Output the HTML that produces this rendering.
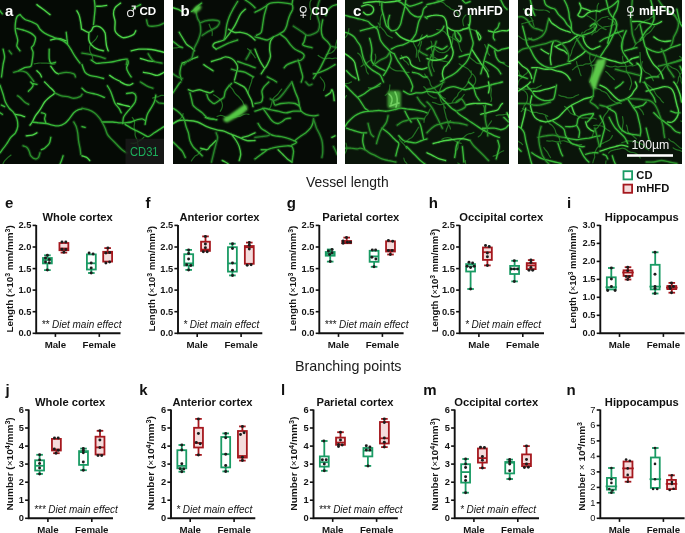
<!DOCTYPE html>
<html><head><meta charset="utf-8"><style>
html,body{margin:0;padding:0;background:#fff;width:685px;height:533px;overflow:hidden}
svg{display:block;will-change:transform}
text{font-family:"Liberation Sans",sans-serif}
</style></head><body>
<svg width="685" height="533" viewBox="0 0 685 533">
<defs><filter id="soft" x="-30%" y="-30%" width="160%" height="160%"><feGaussianBlur stdDeviation="0.8"/></filter></defs>
<rect width="685" height="533" fill="#fff"/>
<rect x="0" y="0" width="164" height="164" fill="#050a05"/>
<clipPath id="clipi0"><rect x="0" y="0" width="164" height="164"/></clipPath>
<g clip-path="url(#clipi0)" fill="none" stroke-linecap="round" stroke-linejoin="round">
<path d="M139.0,149.1 C138.9,148.6 138.6,147.2 138.3,146.2 C138.1,145.2 137.9,144.2 137.7,143.3 C137.5,142.3 137.6,141.2 137.3,140.3 C137.0,139.3 136.3,138.5 136.0,137.6 C135.6,136.7 135.2,135.7 135.1,134.7 C134.9,133.8 135.3,132.7 135.1,131.7 C135.0,130.8 134.5,129.8 134.3,128.8 C134.2,127.9 134.1,126.8 134.2,125.9 C134.2,124.9 134.6,123.9 134.6,122.9 C134.6,121.9 134.4,120.8 134.0,119.9 C133.6,119.0 132.6,117.9 132.3,117.5 M97.6,35.9 C97.4,36.4 96.8,37.7 96.2,38.6 C95.6,39.4 94.9,40.1 94.2,40.8 C93.5,41.5 92.7,42.1 92.0,42.9 C91.4,43.6 90.6,44.4 90.2,45.3 C89.8,46.2 89.6,47.2 89.6,48.2 C89.5,49.2 89.7,50.2 90.0,51.2 C90.3,52.1 90.8,53.0 91.2,53.9 C91.6,54.8 92.1,55.7 92.4,56.7 C92.6,57.6 92.8,59.1 92.9,59.6 M34.3,63.9 C34.8,63.8 36.2,63.5 37.2,63.3 C38.2,63.2 39.2,63.0 40.2,63.0 C41.2,63.0 42.2,63.1 43.2,63.1 C44.2,63.2 45.2,63.2 46.2,63.2 C47.2,63.2 48.2,63.2 49.2,63.4 C50.2,63.5 51.1,64.0 52.1,64.1 C53.1,64.2 54.6,64.0 55.1,63.9 M131.0,143.2 C131.5,143.2 133.0,143.5 134.0,143.4 C135.0,143.3 136.0,142.9 136.9,142.5 C137.7,142.1 138.5,141.3 139.3,140.7 C140.1,140.2 141.2,139.9 141.9,139.3 C142.7,138.7 143.6,137.5 144.0,137.1 M11.0,155.1 C10.6,155.4 9.3,156.3 8.5,156.9 C7.8,157.6 7.1,158.3 6.4,159.0 C5.7,159.7 4.9,160.4 4.4,161.2 C3.8,162.0 3.5,163.0 3.0,163.9 C2.5,164.7 1.9,165.5 1.4,166.4 C1.0,167.3 0.6,168.3 0.5,169.3 C0.3,170.3 0.4,171.3 0.5,172.3 C0.6,173.3 1.0,174.2 1.2,175.2 C1.5,176.1 2.1,177.5 2.2,178.0 M152.6,98.1 C153.0,97.9 154.4,97.3 155.4,97.1 C156.4,96.8 157.4,96.9 158.4,96.6 C159.3,96.3 160.2,95.6 161.1,95.4 C162.1,95.2 163.1,95.5 164.1,95.5 C165.1,95.4 166.1,95.4 167.1,95.2 C168.1,95.0 169.1,94.8 170.0,94.4 C170.9,94.0 172.2,93.2 172.6,93.0" stroke="#2b8f2b" stroke-width="1.2" opacity="0.75"/>
<path d="M36.9,4.6 C37.9,5.4 40.9,7.6 43.1,9.2 C45.3,10.9 48.8,13.7 50.0,14.6 M0.0,10.8 L2.3,13.8 M20.0,14.6 C19.5,15.0 17.7,15.5 16.9,16.9 C16.2,18.3 15.6,20.8 15.4,23.1 C15.1,25.4 15.0,27.9 15.4,30.8 C15.8,33.6 17.4,37.4 17.7,40.0 C17.9,42.6 16.5,44.4 16.9,46.2 C17.3,47.9 19.5,50.0 20.0,50.8 M20.0,14.6 C20.8,15.4 22.8,18.1 24.6,19.2 C26.4,20.4 28.7,20.6 30.8,21.5 C32.8,22.4 35.4,23.3 36.9,24.6 C38.5,25.9 38.7,27.8 40.0,29.2 C41.3,30.6 42.8,31.9 44.6,33.1 C46.4,34.2 48.7,35.3 50.8,36.2 C52.8,37.1 54.9,37.7 56.9,38.5 C59.0,39.2 61.3,39.7 63.1,40.8 C64.9,41.8 66.4,43.2 67.7,44.6 C69.0,46.0 69.5,47.2 70.8,49.2 C72.1,51.3 73.8,54.6 75.4,56.9 C76.9,59.2 79.2,62.1 80.0,63.1 M16.9,28.5 C17.9,28.7 20.8,29.2 23.1,30.0 C25.4,30.8 28.7,31.8 30.8,33.1 C32.8,34.4 34.9,35.8 35.4,37.7 C35.9,39.6 34.5,42.9 33.8,44.6 C33.2,46.3 31.7,46.4 31.5,47.7 C31.4,49.0 32.9,50.3 33.1,52.3 C33.2,54.4 32.7,57.7 32.3,60.0 C31.9,62.3 32.1,64.9 30.8,66.2 C29.5,67.4 26.7,66.9 24.6,67.7 C22.6,68.5 19.5,70.3 18.5,70.8 M3.1,49.2 C3.3,50.5 4.6,54.4 4.6,56.9 C4.6,59.5 3.6,61.3 3.1,64.6 C2.6,67.9 1.8,74.9 1.5,76.9 M9.2,50.8 L11.5,53.8 M49.2,49.2 C49.2,50.8 49.0,56.2 49.2,58.5 C49.5,60.8 49.7,62.4 50.8,63.1 C51.8,63.7 54.6,62.4 55.4,62.3 M50.8,40.0 C52.1,39.7 55.9,38.3 58.5,38.5 C61.0,38.6 64.9,40.4 66.2,40.8 M66.2,32.3 C66.3,33.3 66.7,36.4 66.9,38.5 C67.2,40.5 67.6,43.6 67.7,44.6 M76.9,10.8 C77.3,11.5 78.6,13.3 79.2,15.4 C79.9,17.4 80.4,20.8 80.8,23.1 C81.2,25.4 81.4,28.2 81.5,29.2 M13.8,72.3 C14.9,72.1 17.9,70.8 20.0,70.8 C22.1,70.8 24.6,71.5 26.2,72.3 C27.7,73.1 27.9,73.8 29.2,75.4 C30.5,76.9 33.1,80.5 33.8,81.5 M58.5,73.8 C59.7,73.6 63.6,72.3 66.2,72.3 C68.7,72.3 72.3,73.1 73.8,73.8 C75.4,74.6 75.1,76.4 75.4,76.9 M50.8,66.2 C51.5,67.2 54.1,71.0 55.4,72.3 C56.7,73.6 57.9,73.6 58.5,73.8 M36.9,70.8 C37.4,71.3 39.2,72.8 40.0,73.8 C40.8,74.9 41.3,76.4 41.5,76.9 M94.3,0.0 C94.4,1.3 95.1,4.9 95.1,7.7 C95.1,10.5 94.6,14.1 94.3,16.9 C94.1,19.7 93.7,23.3 93.5,24.6 M96.6,6.2 C97.5,6.2 100.3,6.3 102.0,6.2 C103.7,6.0 105.8,5.5 106.6,5.4 M120.5,3.1 C119.6,3.8 116.2,5.9 115.1,7.7 C113.9,9.5 113.5,11.5 113.5,13.8 C113.5,16.2 114.8,18.7 115.1,21.5 C115.3,24.4 114.4,28.5 115.1,30.8 C115.7,33.1 117.6,34.2 118.9,35.4 C120.2,36.5 121.2,37.4 122.8,37.7 C124.3,37.9 126.4,37.4 128.2,36.9 C129.9,36.4 132.3,35.6 133.5,34.6 C134.8,33.6 135.5,31.4 135.8,30.8 M82.0,29.2 C83.0,29.7 86.6,32.1 88.2,32.3 C89.7,32.6 90.3,31.7 91.2,30.8 C92.1,29.9 92.5,27.7 93.5,26.9 C94.6,26.2 96.0,25.9 97.4,26.2 C98.8,26.4 100.7,27.3 102.0,28.5 C103.3,29.6 104.4,31.2 105.1,33.1 C105.7,35.0 105.6,37.8 105.8,40.0 C106.1,42.2 106.2,44.4 106.6,46.2 C107.0,47.9 107.9,50.0 108.2,50.8 M88.9,33.1 C88.9,34.2 88.5,38.1 88.9,40.0 C89.3,41.9 89.8,43.1 91.2,44.6 C92.6,46.2 95.3,48.2 97.4,49.2 C99.4,50.3 102.5,50.5 103.5,50.8 M132.8,8.5 L140.5,4.6 M146.6,20.0 C146.9,20.9 147.1,24.4 148.2,25.4 C149.2,26.4 151.0,26.2 152.8,26.2 C154.6,26.2 157.1,25.9 158.9,25.4 C160.8,24.9 163.2,23.5 164.0,23.1 M131.2,50.8 C132.5,50.5 136.4,49.5 138.9,49.2 C141.5,49.0 144.1,49.1 146.6,49.2 C149.2,49.4 151.4,49.5 154.3,50.0 C157.2,50.5 162.4,51.9 164.0,52.3 M82.0,53.1 C83.5,53.3 88.2,54.0 91.2,54.6 C94.3,55.3 98.2,56.3 100.5,56.9 C102.8,57.6 104.3,58.2 105.1,58.5 M91.2,60.0 C92.0,60.5 94.3,62.6 95.8,63.1 C97.4,63.6 98.4,63.2 100.5,63.1 C102.5,62.9 105.8,62.6 108.2,62.3 C110.5,62.1 112.3,61.9 114.3,61.5 C116.4,61.2 118.4,60.4 120.5,60.0 C122.5,59.6 125.3,58.7 126.6,59.2 C127.9,59.7 128.2,61.7 128.2,63.1 C128.2,64.5 126.6,66.2 126.6,67.7 C126.6,69.2 127.4,70.8 128.2,72.3 C128.9,73.8 130.7,76.2 131.2,76.9 M127.4,59.2 L126.3,64.6 M148.2,53.8 C148.7,54.6 150.2,57.2 151.2,58.5 C152.3,59.7 152.5,60.8 154.3,61.5 C156.1,62.3 160.7,62.8 162.0,63.1 M140.5,58.5 C141.7,58.8 145.8,60.3 148.2,60.8 C150.5,61.3 153.3,61.4 154.3,61.5 M82.0,64.6 C82.5,65.9 83.8,70.5 85.1,72.3 C86.4,74.1 87.6,74.6 89.7,75.4 C91.7,76.2 95.1,76.4 97.4,76.9 C99.7,77.4 102.5,78.2 103.5,78.5 M109.7,75.4 C110.5,75.9 112.5,77.4 114.3,78.5 C116.1,79.5 119.4,81.0 120.5,81.5 M143.5,72.3 C144.8,72.6 148.9,73.3 151.2,73.8 C153.5,74.4 155.3,75.6 157.4,75.4 C159.5,75.1 162.9,72.8 164.0,72.3 M0.0,85.1 C0.5,86.6 2.2,91.5 3.1,94.3 C4.0,97.1 4.4,99.7 5.4,102.0 C6.4,104.3 7.8,106.4 9.2,108.2 C10.6,109.9 12.6,111.0 13.8,112.8 C15.1,114.6 16.3,116.6 16.9,118.9 C17.6,121.2 17.9,124.3 17.7,126.6 C17.4,128.9 16.5,131.0 15.4,132.8 C14.2,134.6 12.2,135.6 10.8,137.4 C9.4,139.2 8.3,141.5 6.9,143.5 C5.5,145.6 3.5,148.2 2.3,149.7 C1.2,151.2 0.4,152.3 0.0,152.8 M30.8,82.0 C31.2,82.5 32.9,84.1 33.1,85.1 C33.2,86.1 32.3,87.1 31.5,88.2 C30.8,89.2 29.0,90.7 28.5,91.2 M32.3,83.5 L36.9,84.3 M44.6,82.0 C45.4,82.8 47.6,84.8 49.2,86.6 C50.9,88.4 54.6,91.0 54.6,92.8 C54.6,94.6 50.9,95.8 49.2,97.4 C47.6,98.9 46.2,99.9 44.6,102.0 C43.1,104.1 41.5,107.4 40.0,109.7 C38.5,112.0 36.7,113.8 35.4,115.8 C34.1,117.9 33.2,120.5 32.3,122.0 C31.4,123.5 30.4,124.6 30.0,125.1 M54.6,92.8 C55.8,93.3 59.4,95.2 61.5,95.8 C63.7,96.5 65.6,96.2 67.7,96.6 C69.7,97.0 71.8,98.2 73.8,98.2 C75.9,98.2 78.6,97.3 80.0,96.6 C81.4,96.0 81.7,94.7 82.0,94.3 M17.7,95.8 C18.1,96.1 18.8,96.4 20.0,97.4 C21.2,98.4 23.2,100.8 24.6,102.0 C26.0,103.2 27.8,103.9 28.5,104.3 M15.4,114.3 C16.2,114.4 18.5,114.7 20.0,115.1 C21.5,115.5 23.8,116.4 24.6,116.6 M41.5,112.8 C42.2,113.0 44.9,113.3 45.4,114.3 C45.9,115.3 44.5,117.4 44.6,118.9 C44.7,120.5 45.9,122.8 46.2,123.5 M32.3,122.0 C33.3,122.1 36.2,122.5 38.5,122.8 C40.8,123.0 43.8,123.2 46.2,123.5 C48.5,123.9 50.3,124.7 52.3,125.1 C54.4,125.5 56.4,126.1 58.5,125.8 C60.5,125.6 62.8,124.7 64.6,123.5 C66.4,122.4 67.7,120.7 69.2,118.9 C70.8,117.1 72.3,114.3 73.8,112.8 C75.4,111.2 77.1,110.3 78.5,109.7 C79.8,109.1 81.4,109.1 82.0,108.9 M73.8,122.0 C74.2,122.8 75.5,124.8 76.2,126.6 C76.8,128.4 77.3,130.5 77.7,132.8 C78.1,135.1 78.1,137.9 78.5,140.5 C78.8,143.0 79.6,145.8 80.0,148.2 C80.4,150.5 80.6,153.3 80.8,154.3 M26.2,135.8 C27.2,135.7 30.5,135.6 32.3,135.1 C34.1,134.6 36.2,133.2 36.9,132.8 M50.8,137.4 C50.5,138.4 50.3,141.7 49.2,143.5 C48.2,145.3 45.9,147.1 44.6,148.2 C43.3,149.2 42.1,149.4 41.5,149.7 M23.1,145.8 C23.7,146.1 25.9,146.5 26.9,147.4 C27.9,148.3 28.6,149.8 29.2,151.2 C29.9,152.6 29.7,154.6 30.8,155.8 C31.8,157.1 34.1,158.7 35.4,158.9 C36.7,159.2 37.7,158.4 38.5,157.4 C39.2,156.4 39.7,153.5 40.0,152.8 M63.1,155.8 C62.8,156.6 62.1,159.1 61.5,160.5 C61.0,161.8 60.3,163.4 60.0,164.0 M0.0,112.8 L2.3,114.3 M1.5,105.1 L4.6,106.6 M82.0,88.2 C82.8,88.8 84.8,91.1 86.6,92.0 C88.4,92.9 90.7,93.0 92.8,93.5 C94.8,94.1 97.0,94.4 98.9,95.1 C100.8,95.7 103.4,97.0 104.3,97.4 M120.5,82.0 C121.2,82.4 123.5,83.8 125.1,84.3 C126.6,84.8 128.4,85.2 129.7,85.1 C131.0,84.9 132.3,83.8 132.8,83.5 M107.4,85.8 C107.9,86.7 109.6,89.3 110.5,91.2 C111.4,93.2 112.0,95.3 112.8,97.4 C113.5,99.4 114.1,101.7 115.1,103.5 C116.1,105.3 117.9,106.6 118.9,108.2 C119.9,109.7 120.8,112.0 121.2,112.8 M126.6,93.5 C127.6,93.4 131.2,92.4 132.8,92.8 C134.3,93.2 135.5,94.3 135.8,95.8 C136.2,97.4 135.8,100.1 135.1,102.0 C134.3,103.9 132.6,105.6 131.2,107.4 C129.8,109.2 127.9,111.1 126.6,112.8 C125.3,114.4 124.2,115.6 123.5,117.4 C122.9,119.2 122.9,122.5 122.8,123.5 M117.4,103.5 C118.4,103.8 121.5,104.6 123.5,105.1 C125.6,105.6 128.7,106.4 129.7,106.6 M82.0,108.2 C83.0,108.4 86.1,108.9 88.2,109.7 C90.2,110.5 92.5,111.5 94.3,112.8 C96.1,114.1 97.6,115.8 98.9,117.4 C100.2,118.9 101.0,120.2 102.0,122.0 C103.0,123.8 104.2,126.1 105.1,128.2 C106.0,130.2 106.4,132.5 107.4,134.3 C108.4,136.1 109.8,137.4 111.2,138.9 C112.6,140.5 114.1,141.7 115.8,143.5 C117.6,145.3 120.2,148.2 122.0,149.7 C123.8,151.2 125.8,152.3 126.6,152.8 M102.0,122.0 C102.8,122.0 104.8,122.0 106.6,122.0 C108.4,122.0 110.7,121.9 112.8,122.0 C114.8,122.1 116.9,122.6 118.9,122.8 C121.0,122.9 123.0,122.9 125.1,122.8 C127.1,122.6 129.2,122.5 131.2,122.0 C133.3,121.5 135.6,120.2 137.4,119.7 C139.2,119.2 140.7,118.8 142.0,118.9 C143.3,119.1 144.6,120.2 145.1,120.5 M125.1,124.3 C126.1,124.9 129.2,127.0 131.2,128.2 C133.3,129.3 135.3,130.2 137.4,131.2 C139.4,132.3 141.7,133.4 143.5,134.3 C145.3,135.2 146.4,136.9 148.2,136.6 C149.9,136.4 152.3,134.1 154.3,132.8 C156.4,131.5 158.8,129.9 160.5,128.9 C162.1,127.9 163.4,127.0 164.0,126.6 M155.8,95.1 C155.6,96.2 155.2,99.7 154.3,102.0 C153.4,104.3 151.6,106.9 150.5,108.9 C149.3,111.0 148.2,112.4 147.4,114.3 C146.6,116.2 146.2,118.8 145.8,120.5 C145.5,122.1 145.2,123.7 145.1,124.3 M155.8,100.5 C156.4,100.8 157.6,102.3 158.9,102.8 C160.3,103.3 163.2,103.4 164.0,103.5 M140.5,82.0 C141.5,82.6 144.6,84.8 146.6,85.8 C148.7,86.9 151.7,87.8 152.8,88.2 M82.0,126.6 L85.1,127.4 M82.0,155.8 C82.8,156.1 85.3,156.6 86.6,157.4 C87.9,158.2 89.2,159.9 89.7,160.5" stroke="#3cb83c" stroke-width="3.5" opacity="0.2"/>
<path d="M36.9,4.6 C37.9,5.4 40.9,7.6 43.1,9.2 C45.3,10.9 48.8,13.7 50.0,14.6 M50.8,40.0 C52.1,39.7 55.9,38.3 58.5,38.5 C61.0,38.6 64.9,40.4 66.2,40.8 M76.9,10.8 C77.3,11.5 78.6,13.3 79.2,15.4 C79.9,17.4 80.4,20.8 80.8,23.1 C81.2,25.4 81.4,28.2 81.5,29.2 M50.8,66.2 C51.5,67.2 54.1,71.0 55.4,72.3 C56.7,73.6 57.9,73.6 58.5,73.8 M36.9,70.8 C37.4,71.3 39.2,72.8 40.0,73.8 C40.8,74.9 41.3,76.4 41.5,76.9 M96.6,6.2 C97.5,6.2 100.3,6.3 102.0,6.2 C103.7,6.0 105.8,5.5 106.6,5.4 M120.5,3.1 C119.6,3.8 116.2,5.9 115.1,7.7 C113.9,9.5 113.5,11.5 113.5,13.8 C113.5,16.2 114.8,18.7 115.1,21.5 C115.3,24.4 114.4,28.5 115.1,30.8 C115.7,33.1 117.6,34.2 118.9,35.4 C120.2,36.5 121.2,37.4 122.8,37.7 C124.3,37.9 126.4,37.4 128.2,36.9 C129.9,36.4 132.3,35.6 133.5,34.6 C134.8,33.6 135.5,31.4 135.8,30.8 M82.0,29.2 C83.0,29.7 86.6,32.1 88.2,32.3 C89.7,32.6 90.3,31.7 91.2,30.8 C92.1,29.9 92.5,27.7 93.5,26.9 C94.6,26.2 96.0,25.9 97.4,26.2 C98.8,26.4 100.7,27.3 102.0,28.5 C103.3,29.6 104.4,31.2 105.1,33.1 C105.7,35.0 105.6,37.8 105.8,40.0 C106.1,42.2 106.2,44.4 106.6,46.2 C107.0,47.9 107.9,50.0 108.2,50.8 M88.9,33.1 C88.9,34.2 88.5,38.1 88.9,40.0 C89.3,41.9 89.8,43.1 91.2,44.6 C92.6,46.2 95.3,48.2 97.4,49.2 C99.4,50.3 102.5,50.5 103.5,50.8 M131.2,50.8 C132.5,50.5 136.4,49.5 138.9,49.2 C141.5,49.0 144.1,49.1 146.6,49.2 C149.2,49.4 151.4,49.5 154.3,50.0 C157.2,50.5 162.4,51.9 164.0,52.3 M140.5,58.5 C141.7,58.8 145.8,60.3 148.2,60.8 C150.5,61.3 153.3,61.4 154.3,61.5 M109.7,75.4 C110.5,75.9 112.5,77.4 114.3,78.5 C116.1,79.5 119.4,81.0 120.5,81.5 M143.5,72.3 C144.8,72.6 148.9,73.3 151.2,73.8 C153.5,74.4 155.3,75.6 157.4,75.4 C159.5,75.1 162.9,72.8 164.0,72.3 M44.6,82.0 C45.4,82.8 47.6,84.8 49.2,86.6 C50.9,88.4 54.6,91.0 54.6,92.8 C54.6,94.6 50.9,95.8 49.2,97.4 C47.6,98.9 46.2,99.9 44.6,102.0 C43.1,104.1 41.5,107.4 40.0,109.7 C38.5,112.0 36.7,113.8 35.4,115.8 C34.1,117.9 33.2,120.5 32.3,122.0 C31.4,123.5 30.4,124.6 30.0,125.1 M15.4,114.3 C16.2,114.4 18.5,114.7 20.0,115.1 C21.5,115.5 23.8,116.4 24.6,116.6 M26.2,135.8 C27.2,135.7 30.5,135.6 32.3,135.1 C34.1,134.6 36.2,133.2 36.9,132.8 M120.5,82.0 C121.2,82.4 123.5,83.8 125.1,84.3 C126.6,84.8 128.4,85.2 129.7,85.1 C131.0,84.9 132.3,83.8 132.8,83.5 M117.4,103.5 C118.4,103.8 121.5,104.6 123.5,105.1 C125.6,105.6 128.7,106.4 129.7,106.6 M82.0,155.8 C82.8,156.1 85.3,156.6 86.6,157.4 C87.9,158.2 89.2,159.9 89.7,160.5" stroke="#4cd447" stroke-width="1.35"/>
<path d="M0.0,10.8 L2.3,13.8 M20.0,14.6 C19.5,15.0 17.7,15.5 16.9,16.9 C16.2,18.3 15.6,20.8 15.4,23.1 C15.1,25.4 15.0,27.9 15.4,30.8 C15.8,33.6 17.4,37.4 17.7,40.0 C17.9,42.6 16.5,44.4 16.9,46.2 C17.3,47.9 19.5,50.0 20.0,50.8 M20.0,14.6 C20.8,15.4 22.8,18.1 24.6,19.2 C26.4,20.4 28.7,20.6 30.8,21.5 C32.8,22.4 35.4,23.3 36.9,24.6 C38.5,25.9 38.7,27.8 40.0,29.2 C41.3,30.6 42.8,31.9 44.6,33.1 C46.4,34.2 48.7,35.3 50.8,36.2 C52.8,37.1 54.9,37.7 56.9,38.5 C59.0,39.2 61.3,39.7 63.1,40.8 C64.9,41.8 66.4,43.2 67.7,44.6 C69.0,46.0 69.5,47.2 70.8,49.2 C72.1,51.3 73.8,54.6 75.4,56.9 C76.9,59.2 79.2,62.1 80.0,63.1 M16.9,28.5 C17.9,28.7 20.8,29.2 23.1,30.0 C25.4,30.8 28.7,31.8 30.8,33.1 C32.8,34.4 34.9,35.8 35.4,37.7 C35.9,39.6 34.5,42.9 33.8,44.6 C33.2,46.3 31.7,46.4 31.5,47.7 C31.4,49.0 32.9,50.3 33.1,52.3 C33.2,54.4 32.7,57.7 32.3,60.0 C31.9,62.3 32.1,64.9 30.8,66.2 C29.5,67.4 26.7,66.9 24.6,67.7 C22.6,68.5 19.5,70.3 18.5,70.8 M3.1,49.2 C3.3,50.5 4.6,54.4 4.6,56.9 C4.6,59.5 3.6,61.3 3.1,64.6 C2.6,67.9 1.8,74.9 1.5,76.9 M49.2,49.2 C49.2,50.8 49.0,56.2 49.2,58.5 C49.5,60.8 49.7,62.4 50.8,63.1 C51.8,63.7 54.6,62.4 55.4,62.3 M66.2,32.3 C66.3,33.3 66.7,36.4 66.9,38.5 C67.2,40.5 67.6,43.6 67.7,44.6 M94.3,0.0 C94.4,1.3 95.1,4.9 95.1,7.7 C95.1,10.5 94.6,14.1 94.3,16.9 C94.1,19.7 93.7,23.3 93.5,24.6 M132.8,8.5 L140.5,4.6 M91.2,60.0 C92.0,60.5 94.3,62.6 95.8,63.1 C97.4,63.6 98.4,63.2 100.5,63.1 C102.5,62.9 105.8,62.6 108.2,62.3 C110.5,62.1 112.3,61.9 114.3,61.5 C116.4,61.2 118.4,60.4 120.5,60.0 C122.5,59.6 125.3,58.7 126.6,59.2 C127.9,59.7 128.2,61.7 128.2,63.1 C128.2,64.5 126.6,66.2 126.6,67.7 C126.6,69.2 127.4,70.8 128.2,72.3 C128.9,73.8 130.7,76.2 131.2,76.9 M82.0,64.6 C82.5,65.9 83.8,70.5 85.1,72.3 C86.4,74.1 87.6,74.6 89.7,75.4 C91.7,76.2 95.1,76.4 97.4,76.9 C99.7,77.4 102.5,78.2 103.5,78.5 M0.0,85.1 C0.5,86.6 2.2,91.5 3.1,94.3 C4.0,97.1 4.4,99.7 5.4,102.0 C6.4,104.3 7.8,106.4 9.2,108.2 C10.6,109.9 12.6,111.0 13.8,112.8 C15.1,114.6 16.3,116.6 16.9,118.9 C17.6,121.2 17.9,124.3 17.7,126.6 C17.4,128.9 16.5,131.0 15.4,132.8 C14.2,134.6 12.2,135.6 10.8,137.4 C9.4,139.2 8.3,141.5 6.9,143.5 C5.5,145.6 3.5,148.2 2.3,149.7 C1.2,151.2 0.4,152.3 0.0,152.8 M30.8,82.0 C31.2,82.5 32.9,84.1 33.1,85.1 C33.2,86.1 32.3,87.1 31.5,88.2 C30.8,89.2 29.0,90.7 28.5,91.2 M32.3,83.5 L36.9,84.3 M41.5,112.8 C42.2,113.0 44.9,113.3 45.4,114.3 C45.9,115.3 44.5,117.4 44.6,118.9 C44.7,120.5 45.9,122.8 46.2,123.5 M32.3,122.0 C33.3,122.1 36.2,122.5 38.5,122.8 C40.8,123.0 43.8,123.2 46.2,123.5 C48.5,123.9 50.3,124.7 52.3,125.1 C54.4,125.5 56.4,126.1 58.5,125.8 C60.5,125.6 62.8,124.7 64.6,123.5 C66.4,122.4 67.7,120.7 69.2,118.9 C70.8,117.1 72.3,114.3 73.8,112.8 C75.4,111.2 77.1,110.3 78.5,109.7 C79.8,109.1 81.4,109.1 82.0,108.9 M50.8,137.4 C50.5,138.4 50.3,141.7 49.2,143.5 C48.2,145.3 45.9,147.1 44.6,148.2 C43.3,149.2 42.1,149.4 41.5,149.7 M63.1,155.8 C62.8,156.6 62.1,159.1 61.5,160.5 C61.0,161.8 60.3,163.4 60.0,164.0 M0.0,112.8 L2.3,114.3 M1.5,105.1 L4.6,106.6 M82.0,88.2 C82.8,88.8 84.8,91.1 86.6,92.0 C88.4,92.9 90.7,93.0 92.8,93.5 C94.8,94.1 97.0,94.4 98.9,95.1 C100.8,95.7 103.4,97.0 104.3,97.4 M107.4,85.8 C107.9,86.7 109.6,89.3 110.5,91.2 C111.4,93.2 112.0,95.3 112.8,97.4 C113.5,99.4 114.1,101.7 115.1,103.5 C116.1,105.3 117.9,106.6 118.9,108.2 C119.9,109.7 120.8,112.0 121.2,112.8 M126.6,93.5 C127.6,93.4 131.2,92.4 132.8,92.8 C134.3,93.2 135.5,94.3 135.8,95.8 C136.2,97.4 135.8,100.1 135.1,102.0 C134.3,103.9 132.6,105.6 131.2,107.4 C129.8,109.2 127.9,111.1 126.6,112.8 C125.3,114.4 124.2,115.6 123.5,117.4 C122.9,119.2 122.9,122.5 122.8,123.5 M102.0,122.0 C102.8,122.0 104.8,122.0 106.6,122.0 C108.4,122.0 110.7,121.9 112.8,122.0 C114.8,122.1 116.9,122.6 118.9,122.8 C121.0,122.9 123.0,122.9 125.1,122.8 C127.1,122.6 129.2,122.5 131.2,122.0 C133.3,121.5 135.6,120.2 137.4,119.7 C139.2,119.2 140.7,118.8 142.0,118.9 C143.3,119.1 144.6,120.2 145.1,120.5 M125.1,124.3 C126.1,124.9 129.2,127.0 131.2,128.2 C133.3,129.3 135.3,130.2 137.4,131.2 C139.4,132.3 141.7,133.4 143.5,134.3 C145.3,135.2 146.4,136.9 148.2,136.6 C149.9,136.4 152.3,134.1 154.3,132.8 C156.4,131.5 158.8,129.9 160.5,128.9 C162.1,127.9 163.4,127.0 164.0,126.6 M155.8,95.1 C155.6,96.2 155.2,99.7 154.3,102.0 C153.4,104.3 151.6,106.9 150.5,108.9 C149.3,111.0 148.2,112.4 147.4,114.3 C146.6,116.2 146.2,118.8 145.8,120.5 C145.5,122.1 145.2,123.7 145.1,124.3 M82.0,126.6 L85.1,127.4" stroke="#38b938" stroke-width="1.35"/>
<path d="M9.2,50.8 L11.5,53.8 M13.8,72.3 C14.9,72.1 17.9,70.8 20.0,70.8 C22.1,70.8 24.6,71.5 26.2,72.3 C27.7,73.1 27.9,73.8 29.2,75.4 C30.5,76.9 33.1,80.5 33.8,81.5 M58.5,73.8 C59.7,73.6 63.6,72.3 66.2,72.3 C68.7,72.3 72.3,73.1 73.8,73.8 C75.4,74.6 75.1,76.4 75.4,76.9 M146.6,20.0 C146.9,20.9 147.1,24.4 148.2,25.4 C149.2,26.4 151.0,26.2 152.8,26.2 C154.6,26.2 157.1,25.9 158.9,25.4 C160.8,24.9 163.2,23.5 164.0,23.1 M82.0,53.1 C83.5,53.3 88.2,54.0 91.2,54.6 C94.3,55.3 98.2,56.3 100.5,56.9 C102.8,57.6 104.3,58.2 105.1,58.5 M127.4,59.2 L126.3,64.6 M148.2,53.8 C148.7,54.6 150.2,57.2 151.2,58.5 C152.3,59.7 152.5,60.8 154.3,61.5 C156.1,62.3 160.7,62.8 162.0,63.1 M54.6,92.8 C55.8,93.3 59.4,95.2 61.5,95.8 C63.7,96.5 65.6,96.2 67.7,96.6 C69.7,97.0 71.8,98.2 73.8,98.2 C75.9,98.2 78.6,97.3 80.0,96.6 C81.4,96.0 81.7,94.7 82.0,94.3 M17.7,95.8 C18.1,96.1 18.8,96.4 20.0,97.4 C21.2,98.4 23.2,100.8 24.6,102.0 C26.0,103.2 27.8,103.9 28.5,104.3 M73.8,122.0 C74.2,122.8 75.5,124.8 76.2,126.6 C76.8,128.4 77.3,130.5 77.7,132.8 C78.1,135.1 78.1,137.9 78.5,140.5 C78.8,143.0 79.6,145.8 80.0,148.2 C80.4,150.5 80.6,153.3 80.8,154.3 M23.1,145.8 C23.7,146.1 25.9,146.5 26.9,147.4 C27.9,148.3 28.6,149.8 29.2,151.2 C29.9,152.6 29.7,154.6 30.8,155.8 C31.8,157.1 34.1,158.7 35.4,158.9 C36.7,159.2 37.7,158.4 38.5,157.4 C39.2,156.4 39.7,153.5 40.0,152.8 M82.0,108.2 C83.0,108.4 86.1,108.9 88.2,109.7 C90.2,110.5 92.5,111.5 94.3,112.8 C96.1,114.1 97.6,115.8 98.9,117.4 C100.2,118.9 101.0,120.2 102.0,122.0 C103.0,123.8 104.2,126.1 105.1,128.2 C106.0,130.2 106.4,132.5 107.4,134.3 C108.4,136.1 109.8,137.4 111.2,138.9 C112.6,140.5 114.1,141.7 115.8,143.5 C117.6,145.3 120.2,148.2 122.0,149.7 C123.8,151.2 125.8,152.3 126.6,152.8 M155.8,100.5 C156.4,100.8 157.6,102.3 158.9,102.8 C160.3,103.3 163.2,103.4 164.0,103.5 M140.5,82.0 C141.5,82.6 144.6,84.8 146.6,85.8 C148.7,86.9 151.7,87.8 152.8,88.2" stroke="#2a922a" stroke-width="1.35"/>
<rect x="125.5" y="138.7" width="39" height="26" fill="#1b1b1b" opacity="0.82"/>
</g>
<rect x="173" y="0" width="164" height="164" fill="#060b06"/>
<clipPath id="clipi1"><rect x="173" y="0" width="164" height="164"/></clipPath>
<g clip-path="url(#clipi1)" fill="none" stroke-linecap="round" stroke-linejoin="round">
<path d="M310.5,19.5 C310.5,19.0 310.4,17.5 310.5,16.5 C310.7,15.5 311.2,14.6 311.3,13.6 C311.4,12.6 311.3,11.6 311.1,10.6 C310.9,9.6 310.3,8.8 310.1,7.8 C309.9,6.8 309.8,5.8 309.8,4.8 C309.9,3.8 309.9,2.8 310.2,1.8 C310.5,0.9 311.2,0.1 311.6,-0.8 C312.1,-1.7 312.3,-2.8 312.9,-3.6 C313.4,-4.4 314.4,-4.9 315.0,-5.7 C315.6,-6.5 315.7,-7.6 316.3,-8.4 C316.9,-9.1 318.2,-10.0 318.6,-10.3 M318.1,55.4 C318.5,55.6 319.7,56.5 320.5,57.0 C321.4,57.5 322.3,58.1 323.2,58.4 C324.2,58.6 325.2,58.6 326.2,58.6 C327.2,58.5 328.2,58.1 329.2,58.1 C330.2,58.2 331.2,58.6 332.2,58.6 C333.1,58.6 334.1,58.0 335.1,58.0 C336.1,58.0 337.0,58.4 338.0,58.5 C339.0,58.6 340.1,58.5 341.0,58.4 C342.0,58.2 343.4,57.6 343.9,57.5 M191.4,160.9 C191.7,160.5 192.4,159.2 193.1,158.4 C193.7,157.6 194.3,156.8 195.0,156.1 C195.8,155.5 196.9,155.3 197.7,154.7 C198.4,154.1 198.8,153.1 199.5,152.3 C200.1,151.5 200.7,150.7 201.5,150.1 C202.3,149.5 203.7,148.9 204.1,148.7 M248.2,93.4 C248.3,92.9 248.4,91.4 248.7,90.4 C248.9,89.4 249.2,88.5 249.5,87.5 C249.8,86.6 250.1,85.6 250.5,84.7 C250.8,83.7 251.2,82.8 251.5,81.9 C251.8,80.9 251.8,79.8 252.1,78.9 C252.5,78.0 253.6,76.9 253.8,76.5 M220.3,111.3 C220.5,110.9 221.3,109.6 221.7,108.7 C222.1,107.8 222.4,106.8 222.5,105.8 C222.5,104.8 222.3,103.8 222.0,102.8 C221.8,101.9 221.3,100.9 220.7,100.1 C220.2,99.3 219.3,98.7 218.6,98.0 C217.8,97.4 217.0,96.8 216.2,96.3 C215.3,95.7 214.0,95.0 213.6,94.8 M246.4,109.1 C246.1,108.7 245.2,107.4 244.7,106.6 C244.2,105.7 243.9,104.8 243.5,103.9 C243.1,102.9 242.8,101.9 242.3,101.1 C241.8,100.2 241.0,99.6 240.3,98.8 C239.7,98.1 239.1,97.2 238.4,96.5 C237.7,95.8 236.9,95.2 236.2,94.5 C235.5,93.8 234.8,93.0 234.3,92.2 C233.7,91.4 233.4,90.4 232.9,89.6 C232.3,88.7 231.6,88.0 230.9,87.3 C230.2,86.5 229.2,85.5 228.8,85.1 M247.6,48.7 C248.0,49.0 249.2,49.9 249.9,50.6 C250.6,51.3 251.1,52.2 251.7,53.0 C252.4,53.8 253.1,54.5 253.7,55.3 C254.3,56.1 255.0,57.4 255.3,57.8 M217.1,116.5 C217.6,116.3 219.0,115.6 219.9,115.5 C220.9,115.4 222.0,115.5 222.9,115.8 C223.9,116.1 224.7,116.9 225.6,117.2 C226.5,117.4 227.6,117.4 228.6,117.4 C229.6,117.4 230.6,117.4 231.6,117.4 C232.6,117.4 233.6,117.4 234.6,117.2 C235.6,117.1 236.5,116.7 237.5,116.5 C238.5,116.3 239.5,116.4 240.5,116.1 C241.4,115.8 242.2,115.1 243.1,114.7 C244.1,114.4 245.1,114.1 246.1,114.0 C247.0,113.9 248.5,114.2 249.0,114.3 M183.1,113.5 C183.0,114.0 182.7,115.5 182.3,116.4 C181.8,117.3 181.1,118.0 180.4,118.7 C179.6,119.4 178.7,119.8 177.9,120.4 C177.1,121.0 176.5,121.8 175.7,122.4 C174.9,123.0 173.9,123.3 173.1,124.0 C172.3,124.6 171.9,125.5 171.1,126.2 C170.4,126.9 169.5,127.4 168.8,128.1 C168.0,128.7 167.2,129.4 166.6,130.1 C165.9,130.8 165.1,132.1 164.8,132.5 M212.1,35.6 C212.1,35.1 212.4,33.5 212.3,32.6 C212.2,31.6 212.0,30.5 211.6,29.6 C211.2,28.7 210.5,28.0 210.1,27.0 C209.7,26.1 209.3,24.7 209.1,24.2 M269.3,109.0 C269.6,108.6 270.5,107.4 270.8,106.4 C271.2,105.5 271.3,104.5 271.6,103.5 C271.8,102.6 272.0,101.6 272.4,100.6 C272.7,99.7 273.1,98.7 273.7,97.9 C274.3,97.2 275.2,96.6 275.9,95.9 C276.6,95.3 277.5,94.7 278.1,93.9 C278.8,93.2 279.2,92.3 279.8,91.4 C280.4,90.6 281.4,89.5 281.7,89.1 M326.3,54.6 C326.8,54.4 328.2,53.9 329.1,53.5 C330.0,53.2 331.0,52.9 331.9,52.4 C332.7,51.9 333.5,51.2 334.2,50.5 C334.8,49.7 335.3,48.8 335.6,47.8 C335.9,46.9 335.7,45.8 335.9,44.8 C336.0,43.9 336.2,42.9 336.5,41.9 C336.7,40.9 337.0,39.9 337.6,39.1 C338.1,38.3 339.0,37.7 339.8,37.1 C340.5,36.4 341.3,35.7 342.2,35.3 C343.1,34.9 344.1,34.9 345.1,34.7 C346.1,34.4 347.1,34.2 348.0,33.8 C348.9,33.4 350.0,32.3 350.4,32.0 M182.8,47.3 C182.3,47.3 180.8,47.1 179.8,47.2 C178.8,47.3 177.8,47.8 176.8,47.9 C175.9,48.0 174.8,47.9 173.9,48.0 C172.9,48.1 171.9,48.3 170.9,48.4 C169.9,48.5 168.8,48.4 167.9,48.6 C166.9,48.8 166.1,49.5 165.1,49.7 C164.1,50.0 163.1,50.1 162.1,49.9 C161.1,49.8 160.2,49.4 159.3,49.0 C158.3,48.6 157.4,48.2 156.7,47.5 C155.9,46.8 155.5,45.9 154.9,45.1 C154.2,44.3 153.6,43.5 152.7,43.0 C151.9,42.5 150.9,42.2 149.9,41.9 C149.0,41.7 147.5,41.5 147.0,41.4 M320.2,77.0 C320.5,77.4 321.4,78.6 322.0,79.4 C322.6,80.2 323.4,80.9 323.8,81.8 C324.3,82.7 324.6,83.7 324.7,84.7 C324.8,85.7 324.7,86.7 324.5,87.7 C324.3,88.6 323.8,90.1 323.6,90.5" stroke="#2b8f2b" stroke-width="1.2" opacity="0.75"/>
<path d="M201.5,3.1 C200.8,3.6 198.9,5.0 197.6,6.2 C196.3,7.3 194.8,9.1 193.8,10.0 C192.7,10.9 191.8,11.3 191.5,11.5 M173.0,7.7 C173.8,7.9 176.1,8.6 177.6,9.2 C179.2,9.9 181.5,11.2 182.2,11.5 M196.1,12.3 C196.3,13.3 197.0,16.7 197.6,18.5 C198.3,20.3 199.4,21.0 199.9,23.1 C200.4,25.1 200.7,28.7 200.7,30.8 C200.7,32.8 200.4,33.6 199.9,35.4 C199.4,37.2 198.5,39.5 197.6,41.5 C196.7,43.6 195.3,45.6 194.5,47.7 C193.8,49.7 193.5,52.1 193.0,53.8 C192.5,55.6 192.5,57.2 191.5,58.5 C190.4,59.7 188.1,60.5 186.8,61.5 C185.6,62.6 184.3,64.1 183.8,64.6 M199.9,23.1 C200.8,22.7 203.1,21.3 205.3,20.8 C207.5,20.3 210.7,19.9 213.0,20.0 C215.3,20.1 218.4,20.5 219.2,21.5 C219.9,22.6 218.6,24.9 217.6,26.2 C216.6,27.4 214.8,28.2 213.0,29.2 C211.2,30.3 208.6,31.3 206.8,32.3 C205.1,33.3 203.0,34.9 202.2,35.4 M237.6,1.5 C236.8,2.8 234.4,6.7 233.0,9.2 C231.6,11.8 230.2,14.4 229.2,16.9 C228.1,19.5 227.5,21.5 226.8,24.6 C226.2,27.7 225.8,32.8 225.3,35.4 C224.8,37.9 224.0,39.2 223.8,40.0 M245.3,0.0 C246.1,0.5 248.3,1.8 249.9,3.1 C251.5,4.4 254.2,6.9 255.0,7.7 M245.3,9.2 C244.5,10.0 242.0,12.1 240.7,13.8 C239.4,15.6 238.6,17.9 237.6,20.0 C236.6,22.1 235.6,24.4 234.5,26.2 C233.5,27.9 232.7,29.0 231.5,30.8 C230.2,32.6 228.1,35.4 226.8,36.9 C225.6,38.5 225.1,39.2 223.8,40.0 C222.5,40.8 220.7,41.0 219.2,41.5 C217.6,42.1 215.6,42.3 214.5,43.1 C213.5,43.8 212.7,45.1 213.0,46.2 C213.3,47.2 215.6,48.7 216.1,49.2 M228.4,29.2 C229.4,29.7 232.5,31.8 234.5,32.3 C236.6,32.8 238.6,32.1 240.7,32.3 C242.7,32.6 245.1,33.1 246.8,33.8 C248.6,34.6 250.1,35.9 251.5,36.9 C252.8,37.9 254.4,39.5 255.0,40.0 M216.1,49.2 C217.1,48.7 220.2,47.2 222.2,46.2 C224.3,45.1 225.8,44.1 228.4,43.1 C230.9,42.1 236.1,40.5 237.6,40.0 M173.0,41.5 C173.5,41.9 175.1,43.1 176.1,43.8 C177.1,44.6 178.1,45.5 179.2,46.2 C180.2,46.8 181.7,47.4 182.2,47.7 M179.2,32.3 C179.9,33.6 182.5,37.9 183.8,40.0 C185.1,42.1 185.6,43.3 186.8,44.6 C188.1,45.9 190.2,46.7 191.5,47.7 C192.7,48.7 194.0,50.3 194.5,50.8 M250.7,50.8 C250.3,51.5 249.2,54.0 248.4,55.4 C247.6,56.8 246.5,58.6 246.1,59.2 M182.2,63.1 C183.3,62.7 186.6,61.5 188.4,60.8 C190.2,60.0 191.5,59.1 193.0,58.5 C194.5,57.8 196.8,57.2 197.6,56.9 M211.5,61.5 C212.7,61.2 216.8,60.0 219.2,59.2 C221.5,58.5 223.3,57.1 225.3,56.9 C227.4,56.8 229.7,57.4 231.5,58.5 C233.3,59.5 235.1,61.5 236.1,63.1 C237.1,64.6 237.6,65.9 237.6,67.7 C237.6,69.5 236.6,71.8 236.1,73.8 C235.6,75.9 234.8,79.0 234.5,80.0 M203.8,64.6 C204.5,65.1 206.8,66.7 208.4,67.7 C209.9,68.7 212.2,70.3 213.0,70.8 M173.0,73.8 C173.8,74.4 176.1,76.2 177.6,76.9 C179.2,77.7 181.5,78.2 182.2,78.5 M182.2,63.1 C182.0,63.8 181.1,65.9 180.7,67.7 C180.3,69.5 179.8,71.8 179.9,73.8 C180.1,75.9 181.2,79.0 181.5,80.0 M231.5,69.2 C232.5,69.5 235.3,70.3 237.6,70.8 C239.9,71.3 242.7,71.3 245.3,72.3 C247.9,73.3 251.7,76.2 253.0,76.9 M237.6,61.5 C239.2,62.1 243.9,63.6 246.8,64.6 C249.7,65.6 253.6,67.2 255.0,67.7 M255.0,12.3 C256.0,11.8 259.4,10.3 261.2,9.2 C262.9,8.2 264.2,7.2 265.8,6.2 C267.3,5.1 268.3,3.7 270.4,3.1 C272.4,2.4 275.5,2.3 278.1,2.3 C280.6,2.3 283.5,2.7 285.8,3.1 C288.1,3.5 290.8,3.6 291.9,4.6 C293.1,5.6 292.9,7.7 292.7,9.2 C292.4,10.8 291.2,12.1 290.4,13.8 C289.6,15.6 288.7,17.9 288.1,20.0 C287.4,22.1 287.2,24.4 286.5,26.2 C285.9,27.9 285.4,29.5 284.2,30.8 C283.1,32.1 281.4,32.8 279.6,33.8 C277.8,34.9 275.5,35.9 273.5,36.9 C271.4,37.9 269.4,39.7 267.3,40.0 C265.3,40.3 263.2,39.0 261.2,38.5 C259.1,37.9 256.0,37.2 255.0,36.9 M267.3,4.6 C266.8,6.4 265.0,12.1 264.2,15.4 C263.5,18.7 263.2,21.8 262.7,24.6 C262.2,27.4 262.2,30.5 261.2,32.3 C260.1,34.1 257.3,34.9 256.5,35.4 M273.5,36.9 C272.9,37.7 271.0,39.5 270.4,41.5 C269.7,43.6 269.6,46.7 269.6,49.2 C269.6,51.8 270.8,54.4 270.4,56.9 C270.0,59.5 268.3,62.6 267.3,64.6 C266.3,66.7 265.3,67.7 264.2,69.2 C263.2,70.8 261.7,73.1 261.2,73.8 M279.6,33.8 C280.6,34.6 284.0,36.7 285.8,38.5 C287.6,40.3 288.8,42.8 290.4,44.6 C291.9,46.4 293.2,47.9 295.0,49.2 C296.8,50.5 299.6,51.3 301.2,52.3 C302.7,53.3 304.2,54.1 304.2,55.4 C304.2,56.7 302.7,59.0 301.2,60.0 C299.6,61.0 297.3,60.8 295.0,61.5 C292.7,62.3 289.1,63.6 287.3,64.6 C285.5,65.6 284.7,67.2 284.2,67.7 M291.9,4.6 L292.7,0.0 M255.0,49.2 C255.5,50.5 257.1,54.6 258.1,56.9 C259.1,59.2 260.1,61.3 261.2,63.1 C262.2,64.9 263.7,66.9 264.2,67.7 M293.5,26.2 C294.2,26.7 296.5,28.2 298.1,29.2 C299.6,30.3 301.2,31.3 302.7,32.3 C304.2,33.3 305.5,35.1 307.3,35.4 C309.1,35.6 311.7,34.6 313.5,33.8 C315.3,33.1 317.1,32.3 318.1,30.8 C319.1,29.2 319.6,26.7 319.6,24.6 C319.6,22.6 318.6,20.5 318.1,18.5 C317.6,16.4 316.5,14.6 316.5,12.3 C316.5,10.0 317.6,6.7 318.1,4.6 C318.6,2.6 319.4,0.8 319.6,0.0 M305.8,35.4 C305.5,36.4 304.7,40.0 304.2,41.5 C303.7,43.1 302.4,43.8 302.7,44.6 C302.9,45.4 304.2,45.6 305.8,46.2 C307.3,46.7 310.9,47.4 311.9,47.7 M322.7,20.0 C322.4,21.5 321.2,26.4 321.2,29.2 C321.2,32.1 321.7,34.9 322.7,36.9 C323.7,39.0 326.0,40.0 327.3,41.5 C328.6,43.1 330.1,44.6 330.4,46.2 C330.6,47.7 329.6,49.0 328.8,50.8 C328.1,52.6 326.8,54.9 325.8,56.9 C324.7,59.0 323.7,61.0 322.7,63.1 C321.7,65.1 320.6,67.4 319.6,69.2 C318.6,71.0 317.6,72.3 316.5,73.8 C315.5,75.4 314.0,77.7 313.5,78.5 M330.4,46.2 L337.0,47.7 M325.8,15.4 C326.0,14.6 326.3,12.3 327.3,10.8 C328.3,9.2 330.3,7.2 331.9,6.2 C333.5,5.1 336.2,4.9 337.0,4.6 M298.1,60.0 C298.3,60.8 299.1,62.8 299.6,64.6 C300.1,66.4 300.6,68.7 301.2,70.8 C301.7,72.8 302.7,75.1 302.7,76.9 C302.7,78.8 301.4,81.2 301.2,82.0 M313.5,73.8 C314.5,73.6 317.3,73.1 319.6,72.3 C321.9,71.5 324.7,70.5 327.3,69.2 C329.9,67.9 333.7,65.4 335.0,64.6 M267.3,76.9 C268.3,77.4 271.9,79.2 273.5,80.0 C275.0,80.8 276.0,81.7 276.5,82.0 M173.0,92.8 C173.5,92.0 175.1,89.7 176.1,88.2 C177.1,86.6 178.4,84.6 179.2,83.5 C179.9,82.5 180.4,82.3 180.7,82.0 M188.4,89.7 C189.2,89.9 191.2,91.2 193.0,91.2 C194.8,91.2 197.4,89.7 199.2,89.7 C200.9,89.7 202.0,90.7 203.8,91.2 C205.6,91.7 208.4,92.8 209.9,92.8 C211.5,92.8 212.5,91.5 213.0,91.2 M189.9,92.8 C190.2,93.8 190.9,96.9 191.5,98.9 C192.0,101.0 192.2,103.5 193.0,105.1 C193.8,106.6 194.5,106.9 196.1,108.2 C197.6,109.4 200.4,111.2 202.2,112.8 C204.0,114.3 205.1,116.4 206.8,117.4 C208.6,118.4 211.5,118.5 213.0,118.9 C214.5,119.3 215.6,119.6 216.1,119.7 M206.8,94.3 C207.1,95.1 207.6,97.6 208.4,98.9 C209.2,100.2 210.4,101.2 211.5,102.0 C212.5,102.8 213.3,103.8 214.5,103.5 C215.8,103.3 217.6,101.5 219.2,100.5 C220.7,99.4 222.7,98.9 223.8,97.4 C224.8,95.8 224.5,93.0 225.3,91.2 C226.1,89.4 227.4,87.9 228.4,86.6 C229.4,85.3 230.9,84.1 231.5,83.5 M173.0,108.2 C173.8,108.7 176.1,109.9 177.6,111.2 C179.2,112.5 181.1,114.3 182.2,115.8 C183.4,117.4 183.9,118.7 184.5,120.5 C185.2,122.3 185.4,124.6 186.1,126.6 C186.7,128.7 187.7,130.5 188.4,132.8 C189.0,135.1 189.2,138.2 189.9,140.5 C190.7,142.8 191.7,144.8 193.0,146.6 C194.3,148.4 196.1,149.7 197.6,151.2 C199.2,152.8 201.5,155.1 202.2,155.8 M173.0,123.5 C174.0,123.0 176.6,121.0 179.2,120.5 C181.7,119.9 185.3,120.2 188.4,120.5 C191.5,120.7 194.5,121.0 197.6,122.0 C200.7,123.0 203.8,125.3 206.8,126.6 C209.9,127.9 213.3,128.9 216.1,129.7 C218.9,130.5 221.2,130.5 223.8,131.2 C226.3,132.0 228.9,133.3 231.5,134.3 C234.0,135.3 236.6,136.4 239.2,137.4 C241.7,138.4 244.2,139.9 246.8,140.5 C249.5,141.0 253.6,140.5 255.0,140.5 M216.1,132.8 C216.3,133.5 217.6,135.6 217.6,137.4 C217.6,139.2 216.6,141.5 216.1,143.5 C215.6,145.6 215.1,147.6 214.5,149.7 C214.0,151.7 213.5,153.8 213.0,155.8 C212.5,157.9 211.7,161.0 211.5,162.0 M200.7,148.2 C201.7,148.4 205.3,149.9 206.8,149.7 C208.4,149.4 208.9,147.6 209.9,146.6 C210.9,145.6 212.0,144.6 213.0,143.5 C214.0,142.5 215.6,141.0 216.1,140.5 M173.0,142.0 C173.8,142.8 176.1,145.1 177.6,146.6 C179.2,148.2 180.9,149.4 182.2,151.2 C183.5,153.0 184.8,156.4 185.3,157.4 M231.5,134.3 C232.2,135.3 234.8,138.4 236.1,140.5 C237.4,142.5 238.4,144.3 239.2,146.6 C239.9,148.9 240.7,152.0 240.7,154.3 C240.7,156.6 239.4,159.4 239.2,160.5 M222.2,160.5 C222.7,160.7 224.3,161.4 225.3,162.0 C226.3,162.6 227.9,163.7 228.4,164.0 M234.5,82.0 C235.6,82.5 238.9,84.1 240.7,85.1 C242.5,86.1 244.0,86.6 245.3,88.2 C246.6,89.7 247.4,92.3 248.4,94.3 C249.4,96.4 250.7,98.4 251.5,100.5 C252.2,102.5 252.7,105.6 253.0,106.6 M242.2,137.4 C243.3,137.1 246.3,136.6 248.4,135.8 C250.5,135.1 253.9,133.3 255.0,132.8 M205.3,117.4 C206.1,117.6 208.0,118.5 209.9,118.9 C211.8,119.3 215.7,119.6 216.8,119.7 M268.8,82.0 C268.1,82.8 265.4,85.1 264.2,86.6 C263.1,88.2 262.2,89.4 261.9,91.2 C261.7,93.0 262.8,95.6 262.7,97.4 C262.6,99.2 262.4,101.0 261.2,102.0 C259.9,103.0 256.0,103.3 255.0,103.5 M291.9,82.0 C291.2,83.0 288.8,86.1 287.3,88.2 C285.8,90.2 284.2,92.5 282.7,94.3 C281.2,96.1 279.6,97.9 278.1,98.9 C276.5,99.9 274.7,100.5 273.5,100.5 C272.2,100.5 270.9,99.2 270.4,98.9 M273.5,100.5 C273.7,101.2 273.7,104.6 275.0,105.1 C276.3,105.6 278.8,103.9 281.2,103.5 C283.5,103.2 286.5,102.8 288.8,102.8 C291.2,102.8 293.2,102.9 295.0,103.5 C296.8,104.2 298.6,105.3 299.6,106.6 C300.6,107.9 300.1,109.9 301.2,111.2 C302.2,112.5 303.7,113.5 305.8,114.3 C307.8,115.1 311.4,115.7 313.5,115.8 C315.5,116.0 317.3,115.2 318.1,115.1 M255.0,111.2 C255.8,111.0 258.1,110.2 259.6,109.7 C261.2,109.2 262.4,108.2 264.2,108.2 C266.0,108.2 268.1,109.2 270.4,109.7 C272.7,110.2 275.5,110.7 278.1,111.2 C280.6,111.7 283.2,112.8 285.8,112.8 C288.3,112.8 290.9,111.5 293.5,111.2 C296.0,111.0 299.9,111.2 301.2,111.2 M262.7,108.2 C263.5,109.2 266.0,112.5 267.3,114.3 C268.6,116.1 269.4,117.6 270.4,118.9 C271.4,120.2 272.2,121.2 273.5,122.0 C274.7,122.8 276.5,123.7 278.1,123.5 C279.6,123.4 281.4,122.0 282.7,121.2 C284.0,120.5 284.5,119.4 285.8,118.9 C287.1,118.4 289.6,118.3 290.4,118.2 M258.1,123.5 C258.6,124.3 259.9,126.9 261.2,128.2 C262.4,129.4 264.2,130.2 265.8,131.2 C267.3,132.3 268.8,133.5 270.4,134.3 C271.9,135.1 273.2,135.5 275.0,135.8 C276.8,136.2 279.1,136.2 281.2,136.6 C283.2,137.0 285.3,137.5 287.3,138.2 C289.4,138.8 291.9,139.8 293.5,140.5 C295.0,141.1 296.3,141.5 296.5,142.0 C296.8,142.5 295.8,143.0 295.0,143.5 C294.2,144.1 292.4,144.8 291.9,145.1 M255.0,137.4 C256.0,137.3 259.1,136.9 261.2,136.6 C263.2,136.4 265.8,136.2 267.3,135.8 C268.8,135.5 269.9,134.6 270.4,134.3 M295.0,140.5 C296.0,139.7 299.4,137.1 301.2,135.8 C302.9,134.6 304.2,134.1 305.8,132.8 C307.3,131.5 309.2,129.7 310.4,128.2 C311.5,126.6 312.2,125.1 312.7,123.5 C313.2,122.0 313.3,119.7 313.5,118.9 M313.5,118.9 C313.7,119.7 314.5,122.0 315.0,123.5 C315.5,125.1 315.8,126.4 316.5,128.2 C317.3,129.9 318.7,132.3 319.6,134.3 C320.5,136.4 321.4,138.4 321.9,140.5 C322.4,142.5 322.6,144.6 322.7,146.6 C322.8,148.7 322.8,151.0 322.7,152.8 C322.6,154.6 322.1,156.6 321.9,157.4 M261.2,149.7 C262.2,149.7 265.5,149.9 267.3,149.7 C269.1,149.4 269.9,148.7 271.9,148.2 C274.0,147.6 277.1,147.0 279.6,146.6 C282.2,146.2 285.3,145.8 287.3,145.8 C289.4,145.8 290.9,145.7 291.9,146.6 C292.9,147.5 293.3,149.4 293.5,151.2 C293.6,153.0 292.9,155.6 292.7,157.4 C292.4,159.2 292.1,161.2 291.9,162.0 M255.0,158.9 C256.0,158.2 259.1,155.8 261.2,154.3 C263.2,152.8 266.3,150.5 267.3,149.7 M278.1,149.7 C278.8,150.5 281.2,152.8 282.7,154.3 C284.2,155.8 285.8,157.6 287.3,158.9 C288.8,160.2 291.2,161.5 291.9,162.0 M325.8,95.8 C326.5,95.3 329.4,93.8 330.4,92.8 C331.4,91.7 331.4,89.4 331.9,89.7 C332.4,89.9 333.1,92.5 333.5,94.3 C333.8,96.1 334.1,99.4 334.2,100.5 M331.9,137.4 L335.0,135.8 M291.9,82.0 C292.4,83.5 294.0,88.4 295.0,91.2 C296.0,94.1 297.3,96.4 298.1,98.9 C298.8,101.5 299.4,105.3 299.6,106.6 M305.8,82.0 C306.3,82.5 307.8,84.7 308.8,85.1 C309.9,85.5 311.4,84.4 311.9,84.3 M333.5,146.6 C333.8,147.4 335.2,149.9 335.8,151.2 C336.4,152.5 336.8,153.8 337.0,154.3" stroke="#3cb83c" stroke-width="3.5" opacity="0.22"/>
<path d="M173.0,7.7 C173.8,7.9 176.1,8.6 177.6,9.2 C179.2,9.9 181.5,11.2 182.2,11.5 M245.3,9.2 C244.5,10.0 242.0,12.1 240.7,13.8 C239.4,15.6 238.6,17.9 237.6,20.0 C236.6,22.1 235.6,24.4 234.5,26.2 C233.5,27.9 232.7,29.0 231.5,30.8 C230.2,32.6 228.1,35.4 226.8,36.9 C225.6,38.5 225.1,39.2 223.8,40.0 C222.5,40.8 220.7,41.0 219.2,41.5 C217.6,42.1 215.6,42.3 214.5,43.1 C213.5,43.8 212.7,45.1 213.0,46.2 C213.3,47.2 215.6,48.7 216.1,49.2 M228.4,29.2 C229.4,29.7 232.5,31.8 234.5,32.3 C236.6,32.8 238.6,32.1 240.7,32.3 C242.7,32.6 245.1,33.1 246.8,33.8 C248.6,34.6 250.1,35.9 251.5,36.9 C252.8,37.9 254.4,39.5 255.0,40.0 M179.2,32.3 C179.9,33.6 182.5,37.9 183.8,40.0 C185.1,42.1 185.6,43.3 186.8,44.6 C188.1,45.9 190.2,46.7 191.5,47.7 C192.7,48.7 194.0,50.3 194.5,50.8 M182.2,63.1 C183.3,62.7 186.6,61.5 188.4,60.8 C190.2,60.0 191.5,59.1 193.0,58.5 C194.5,57.8 196.8,57.2 197.6,56.9 M211.5,61.5 C212.7,61.2 216.8,60.0 219.2,59.2 C221.5,58.5 223.3,57.1 225.3,56.9 C227.4,56.8 229.7,57.4 231.5,58.5 C233.3,59.5 235.1,61.5 236.1,63.1 C237.1,64.6 237.6,65.9 237.6,67.7 C237.6,69.5 236.6,71.8 236.1,73.8 C235.6,75.9 234.8,79.0 234.5,80.0 M203.8,64.6 C204.5,65.1 206.8,66.7 208.4,67.7 C209.9,68.7 212.2,70.3 213.0,70.8 M273.5,36.9 C272.9,37.7 271.0,39.5 270.4,41.5 C269.7,43.6 269.6,46.7 269.6,49.2 C269.6,51.8 270.8,54.4 270.4,56.9 C270.0,59.5 268.3,62.6 267.3,64.6 C266.3,66.7 265.3,67.7 264.2,69.2 C263.2,70.8 261.7,73.1 261.2,73.8 M255.0,49.2 C255.5,50.5 257.1,54.6 258.1,56.9 C259.1,59.2 260.1,61.3 261.2,63.1 C262.2,64.9 263.7,66.9 264.2,67.7 M188.4,89.7 C189.2,89.9 191.2,91.2 193.0,91.2 C194.8,91.2 197.4,89.7 199.2,89.7 C200.9,89.7 202.0,90.7 203.8,91.2 C205.6,91.7 208.4,92.8 209.9,92.8 C211.5,92.8 212.5,91.5 213.0,91.2 M173.0,123.5 C174.0,123.0 176.6,121.0 179.2,120.5 C181.7,119.9 185.3,120.2 188.4,120.5 C191.5,120.7 194.5,121.0 197.6,122.0 C200.7,123.0 203.8,125.3 206.8,126.6 C209.9,127.9 213.3,128.9 216.1,129.7 C218.9,130.5 221.2,130.5 223.8,131.2 C226.3,132.0 228.9,133.3 231.5,134.3 C234.0,135.3 236.6,136.4 239.2,137.4 C241.7,138.4 244.2,139.9 246.8,140.5 C249.5,141.0 253.6,140.5 255.0,140.5 M200.7,148.2 C201.7,148.4 205.3,149.9 206.8,149.7 C208.4,149.4 208.9,147.6 209.9,146.6 C210.9,145.6 212.0,144.6 213.0,143.5 C214.0,142.5 215.6,141.0 216.1,140.5 M231.5,134.3 C232.2,135.3 234.8,138.4 236.1,140.5 C237.4,142.5 238.4,144.3 239.2,146.6 C239.9,148.9 240.7,152.0 240.7,154.3 C240.7,156.6 239.4,159.4 239.2,160.5 M222.2,160.5 C222.7,160.7 224.3,161.4 225.3,162.0 C226.3,162.6 227.9,163.7 228.4,164.0 M234.5,82.0 C235.6,82.5 238.9,84.1 240.7,85.1 C242.5,86.1 244.0,86.6 245.3,88.2 C246.6,89.7 247.4,92.3 248.4,94.3 C249.4,96.4 250.7,98.4 251.5,100.5 C252.2,102.5 252.7,105.6 253.0,106.6 M242.2,137.4 C243.3,137.1 246.3,136.6 248.4,135.8 C250.5,135.1 253.9,133.3 255.0,132.8 M205.3,117.4 C206.1,117.6 208.0,118.5 209.9,118.9 C211.8,119.3 215.7,119.6 216.8,119.7 M278.1,149.7 C278.8,150.5 281.2,152.8 282.7,154.3 C284.2,155.8 285.8,157.6 287.3,158.9 C288.8,160.2 291.2,161.5 291.9,162.0 M325.8,95.8 C326.5,95.3 329.4,93.8 330.4,92.8 C331.4,91.7 331.4,89.4 331.9,89.7 C332.4,89.9 333.1,92.5 333.5,94.3 C333.8,96.1 334.1,99.4 334.2,100.5 M331.9,137.4 L335.0,135.8" stroke="#45c440" stroke-width="1.35"/>
<path d="M201.5,3.1 C200.8,3.6 198.9,5.0 197.6,6.2 C196.3,7.3 194.8,9.1 193.8,10.0 C192.7,10.9 191.8,11.3 191.5,11.5 M237.6,1.5 C236.8,2.8 234.4,6.7 233.0,9.2 C231.6,11.8 230.2,14.4 229.2,16.9 C228.1,19.5 227.5,21.5 226.8,24.6 C226.2,27.7 225.8,32.8 225.3,35.4 C224.8,37.9 224.0,39.2 223.8,40.0 M245.3,0.0 C246.1,0.5 248.3,1.8 249.9,3.1 C251.5,4.4 254.2,6.9 255.0,7.7 M216.1,49.2 C217.1,48.7 220.2,47.2 222.2,46.2 C224.3,45.1 225.8,44.1 228.4,43.1 C230.9,42.1 236.1,40.5 237.6,40.0 M173.0,41.5 C173.5,41.9 175.1,43.1 176.1,43.8 C177.1,44.6 178.1,45.5 179.2,46.2 C180.2,46.8 181.7,47.4 182.2,47.7 M182.2,63.1 C182.0,63.8 181.1,65.9 180.7,67.7 C180.3,69.5 179.8,71.8 179.9,73.8 C180.1,75.9 181.2,79.0 181.5,80.0 M231.5,69.2 C232.5,69.5 235.3,70.3 237.6,70.8 C239.9,71.3 242.7,71.3 245.3,72.3 C247.9,73.3 251.7,76.2 253.0,76.9 M237.6,61.5 C239.2,62.1 243.9,63.6 246.8,64.6 C249.7,65.6 253.6,67.2 255.0,67.7 M255.0,12.3 C256.0,11.8 259.4,10.3 261.2,9.2 C262.9,8.2 264.2,7.2 265.8,6.2 C267.3,5.1 268.3,3.7 270.4,3.1 C272.4,2.4 275.5,2.3 278.1,2.3 C280.6,2.3 283.5,2.7 285.8,3.1 C288.1,3.5 290.8,3.6 291.9,4.6 C293.1,5.6 292.9,7.7 292.7,9.2 C292.4,10.8 291.2,12.1 290.4,13.8 C289.6,15.6 288.7,17.9 288.1,20.0 C287.4,22.1 287.2,24.4 286.5,26.2 C285.9,27.9 285.4,29.5 284.2,30.8 C283.1,32.1 281.4,32.8 279.6,33.8 C277.8,34.9 275.5,35.9 273.5,36.9 C271.4,37.9 269.4,39.7 267.3,40.0 C265.3,40.3 263.2,39.0 261.2,38.5 C259.1,37.9 256.0,37.2 255.0,36.9 M267.3,4.6 C266.8,6.4 265.0,12.1 264.2,15.4 C263.5,18.7 263.2,21.8 262.7,24.6 C262.2,27.4 262.2,30.5 261.2,32.3 C260.1,34.1 257.3,34.9 256.5,35.4 M279.6,33.8 C280.6,34.6 284.0,36.7 285.8,38.5 C287.6,40.3 288.8,42.8 290.4,44.6 C291.9,46.4 293.2,47.9 295.0,49.2 C296.8,50.5 299.6,51.3 301.2,52.3 C302.7,53.3 304.2,54.1 304.2,55.4 C304.2,56.7 302.7,59.0 301.2,60.0 C299.6,61.0 297.3,60.8 295.0,61.5 C292.7,62.3 289.1,63.6 287.3,64.6 C285.5,65.6 284.7,67.2 284.2,67.7 M291.9,4.6 L292.7,0.0 M305.8,35.4 C305.5,36.4 304.7,40.0 304.2,41.5 C303.7,43.1 302.4,43.8 302.7,44.6 C302.9,45.4 304.2,45.6 305.8,46.2 C307.3,46.7 310.9,47.4 311.9,47.7 M322.7,20.0 C322.4,21.5 321.2,26.4 321.2,29.2 C321.2,32.1 321.7,34.9 322.7,36.9 C323.7,39.0 326.0,40.0 327.3,41.5 C328.6,43.1 330.1,44.6 330.4,46.2 C330.6,47.7 329.6,49.0 328.8,50.8 C328.1,52.6 326.8,54.9 325.8,56.9 C324.7,59.0 323.7,61.0 322.7,63.1 C321.7,65.1 320.6,67.4 319.6,69.2 C318.6,71.0 317.6,72.3 316.5,73.8 C315.5,75.4 314.0,77.7 313.5,78.5 M325.8,15.4 C326.0,14.6 326.3,12.3 327.3,10.8 C328.3,9.2 330.3,7.2 331.9,6.2 C333.5,5.1 336.2,4.9 337.0,4.6 M298.1,60.0 C298.3,60.8 299.1,62.8 299.6,64.6 C300.1,66.4 300.6,68.7 301.2,70.8 C301.7,72.8 302.7,75.1 302.7,76.9 C302.7,78.8 301.4,81.2 301.2,82.0 M313.5,73.8 C314.5,73.6 317.3,73.1 319.6,72.3 C321.9,71.5 324.7,70.5 327.3,69.2 C329.9,67.9 333.7,65.4 335.0,64.6 M267.3,76.9 C268.3,77.4 271.9,79.2 273.5,80.0 C275.0,80.8 276.0,81.7 276.5,82.0 M173.0,92.8 C173.5,92.0 175.1,89.7 176.1,88.2 C177.1,86.6 178.4,84.6 179.2,83.5 C179.9,82.5 180.4,82.3 180.7,82.0 M189.9,92.8 C190.2,93.8 190.9,96.9 191.5,98.9 C192.0,101.0 192.2,103.5 193.0,105.1 C193.8,106.6 194.5,106.9 196.1,108.2 C197.6,109.4 200.4,111.2 202.2,112.8 C204.0,114.3 205.1,116.4 206.8,117.4 C208.6,118.4 211.5,118.5 213.0,118.9 C214.5,119.3 215.6,119.6 216.1,119.7 M206.8,94.3 C207.1,95.1 207.6,97.6 208.4,98.9 C209.2,100.2 210.4,101.2 211.5,102.0 C212.5,102.8 213.3,103.8 214.5,103.5 C215.8,103.3 217.6,101.5 219.2,100.5 C220.7,99.4 222.7,98.9 223.8,97.4 C224.8,95.8 224.5,93.0 225.3,91.2 C226.1,89.4 227.4,87.9 228.4,86.6 C229.4,85.3 230.9,84.1 231.5,83.5 M173.0,108.2 C173.8,108.7 176.1,109.9 177.6,111.2 C179.2,112.5 181.1,114.3 182.2,115.8 C183.4,117.4 183.9,118.7 184.5,120.5 C185.2,122.3 185.4,124.6 186.1,126.6 C186.7,128.7 187.7,130.5 188.4,132.8 C189.0,135.1 189.2,138.2 189.9,140.5 C190.7,142.8 191.7,144.8 193.0,146.6 C194.3,148.4 196.1,149.7 197.6,151.2 C199.2,152.8 201.5,155.1 202.2,155.8 M173.0,142.0 C173.8,142.8 176.1,145.1 177.6,146.6 C179.2,148.2 180.9,149.4 182.2,151.2 C183.5,153.0 184.8,156.4 185.3,157.4 M268.8,82.0 C268.1,82.8 265.4,85.1 264.2,86.6 C263.1,88.2 262.2,89.4 261.9,91.2 C261.7,93.0 262.8,95.6 262.7,97.4 C262.6,99.2 262.4,101.0 261.2,102.0 C259.9,103.0 256.0,103.3 255.0,103.5 M273.5,100.5 C273.7,101.2 273.7,104.6 275.0,105.1 C276.3,105.6 278.8,103.9 281.2,103.5 C283.5,103.2 286.5,102.8 288.8,102.8 C291.2,102.8 293.2,102.9 295.0,103.5 C296.8,104.2 298.6,105.3 299.6,106.6 C300.6,107.9 300.1,109.9 301.2,111.2 C302.2,112.5 303.7,113.5 305.8,114.3 C307.8,115.1 311.4,115.7 313.5,115.8 C315.5,116.0 317.3,115.2 318.1,115.1 M255.0,111.2 C255.8,111.0 258.1,110.2 259.6,109.7 C261.2,109.2 262.4,108.2 264.2,108.2 C266.0,108.2 268.1,109.2 270.4,109.7 C272.7,110.2 275.5,110.7 278.1,111.2 C280.6,111.7 283.2,112.8 285.8,112.8 C288.3,112.8 290.9,111.5 293.5,111.2 C296.0,111.0 299.9,111.2 301.2,111.2 M262.7,108.2 C263.5,109.2 266.0,112.5 267.3,114.3 C268.6,116.1 269.4,117.6 270.4,118.9 C271.4,120.2 272.2,121.2 273.5,122.0 C274.7,122.8 276.5,123.7 278.1,123.5 C279.6,123.4 281.4,122.0 282.7,121.2 C284.0,120.5 284.5,119.4 285.8,118.9 C287.1,118.4 289.6,118.3 290.4,118.2 M258.1,123.5 C258.6,124.3 259.9,126.9 261.2,128.2 C262.4,129.4 264.2,130.2 265.8,131.2 C267.3,132.3 268.8,133.5 270.4,134.3 C271.9,135.1 273.2,135.5 275.0,135.8 C276.8,136.2 279.1,136.2 281.2,136.6 C283.2,137.0 285.3,137.5 287.3,138.2 C289.4,138.8 291.9,139.8 293.5,140.5 C295.0,141.1 296.3,141.5 296.5,142.0 C296.8,142.5 295.8,143.0 295.0,143.5 C294.2,144.1 292.4,144.8 291.9,145.1 M295.0,140.5 C296.0,139.7 299.4,137.1 301.2,135.8 C302.9,134.6 304.2,134.1 305.8,132.8 C307.3,131.5 309.2,129.7 310.4,128.2 C311.5,126.6 312.2,125.1 312.7,123.5 C313.2,122.0 313.3,119.7 313.5,118.9 M261.2,149.7 C262.2,149.7 265.5,149.9 267.3,149.7 C269.1,149.4 269.9,148.7 271.9,148.2 C274.0,147.6 277.1,147.0 279.6,146.6 C282.2,146.2 285.3,145.8 287.3,145.8 C289.4,145.8 290.9,145.7 291.9,146.6 C292.9,147.5 293.3,149.4 293.5,151.2 C293.6,153.0 292.9,155.6 292.7,157.4 C292.4,159.2 292.1,161.2 291.9,162.0 M255.0,158.9 C256.0,158.2 259.1,155.8 261.2,154.3 C263.2,152.8 266.3,150.5 267.3,149.7 M291.9,82.0 C292.4,83.5 294.0,88.4 295.0,91.2 C296.0,94.1 297.3,96.4 298.1,98.9 C298.8,101.5 299.4,105.3 299.6,106.6" stroke="#32a832" stroke-width="1.35"/>
<path d="M196.1,12.3 C196.3,13.3 197.0,16.7 197.6,18.5 C198.3,20.3 199.4,21.0 199.9,23.1 C200.4,25.1 200.7,28.7 200.7,30.8 C200.7,32.8 200.4,33.6 199.9,35.4 C199.4,37.2 198.5,39.5 197.6,41.5 C196.7,43.6 195.3,45.6 194.5,47.7 C193.8,49.7 193.5,52.1 193.0,53.8 C192.5,55.6 192.5,57.2 191.5,58.5 C190.4,59.7 188.1,60.5 186.8,61.5 C185.6,62.6 184.3,64.1 183.8,64.6 M199.9,23.1 C200.8,22.7 203.1,21.3 205.3,20.8 C207.5,20.3 210.7,19.9 213.0,20.0 C215.3,20.1 218.4,20.5 219.2,21.5 C219.9,22.6 218.6,24.9 217.6,26.2 C216.6,27.4 214.8,28.2 213.0,29.2 C211.2,30.3 208.6,31.3 206.8,32.3 C205.1,33.3 203.0,34.9 202.2,35.4 M250.7,50.8 C250.3,51.5 249.2,54.0 248.4,55.4 C247.6,56.8 246.5,58.6 246.1,59.2 M173.0,73.8 C173.8,74.4 176.1,76.2 177.6,76.9 C179.2,77.7 181.5,78.2 182.2,78.5 M293.5,26.2 C294.2,26.7 296.5,28.2 298.1,29.2 C299.6,30.3 301.2,31.3 302.7,32.3 C304.2,33.3 305.5,35.1 307.3,35.4 C309.1,35.6 311.7,34.6 313.5,33.8 C315.3,33.1 317.1,32.3 318.1,30.8 C319.1,29.2 319.6,26.7 319.6,24.6 C319.6,22.6 318.6,20.5 318.1,18.5 C317.6,16.4 316.5,14.6 316.5,12.3 C316.5,10.0 317.6,6.7 318.1,4.6 C318.6,2.6 319.4,0.8 319.6,0.0 M330.4,46.2 L337.0,47.7 M216.1,132.8 C216.3,133.5 217.6,135.6 217.6,137.4 C217.6,139.2 216.6,141.5 216.1,143.5 C215.6,145.6 215.1,147.6 214.5,149.7 C214.0,151.7 213.5,153.8 213.0,155.8 C212.5,157.9 211.7,161.0 211.5,162.0 M291.9,82.0 C291.2,83.0 288.8,86.1 287.3,88.2 C285.8,90.2 284.2,92.5 282.7,94.3 C281.2,96.1 279.6,97.9 278.1,98.9 C276.5,99.9 274.7,100.5 273.5,100.5 C272.2,100.5 270.9,99.2 270.4,98.9 M255.0,137.4 C256.0,137.3 259.1,136.9 261.2,136.6 C263.2,136.4 265.8,136.2 267.3,135.8 C268.8,135.5 269.9,134.6 270.4,134.3 M313.5,118.9 C313.7,119.7 314.5,122.0 315.0,123.5 C315.5,125.1 315.8,126.4 316.5,128.2 C317.3,129.9 318.7,132.3 319.6,134.3 C320.5,136.4 321.4,138.4 321.9,140.5 C322.4,142.5 322.6,144.6 322.7,146.6 C322.8,148.7 322.8,151.0 322.7,152.8 C322.6,154.6 322.1,156.6 321.9,157.4 M305.8,82.0 C306.3,82.5 307.8,84.7 308.8,85.1 C309.9,85.5 311.4,84.4 311.9,84.3 M333.5,146.6 C333.8,147.4 335.2,149.9 335.8,151.2 C336.4,152.5 336.8,153.8 337.0,154.3" stroke="#26852a" stroke-width="1.35"/>
<ellipse cx="197" cy="9" rx="5" ry="2.6" transform="rotate(-40 197 9)" fill="#55c845" filter="url(#soft)"/><polygon points="223.3,118 227.9,116 237.1,109.5 244.3,104.2 247,105.5 247.6,109.5 241.7,114.7 233.2,119.3 227.2,122.6 223.9,121.3" fill="#55c845" filter="url(#soft)"/>
</g>
<rect x="345" y="0" width="164" height="164" fill="#0a150a"/>
<clipPath id="clipi2"><rect x="345" y="0" width="164" height="164"/></clipPath>
<g clip-path="url(#clipi2)" fill="none" stroke-linecap="round" stroke-linejoin="round">
<path d="M382.7,13.2 C382.5,13.7 381.5,14.9 381.2,15.8 C380.8,16.7 380.7,17.8 380.5,18.7 C380.4,19.7 380.2,20.7 380.1,21.7 C380.1,22.7 380.3,23.7 380.2,24.7 C380.1,25.7 379.7,27.2 379.6,27.7 M413.0,39.9 C413.0,40.4 413.2,41.9 413.5,42.8 C413.8,43.8 414.3,44.7 414.7,45.6 C415.2,46.5 415.8,47.3 416.1,48.2 C416.4,49.2 416.6,50.2 416.7,51.2 C416.7,52.2 416.5,53.2 416.4,54.2 C416.3,55.2 416.2,56.7 416.2,57.2 M483.2,105.3 C483.4,105.8 484.2,107.1 484.5,108.1 C484.8,109.0 484.8,110.0 485.0,111.0 C485.3,112.0 485.7,112.9 485.9,113.9 C486.0,114.9 485.8,116.4 485.8,116.9 M503.7,150.8 C503.2,151.0 501.8,151.4 500.9,151.9 C500.0,152.4 499.3,153.2 498.5,153.7 C497.7,154.3 496.8,154.8 495.9,155.2 C495.0,155.6 493.5,156.0 493.1,156.2 M496.1,115.6 C496.6,115.5 498.1,114.9 499.0,114.8 C500.0,114.7 501.0,115.0 502.0,114.9 C503.0,114.8 504.0,114.4 505.0,114.4 C506.0,114.3 507.0,114.4 508.0,114.6 C509.0,114.8 510.0,115.0 510.9,115.4 C511.8,115.9 512.4,116.8 513.3,117.1 C514.2,117.5 515.3,117.7 516.3,117.8 C517.2,117.9 518.3,117.4 519.2,117.6 C520.2,117.7 521.6,118.4 522.1,118.6 M368.3,74.0 C368.0,73.6 367.0,72.4 366.6,71.5 C366.3,70.6 366.3,69.5 366.1,68.6 C365.8,67.6 365.6,66.6 365.1,65.7 C364.7,64.8 363.8,64.2 363.3,63.3 C362.9,62.4 362.8,61.4 362.5,60.4 C362.2,59.5 362.0,58.5 361.5,57.6 C361.1,56.7 360.6,55.8 360.0,55.0 C359.3,54.3 358.1,53.4 357.7,53.1 M346.5,95.6 C346.2,96.0 345.4,97.2 344.8,98.1 C344.3,98.9 343.9,99.9 343.2,100.6 C342.6,101.3 341.5,101.6 340.8,102.3 C340.1,103.0 339.8,104.1 339.1,104.8 C338.5,105.6 337.7,106.3 336.9,106.9 C336.2,107.5 335.3,108.1 334.4,108.4 C333.4,108.7 332.3,108.4 331.4,108.7 C330.4,109.1 329.7,109.8 328.8,110.3 C327.9,110.8 326.6,111.5 326.2,111.8 M436.2,98.1 C435.8,98.0 434.2,97.9 433.3,97.6 C432.4,97.2 431.5,96.7 430.7,96.1 C429.9,95.5 429.0,94.9 428.4,94.1 C427.8,93.4 427.5,92.4 427.1,91.4 C426.7,90.5 426.4,89.5 425.9,88.7 C425.3,87.9 424.1,86.9 423.8,86.6 M458.8,17.2 C458.7,16.7 458.5,15.2 458.1,14.3 C457.7,13.4 457.1,12.5 456.4,11.8 C455.8,11.1 454.9,10.5 454.0,10.1 C453.1,9.6 452.0,9.6 451.1,9.1 C450.3,8.6 449.7,7.7 448.9,7.1 C448.1,6.5 447.1,6.2 446.3,5.6 C445.5,5.0 445.1,4.0 444.3,3.4 C443.6,2.7 442.6,2.3 441.7,1.9 C440.8,1.4 439.9,1.1 438.9,0.8 C438.0,0.4 436.6,-0.1 436.1,-0.3 M403.8,158.2 C403.9,158.6 404.3,160.1 404.7,161.0 C405.2,161.9 406.1,162.5 406.6,163.3 C407.2,164.2 407.5,165.1 408.1,166.0 C408.6,166.8 409.3,167.5 409.9,168.3 C410.5,169.1 411.2,169.9 411.7,170.7 C412.3,171.5 412.5,172.6 413.2,173.3 C413.8,174.1 414.6,174.8 415.4,175.3 C416.3,175.8 417.8,176.1 418.3,176.2 M457.8,163.0 C458.2,163.2 459.5,163.9 460.3,164.6 C461.0,165.2 461.8,166.0 462.2,166.8 C462.7,167.7 462.8,168.8 463.0,169.7 C463.3,170.7 463.7,171.7 463.8,172.7 C463.8,173.6 463.2,174.6 463.2,175.6 C463.2,176.6 463.6,177.6 463.9,178.5 C464.1,179.5 464.5,180.5 464.6,181.4 C464.7,182.4 464.4,183.9 464.4,184.4 M409.1,72.3 C408.6,72.3 407.0,72.6 406.1,72.4 C405.1,72.2 404.2,71.5 403.3,71.2 C402.3,71.0 401.3,70.9 400.3,70.8 C399.3,70.8 398.3,71.0 397.3,70.9 C396.3,70.7 395.3,70.5 394.4,70.1 C393.5,69.7 392.6,69.3 391.8,68.7 C390.9,68.1 389.9,67.0 389.6,66.6 M456.8,150.1 C457.0,149.6 457.8,148.2 458.0,147.3 C458.2,146.3 457.9,145.3 458.1,144.3 C458.3,143.3 458.6,142.3 459.1,141.5 C459.6,140.6 460.2,139.8 461.0,139.1 C461.7,138.5 462.8,138.2 463.6,137.6 C464.3,137.0 464.9,136.1 465.7,135.5 C466.5,134.9 467.4,134.3 468.3,134.0 C469.2,133.6 470.3,133.8 471.3,133.5 C472.2,133.2 473.6,132.5 474.0,132.3 M348.9,28.5 C348.8,29.0 348.8,30.6 348.6,31.5 C348.4,32.5 347.9,33.4 347.5,34.3 C347.0,35.2 346.6,36.2 345.9,36.9 C345.2,37.6 344.3,38.2 343.4,38.5 C342.5,38.9 341.4,38.8 340.4,39.0 C339.5,39.2 338.5,39.7 337.5,39.7 C336.5,39.7 335.5,39.5 334.6,39.2 C333.6,38.9 332.7,38.4 331.7,38.2 C330.8,37.9 329.8,37.9 328.8,37.8 C327.8,37.6 326.3,37.3 325.8,37.2 M373.0,65.6 C373.2,65.1 373.8,63.8 374.2,62.8 C374.6,61.9 375.0,61.0 375.3,60.0 C375.6,59.1 375.8,58.1 375.8,57.1 C375.8,56.1 375.3,54.7 375.2,54.2 M430.8,54.7 C431.2,55.1 432.2,56.3 433.0,56.8 C433.8,57.3 434.9,57.5 435.7,58.0 C436.6,58.4 437.3,59.3 438.1,59.8 C439.0,60.2 440.1,60.3 441.0,60.6 C442.0,60.9 442.9,61.1 443.9,61.3 C444.9,61.5 446.0,61.4 446.9,61.7 C447.8,62.0 449.2,62.8 449.6,63.0 M491.4,120.9 C491.2,121.3 490.4,122.6 489.8,123.4 C489.3,124.3 488.8,125.1 488.2,125.9 C487.6,126.7 486.9,127.5 486.2,128.2 C485.5,128.9 484.6,129.4 483.9,130.1 C483.2,130.8 482.7,131.7 482.1,132.5 C481.6,133.4 481.3,134.4 480.6,135.1 C480.0,135.9 478.6,136.6 478.2,136.9 M399.5,139.1 C399.7,139.6 400.5,140.9 401.2,141.6 C401.8,142.4 402.6,143.0 403.3,143.7 C404.0,144.5 404.7,145.2 405.2,146.0 C405.8,146.8 406.3,148.3 406.6,148.7 M351.4,81.9 C350.9,82.1 349.7,83.0 348.7,83.3 C347.8,83.6 346.7,83.7 345.7,83.7 C344.8,83.7 343.8,83.5 342.8,83.5 C341.8,83.4 340.8,83.6 339.8,83.6 C338.8,83.6 337.8,83.6 336.8,83.5 C335.8,83.4 334.8,83.2 333.8,83.2 C332.8,83.2 331.8,83.2 330.8,83.3 C329.8,83.4 328.8,83.8 327.9,84.0 C326.9,84.1 325.8,84.3 324.9,84.2 C323.9,84.1 323.0,83.6 322.0,83.4 C321.0,83.3 320.0,83.3 319.0,83.3 C318.0,83.3 316.5,83.5 316.0,83.6 M371.0,59.9 C370.5,60.2 369.2,60.9 368.4,61.5 C367.6,62.1 367.0,62.9 366.2,63.5 C365.3,64.0 364.3,64.2 363.4,64.7 C362.6,65.2 361.5,66.3 361.1,66.6 M465.4,160.7 C465.4,161.2 465.5,162.7 465.6,163.7 C465.8,164.6 465.9,165.6 466.1,166.6 C466.4,167.6 466.6,168.6 467.1,169.5 C467.6,170.3 468.4,171.0 468.9,171.9 C469.3,172.7 469.5,173.8 469.9,174.7 C470.3,175.6 471.0,176.4 471.3,177.3 C471.6,178.3 471.7,179.8 471.8,180.3 M436.5,29.5 C437.0,29.6 438.5,29.8 439.5,30.0 C440.4,30.2 441.4,30.5 442.4,30.8 C443.3,31.2 444.2,31.6 445.0,32.3 C445.7,32.9 446.1,33.9 446.9,34.6 C447.6,35.3 448.4,35.9 449.3,36.4 C450.1,36.9 451.2,37.0 452.1,37.5 C452.9,38.0 453.6,38.7 454.5,39.3 C455.3,39.9 456.3,40.2 457.0,40.9 C457.7,41.6 458.2,42.5 458.7,43.4 C459.1,44.3 459.2,45.3 459.5,46.3 C459.7,47.3 459.8,48.3 460.2,49.2 C460.6,50.1 461.6,51.3 461.8,51.7 M445.4,98.7 C444.9,98.4 443.5,97.9 442.7,97.3 C441.9,96.7 441.3,95.8 440.7,95.0 C440.1,94.3 439.6,93.3 438.9,92.6 C438.2,91.9 437.2,91.6 436.4,90.9 C435.7,90.2 435.3,89.2 434.6,88.5 C433.9,87.9 432.8,87.5 432.1,86.8 C431.4,86.1 430.8,85.2 430.4,84.3 C430.1,83.4 430.1,82.3 429.8,81.4 C429.5,80.5 429.0,79.6 428.4,78.8 C427.8,78.0 427.0,77.4 426.3,76.6 C425.7,75.8 425.0,74.5 424.7,74.1 M419.9,61.5 C419.8,61.0 419.3,59.6 419.0,58.6 C418.7,57.7 418.2,56.7 418.1,55.7 C418.0,54.7 418.0,53.7 418.3,52.7 C418.6,51.8 419.4,51.0 419.7,50.1 C420.0,49.1 419.8,48.1 420.0,47.1 C420.3,46.1 420.8,45.2 421.0,44.3 C421.3,43.3 421.5,41.8 421.6,41.3 M504.2,64.0 C504.6,64.3 505.8,65.3 506.6,65.8 C507.5,66.3 508.5,66.4 509.4,66.9 C510.3,67.4 511.0,68.1 511.9,68.6 C512.7,69.1 513.7,69.4 514.6,69.9 C515.4,70.5 516.1,71.3 516.9,71.8 C517.8,72.3 518.7,72.7 519.6,73.1 C520.5,73.5 521.9,74.1 522.4,74.3 M453.2,33.9 C453.1,34.4 452.8,35.9 452.7,36.9 C452.6,37.8 452.7,38.9 452.7,39.8 C452.6,40.8 452.5,41.9 452.3,42.8 C452.1,43.8 451.9,44.8 451.4,45.7 C451.0,46.6 450.3,47.3 449.7,48.1 C449.1,48.9 448.5,49.8 447.8,50.5 C447.1,51.1 446.2,51.7 445.3,52.1 C444.4,52.5 443.3,52.7 442.4,52.7 C441.4,52.8 440.3,52.6 439.4,52.3 C438.5,51.9 437.6,51.3 436.8,50.7 C436.0,50.1 435.0,49.1 434.6,48.7 M459.1,63.8 C459.6,64.1 460.8,65.0 461.6,65.5 C462.5,66.0 463.4,66.3 464.3,66.8 C465.2,67.2 466.2,67.6 467.0,68.2 C467.8,68.7 468.6,69.4 469.2,70.2 C469.9,70.9 470.2,72.0 470.8,72.7 C471.5,73.4 472.5,73.9 473.2,74.6 C473.9,75.3 474.5,76.1 475.0,77.0 C475.4,77.8 475.7,78.9 475.7,79.9 C475.7,80.8 475.5,81.9 475.2,82.8 C474.8,83.7 474.1,84.5 473.5,85.3 C472.9,86.1 472.4,87.1 471.7,87.7 C471.0,88.4 469.6,89.1 469.2,89.4 M441.9,139.2 C442.3,139.0 443.7,138.3 444.6,138.0 C445.6,137.7 446.6,137.5 447.6,137.5 C448.6,137.5 449.6,137.7 450.5,138.1 C451.4,138.5 452.2,139.2 453.0,139.8 C453.9,140.3 454.7,140.8 455.6,141.3 C456.5,141.8 457.3,142.4 458.2,142.8 C459.2,143.1 460.7,143.2 461.2,143.3 M484.7,44.6 C484.9,45.0 485.5,46.4 485.9,47.3 C486.3,48.2 487.0,49.0 487.3,50.0 C487.7,50.9 487.6,52.0 488.0,52.9 C488.4,53.8 489.4,54.9 489.7,55.3 M424.0,122.3 C424.0,121.8 424.1,120.3 424.3,119.3 C424.6,118.4 424.9,117.4 425.5,116.6 C426.0,115.8 427.0,115.2 427.6,114.4 C428.1,113.6 428.3,112.6 428.8,111.7 C429.2,110.8 429.9,109.5 430.2,109.0 M490.9,101.7 C491.0,101.2 491.6,99.7 491.6,98.7 C491.5,97.8 491.0,96.8 490.9,95.8 C490.8,94.8 491.0,93.8 491.0,92.8 C491.1,91.8 491.4,90.8 491.3,89.8 C491.3,88.8 490.8,87.9 490.8,86.9 C490.8,85.9 491.3,84.4 491.4,84.0 M379.7,5.5 C379.7,5.0 379.8,3.5 379.6,2.5 C379.4,1.5 379.1,0.5 378.6,-0.3 C378.1,-1.1 377.1,-1.7 376.5,-2.5 C375.9,-3.2 375.2,-4.6 374.9,-5.0 M445.6,108.2 C445.3,107.7 444.6,106.5 444.0,105.6 C443.5,104.8 442.8,104.0 442.3,103.2 C441.7,102.3 441.1,101.5 440.7,100.6 C440.4,99.7 440.3,98.6 440.1,97.7 C440.0,96.7 440.0,95.7 439.9,94.7 C439.8,93.7 439.6,92.7 439.7,91.7 C439.7,90.7 439.9,89.7 440.3,88.7 C440.6,87.8 441.3,87.0 441.7,86.1 C442.1,85.2 442.4,84.2 442.6,83.2 C442.7,82.3 442.6,80.7 442.6,80.2 M345.9,143.0 C346.0,143.5 346.4,144.9 346.6,145.9 C346.7,146.9 346.9,147.9 346.8,148.9 C346.7,149.9 346.2,150.8 345.9,151.8 C345.5,152.7 344.8,153.5 344.5,154.4 C344.2,155.4 344.2,156.4 344.0,157.4 C343.9,158.4 343.7,159.4 343.7,160.4 C343.8,161.4 344.0,162.4 344.3,163.3 C344.5,164.3 344.9,165.2 345.1,166.2 C345.3,167.2 345.3,168.7 345.3,169.2 M451.9,103.0 C452.2,102.6 452.8,101.2 453.3,100.4 C453.9,99.6 454.5,98.8 455.2,98.0 C455.9,97.3 456.8,96.8 457.3,96.0 C457.9,95.1 457.9,94.0 458.4,93.2 C459.0,92.4 459.9,91.8 460.6,91.1 C461.3,90.4 461.9,89.6 462.6,88.9 C463.3,88.2 464.3,87.7 464.9,87.0 C465.6,86.2 466.2,85.4 466.7,84.6 C467.3,83.7 468.0,82.9 468.3,82.0 C468.7,81.1 468.6,80.0 469.0,79.1 C469.4,78.2 470.4,77.6 470.8,76.7 C471.2,75.8 471.5,74.8 471.5,73.8 C471.6,72.8 471.2,71.3 471.1,70.8 M464.2,94.5 C463.9,94.9 463.0,96.1 462.4,96.9 C461.8,97.7 461.3,98.6 460.7,99.4 C460.1,100.2 459.4,101.0 458.6,101.5 C457.8,102.1 456.8,102.5 455.8,102.7 C454.9,102.9 453.8,102.8 452.8,102.9 C451.9,103.0 450.9,103.4 449.9,103.4 C448.9,103.5 447.9,103.2 446.9,103.3 C445.9,103.3 444.9,103.6 444.0,103.8 C443.0,104.0 442.1,104.6 441.1,104.7 C440.1,104.7 439.1,104.5 438.1,104.2 C437.2,104.0 436.3,103.5 435.3,103.1 C434.4,102.8 432.9,102.5 432.4,102.3 M434.2,71.7 C434.0,71.2 433.6,69.7 433.2,68.8 C432.9,67.9 432.3,67.0 432.1,66.0 C431.9,65.1 431.9,64.0 432.0,63.0 C432.1,62.0 432.6,61.1 432.7,60.1 C432.8,59.1 432.8,58.1 432.7,57.1 C432.7,56.1 432.4,55.1 432.5,54.1 C432.6,53.1 432.9,52.2 433.3,51.2 C433.6,50.3 434.4,49.0 434.7,48.6 M443.6,103.2 C443.6,103.7 443.7,105.2 443.8,106.2 C443.9,107.2 444.1,108.2 444.2,109.2 C444.4,110.2 444.6,111.1 444.9,112.1 C445.1,113.1 445.5,114.0 445.7,115.0 C445.9,116.0 446.0,117.0 446.3,117.9 C446.6,118.9 447.3,119.7 447.6,120.6 C447.9,121.6 447.7,122.7 448.0,123.6 C448.4,124.5 449.2,125.3 449.6,126.2 C450.0,127.1 450.3,128.6 450.5,129.0 M431.0,41.1 C431.2,41.6 431.8,43.0 431.9,44.0 C432.0,45.0 431.5,46.0 431.5,46.9 C431.4,47.9 431.4,49.0 431.6,49.9 C431.9,50.9 432.5,51.7 432.9,52.7 C433.2,53.6 433.7,54.6 433.7,55.6 C433.8,56.5 433.4,58.0 433.3,58.5 M392.2,37.9 C391.8,37.7 390.4,37.0 389.6,36.5 C388.7,36.0 387.7,35.6 387.0,34.9 C386.3,34.2 386.0,33.2 385.4,32.4 C384.8,31.6 384.2,30.8 383.6,30.0 C382.9,29.3 382.1,28.7 381.4,27.9 C380.8,27.2 380.2,26.3 379.7,25.5 C379.2,24.6 378.4,23.3 378.1,22.9 M488.8,71.2 C488.5,70.8 487.6,69.6 487.0,68.8 C486.4,68.0 485.9,67.1 485.2,66.4 C484.5,65.7 483.7,65.1 482.8,64.6 C481.9,64.2 480.9,64.0 480.0,63.7 C479.0,63.5 477.9,63.5 477.0,63.1 C476.1,62.7 475.4,61.9 474.6,61.3 C473.8,60.7 473.0,60.1 472.3,59.5 C471.5,58.9 470.3,57.9 469.9,57.6 M418.5,127.2 C418.3,127.7 417.6,129.0 417.0,129.8 C416.5,130.7 416.0,131.5 415.4,132.4 C414.9,133.2 414.4,134.1 413.8,134.9 C413.3,135.7 412.8,136.7 412.0,137.3 C411.3,138.0 410.3,138.3 409.5,138.8 C408.6,139.4 407.9,140.1 407.1,140.7 C406.3,141.3 405.0,142.0 404.6,142.3 M507.8,121.7 C507.9,121.2 508.3,119.8 508.7,118.9 C509.0,117.9 509.6,117.1 509.9,116.1 C510.3,115.2 510.6,114.2 510.8,113.3 C511.0,112.3 511.3,111.3 511.3,110.3 C511.3,109.3 510.8,108.3 510.8,107.4 C510.8,106.4 510.8,105.3 511.0,104.4 C511.3,103.4 511.8,102.5 512.4,101.7 C513.0,100.9 513.8,100.3 514.5,99.6 C515.2,98.8 515.7,97.9 516.5,97.3 C517.3,96.7 518.3,96.3 519.2,96.0 C520.1,95.7 521.7,95.5 522.2,95.4 M446.0,131.7 C446.1,131.2 446.5,129.7 446.8,128.8 C447.1,127.8 447.7,127.0 448.0,126.0 C448.4,125.1 448.5,124.1 448.9,123.2 C449.3,122.3 450.2,121.0 450.5,120.6 M466.0,14.9 C465.7,15.3 464.5,16.3 464.0,17.1 C463.5,18.0 463.0,18.9 462.8,19.9 C462.7,20.9 462.8,21.9 463.0,22.9 C463.1,23.9 463.5,25.3 463.7,25.8 M462.5,28.7 C463.0,28.8 464.5,29.0 465.5,29.0 C466.5,29.0 467.5,28.7 468.5,28.7 C469.5,28.8 470.5,29.2 471.4,29.4 C472.4,29.7 473.4,29.8 474.3,30.1 C475.2,30.5 476.5,31.4 476.9,31.7 M418.0,45.9 C418.3,45.5 419.2,44.2 419.5,43.3 C419.8,42.4 419.9,41.3 420.1,40.3 C420.3,39.4 420.5,38.4 420.8,37.4 C421.2,36.5 422.0,35.2 422.2,34.8 M385.3,95.3 C385.7,95.0 387.0,94.1 387.6,93.4 C388.3,92.7 388.9,91.8 389.2,90.8 C389.5,89.9 389.4,88.9 389.6,87.9 C389.7,86.9 389.9,85.4 389.9,84.9 M408.5,64.8 C408.2,64.4 407.4,63.0 406.7,62.3 C406.0,61.6 405.0,61.3 404.3,60.5 C403.7,59.8 403.3,58.8 402.8,58.0 C402.3,57.1 401.5,55.8 401.2,55.4 M380.0,86.0 C379.5,86.2 378.1,86.6 377.1,86.9 C376.2,87.3 375.3,87.8 374.4,88.0 C373.4,88.2 372.4,88.3 371.4,88.2 C370.4,88.2 368.9,87.8 368.4,87.7" stroke="#2b8f2b" stroke-width="1.2" opacity="0.75"/>
<path d="M361.9,6.2 C362.9,5.9 366.3,4.5 368.1,4.6 C369.9,4.7 371.8,5.9 372.7,6.9 C373.6,7.9 373.7,9.6 373.5,10.8 C373.2,11.9 372.3,13.2 371.2,13.8 C370.0,14.5 367.8,14.9 366.5,14.6 C365.3,14.4 364.0,12.7 363.5,12.3 M345.0,15.4 C346.0,15.6 349.1,16.4 351.2,16.9 C353.2,17.4 355.3,17.9 357.3,18.5 C359.4,19.0 361.7,19.5 363.5,20.0 C365.3,20.5 366.8,20.8 368.1,21.5 C369.4,22.3 370.1,23.7 371.2,24.6 C372.2,25.5 373.2,26.2 374.2,26.9 C375.3,27.7 376.5,28.1 377.3,29.2 C378.1,30.4 378.3,32.1 378.8,33.8 C379.4,35.6 379.6,38.2 380.4,40.0 C381.2,41.8 382.4,43.3 383.5,44.6 C384.5,45.9 385.3,46.4 386.5,47.7 C387.8,49.0 389.9,51.3 391.2,52.3 C392.4,53.3 393.7,53.6 394.2,53.8 M363.5,3.1 C365.5,2.8 372.2,1.7 375.8,1.5 C379.4,1.4 381.9,2.3 385.0,2.3 C388.1,2.3 391.7,1.9 394.2,1.5 C396.8,1.2 399.4,0.3 400.4,0.0 M381.9,3.1 C381.9,4.1 381.7,7.2 381.9,9.2 C382.2,11.3 382.9,13.3 383.5,15.4 C384.0,17.4 384.5,19.7 385.0,21.5 C385.5,23.3 385.8,24.9 386.5,26.2 C387.3,27.4 388.6,28.5 389.6,29.2 C390.6,30.0 391.4,30.8 392.7,30.8 C394.0,30.8 396.0,30.3 397.3,29.2 C398.6,28.2 399.6,26.4 400.4,24.6 C401.2,22.8 401.4,20.5 401.9,18.5 C402.4,16.4 402.9,14.4 403.5,12.3 C404.0,10.3 404.6,8.2 405.0,6.2 C405.4,4.1 405.6,1.0 405.8,0.0 M389.6,15.4 C389.4,16.4 388.2,19.5 388.1,21.5 C387.9,23.6 388.3,26.2 388.8,27.7 C389.4,29.2 390.8,30.3 391.2,30.8 M395.8,0.0 C396.8,0.5 400.1,1.8 401.9,3.1 C403.7,4.4 405.0,5.9 406.5,7.7 C408.1,9.5 409.4,12.3 411.2,13.8 C412.9,15.4 415.5,16.7 417.3,16.9 C419.1,17.2 420.9,16.7 421.9,15.4 C422.9,14.1 422.7,10.8 423.5,9.2 C424.2,7.7 426.0,6.7 426.5,6.2 M405.0,3.1 C405.8,3.6 407.8,5.9 409.6,6.2 C411.4,6.4 413.7,5.3 415.8,4.6 C417.8,4.0 420.9,2.7 421.9,2.3 M421.9,15.4 C421.4,16.4 419.6,19.5 418.8,21.5 C418.1,23.6 417.8,25.6 417.3,27.7 C416.8,29.7 416.5,32.1 415.8,33.8 C415.0,35.6 413.7,37.2 412.7,38.5 C411.7,39.7 411.2,40.5 409.6,41.5 C408.1,42.6 405.5,43.8 403.5,44.6 C401.4,45.4 399.4,45.4 397.3,46.2 C395.3,46.9 392.2,48.7 391.2,49.2 M395.8,32.3 C396.5,33.1 398.6,35.6 400.4,36.9 C402.2,38.2 404.5,39.2 406.5,40.0 C408.6,40.8 410.6,41.5 412.7,41.5 C414.7,41.5 416.8,40.8 418.8,40.0 C420.9,39.2 423.6,37.7 425.0,36.9 C426.4,36.2 426.7,35.6 427.0,35.4 M345.0,32.3 C345.8,32.6 348.1,33.1 349.6,33.8 C351.2,34.6 352.9,35.6 354.2,36.9 C355.5,38.2 356.3,40.0 357.3,41.5 C358.3,43.1 359.6,44.4 360.4,46.2 C361.2,47.9 361.4,50.3 361.9,52.3 C362.4,54.4 362.7,56.4 363.5,58.5 C364.2,60.5 365.3,62.8 366.5,64.6 C367.8,66.4 369.6,67.9 371.2,69.2 C372.7,70.5 374.2,71.3 375.8,72.3 C377.3,73.3 379.1,73.8 380.4,75.4 C381.7,77.0 382.9,80.9 383.5,82.0 M360.4,30.8 C361.4,30.5 364.5,29.7 366.5,29.2 C368.6,28.7 370.9,28.1 372.7,27.7 C374.5,27.3 376.5,27.1 377.3,26.9 M369.6,38.5 C369.9,39.5 370.8,42.6 371.2,44.6 C371.5,46.7 371.9,48.7 371.9,50.8 C371.9,52.8 371.2,55.1 371.2,56.9 C371.2,58.7 371.4,60.3 371.9,61.5 C372.4,62.8 373.1,63.6 374.2,64.6 C375.4,65.6 377.1,66.7 378.8,67.7 C380.6,68.7 384.0,70.3 385.0,70.8 M374.2,64.6 C375.3,63.8 378.3,61.3 380.4,60.0 C382.4,58.7 385.0,58.2 386.5,56.9 C388.1,55.6 389.1,53.1 389.6,52.3 M389.6,52.3 C389.9,53.3 391.2,56.4 391.2,58.5 C391.2,60.5 390.4,62.6 389.6,64.6 C388.8,66.7 387.6,69.0 386.5,70.8 C385.5,72.6 384.0,74.6 383.5,75.4 M394.2,53.8 C394.7,54.9 396.3,58.2 397.3,60.0 C398.3,61.8 399.4,63.1 400.4,64.6 C401.4,66.2 402.4,67.7 403.5,69.2 C404.5,70.8 405.5,72.3 406.5,73.8 C407.6,75.4 408.8,77.1 409.6,78.5 C410.4,79.8 410.9,81.4 411.2,82.0 M400.4,58.5 C401.4,58.2 405.0,56.7 406.5,56.9 C408.1,57.2 408.8,58.7 409.6,60.0 C410.4,61.3 410.1,63.3 411.2,64.6 C412.2,65.9 414.0,66.9 415.8,67.7 C417.6,68.5 420.1,69.2 421.9,69.2 C423.8,69.2 426.2,67.9 427.0,67.7 M345.0,53.8 C345.8,54.4 348.1,55.6 349.6,56.9 C351.2,58.2 353.2,59.7 354.2,61.5 C355.3,63.3 355.3,65.6 355.8,67.7 C356.3,69.7 356.8,71.8 357.3,73.8 C357.8,75.9 358.6,79.0 358.8,80.0 M418.8,50.8 C419.6,51.3 422.1,53.1 423.5,53.8 C424.8,54.6 426.4,55.1 427.0,55.4 M346.5,70.8 C347.3,71.5 349.6,74.1 351.2,75.4 C352.7,76.7 355.0,77.9 355.8,78.5 M425.0,16.9 L427.0,18.5 M412.7,72.3 C413.7,72.6 417.1,73.1 418.8,73.8 C420.6,74.6 422.1,76.4 423.5,76.9 C424.8,77.4 426.4,76.9 427.0,76.9 M427.0,4.6 C428.0,4.4 431.1,3.6 433.2,3.1 C435.2,2.6 437.5,2.1 439.3,1.5 C441.1,1.0 443.2,0.3 443.9,0.0 M427.0,16.9 C428.0,16.7 431.1,15.6 433.2,15.4 C435.2,15.1 437.5,15.1 439.3,15.4 C441.1,15.6 442.8,15.9 443.9,16.9 C445.1,17.9 445.7,20.0 446.2,21.5 C446.7,23.1 446.4,24.9 447.0,26.2 C447.6,27.4 448.8,28.5 450.1,29.2 C451.4,30.0 453.2,30.5 454.7,30.8 C456.2,31.0 457.8,31.0 459.3,30.8 C460.8,30.5 462.4,29.7 463.9,29.2 C465.5,28.7 467.8,27.9 468.5,27.7 M427.0,36.9 C428.0,36.7 431.1,36.2 433.2,35.4 C435.2,34.6 437.8,33.3 439.3,32.3 C440.8,31.3 441.6,30.3 442.4,29.2 C443.2,28.2 443.7,26.7 443.9,26.2 M447.0,26.2 C447.1,27.4 447.3,31.5 447.8,33.8 C448.3,36.2 449.4,37.9 450.1,40.0 C450.7,42.1 451.1,44.1 451.6,46.2 C452.1,48.2 453.2,50.3 453.2,52.3 C453.2,54.4 452.6,56.4 451.6,58.5 C450.6,60.5 448.3,63.1 447.0,64.6 C445.7,66.2 444.7,66.2 443.9,67.7 C443.2,69.2 442.4,71.8 442.4,73.8 C442.4,75.9 443.7,79.0 443.9,80.0 M454.7,30.8 C454.8,31.8 454.9,35.4 455.5,36.9 C456.0,38.5 457.0,39.2 457.8,40.0 C458.5,40.8 459.6,42.1 460.1,41.5 C460.6,41.0 461.2,38.5 460.8,36.9 C460.5,35.4 458.3,33.1 457.8,32.3 M468.5,24.6 C468.8,25.6 469.6,28.7 470.1,30.8 C470.6,32.8 471.1,34.9 471.6,36.9 C472.1,39.0 473.2,41.0 473.2,43.1 C473.2,45.1 472.1,47.4 471.6,49.2 C471.1,51.0 470.6,52.3 470.1,53.8 C469.6,55.4 469.3,56.9 468.5,58.5 C467.8,60.0 466.7,61.5 465.5,63.1 C464.2,64.6 462.4,66.2 460.8,67.7 C459.3,69.2 457.8,71.0 456.2,72.3 C454.7,73.6 453.4,74.4 451.6,75.4 C449.8,76.4 447.3,77.4 445.5,78.5 C443.7,79.5 441.6,81.0 440.8,81.5 M470.1,53.8 C469.1,54.1 465.7,54.9 463.9,55.4 C462.1,55.9 460.1,56.7 459.3,56.9 M471.6,49.2 C472.1,50.0 473.7,52.3 474.7,53.8 C475.7,55.4 476.7,56.9 477.8,58.5 C478.8,60.0 479.8,61.5 480.8,63.1 C481.9,64.6 482.9,66.2 483.9,67.7 C484.9,69.2 486.2,70.8 487.0,72.3 C487.8,73.8 488.3,76.2 488.5,76.9 M476.2,30.8 C476.5,31.5 477.3,33.8 477.8,35.4 C478.3,36.9 478.8,39.7 479.3,40.0 C479.8,40.3 481.1,38.2 480.8,36.9 C480.6,35.6 478.3,33.1 477.8,32.3 M488.5,30.8 C489.6,31.0 492.6,32.3 494.7,32.3 C496.7,32.3 498.8,31.0 500.8,30.8 C502.9,30.5 505.6,30.9 507.0,30.8 C508.4,30.6 508.7,30.1 509.0,30.0 M499.3,23.1 C499.1,23.8 498.5,26.4 497.8,27.7 C497.0,29.0 495.5,29.2 494.7,30.8 C493.9,32.3 493.2,35.4 493.2,36.9 C493.2,38.5 494.4,39.5 494.7,40.0 M488.5,44.6 C488.3,45.6 487.5,49.0 487.0,50.8 C486.5,52.6 486.0,53.6 485.5,55.4 C484.9,57.2 484.4,59.5 483.9,61.5 C483.4,63.6 482.9,65.6 482.4,67.7 C481.9,69.7 481.1,72.8 480.8,73.8 M488.5,44.6 C489.3,45.1 491.6,46.7 493.2,47.7 C494.7,48.7 496.2,50.5 497.8,50.8 C499.3,51.0 500.5,49.7 502.4,49.2 C504.3,48.7 507.9,47.9 509.0,47.7 M494.7,50.8 C494.9,51.8 495.5,55.1 496.2,56.9 C497.0,58.7 498.0,60.5 499.3,61.5 C500.6,62.6 503.2,62.8 503.9,63.1 M427.0,49.2 C428.0,48.7 431.4,46.4 433.2,46.2 C434.9,45.9 436.2,47.2 437.8,47.7 C439.3,48.2 440.8,49.5 442.4,49.2 C443.9,49.0 446.2,46.7 447.0,46.2 M436.2,41.5 C436.0,42.3 435.2,44.4 434.7,46.2 C434.2,47.9 433.9,50.3 433.2,52.3 C432.4,54.4 430.8,56.4 430.1,58.5 C429.3,60.5 428.5,62.6 428.5,64.6 C428.5,66.7 429.6,69.0 430.1,70.8 C430.6,72.6 431.4,74.6 431.6,75.4 M427.0,58.5 C427.8,58.7 429.8,59.7 431.6,60.0 C433.4,60.3 435.7,60.3 437.8,60.0 C439.8,59.7 442.4,59.2 443.9,58.5 C445.5,57.7 446.5,55.9 447.0,55.4 M470.1,15.4 C470.1,16.4 470.2,19.7 470.1,21.5 C469.9,23.3 469.4,25.4 469.3,26.2 M500.8,0.0 C501.4,1.0 502.9,4.6 503.9,6.2 C504.9,7.7 506.5,8.7 507.0,9.2 M485.5,61.5 C486.5,62.1 489.6,63.3 491.6,64.6 C493.7,65.9 496.2,67.7 497.8,69.2 C499.3,70.8 500.3,73.1 500.8,73.8 M462.4,0.0 C462.9,0.5 464.2,2.8 465.5,3.1 C466.7,3.3 469.3,1.8 470.1,1.5 M345.0,85.1 C345.8,85.8 348.1,88.2 349.6,89.7 C351.2,91.2 352.7,92.8 354.2,94.3 C355.8,95.8 357.6,97.4 358.8,98.9 C360.1,100.5 360.9,102.0 361.9,103.5 C362.9,105.1 364.0,107.0 365.0,108.2 C366.0,109.3 367.6,110.1 368.1,110.5 M357.3,97.4 C358.3,96.9 361.4,95.6 363.5,94.3 C365.5,93.0 367.6,91.0 369.6,89.7 C371.7,88.4 374.0,87.6 375.8,86.6 C377.6,85.6 379.6,84.1 380.4,83.5 M345.0,126.6 C345.5,125.8 346.8,123.5 348.1,122.0 C349.4,120.5 351.2,118.7 352.7,117.4 C354.2,116.1 355.5,115.2 357.3,114.3 C359.1,113.4 361.2,112.5 363.5,112.0 C365.8,111.5 368.6,111.5 371.2,111.2 C373.7,111.0 376.3,110.5 378.8,110.5 C381.4,110.5 384.0,111.4 386.5,111.2 C389.1,111.1 391.9,110.2 394.2,109.7 C396.5,109.2 398.3,108.3 400.4,108.2 C402.4,108.0 404.2,108.7 406.5,108.9 C408.8,109.2 411.7,109.3 414.2,109.7 C416.8,110.1 419.8,110.7 421.9,111.2 C424.1,111.7 426.2,112.5 427.0,112.8 M368.1,123.5 C368.3,124.6 369.1,127.9 369.6,129.7 C370.1,131.5 370.5,133.2 371.2,134.3 C371.8,135.5 373.1,136.2 373.5,136.6 M388.1,115.8 C387.8,116.9 387.3,120.2 386.5,122.0 C385.8,123.8 384.5,125.1 383.5,126.6 C382.4,128.2 381.2,129.7 380.4,131.2 C379.6,132.8 379.4,134.3 378.8,135.8 C378.3,137.4 377.7,139.2 377.3,140.5 C376.9,141.7 376.7,143.0 376.5,143.5 M346.5,128.2 C347.3,128.4 349.6,129.2 351.2,129.7 C352.7,130.2 354.0,130.7 355.8,131.2 C357.6,131.7 360.1,132.5 361.9,132.8 C363.7,133.0 365.8,132.8 366.5,132.8 M381.9,128.2 C382.9,128.9 386.3,131.2 388.1,132.8 C389.9,134.3 391.4,136.1 392.7,137.4 C394.0,138.7 394.7,139.4 395.8,140.5 C396.8,141.5 398.6,142.0 398.8,143.5 C399.1,145.1 397.8,147.6 397.3,149.7 C396.8,151.7 396.0,154.8 395.8,155.8 M397.3,125.1 C398.1,124.6 400.4,122.8 401.9,122.0 C403.5,121.2 405.0,121.0 406.5,120.5 C408.1,119.9 409.4,119.3 411.2,118.9 C412.9,118.5 415.3,118.2 417.3,118.2 C419.4,118.2 422.4,118.8 423.5,118.9 M405.0,111.2 C405.5,112.3 407.1,115.6 408.1,117.4 C409.1,119.2 410.6,121.2 411.2,122.0 M398.8,135.8 C399.6,136.6 401.7,139.4 403.5,140.5 C405.3,141.5 407.6,141.6 409.6,142.0 C411.7,142.4 413.7,143.0 415.8,142.8 C417.8,142.5 420.1,141.1 421.9,140.5 C423.8,139.8 426.2,139.2 427.0,138.9 M345.0,148.2 C346.0,148.2 349.1,148.0 351.2,148.2 C353.2,148.3 355.8,148.9 357.3,148.9 C358.8,148.9 359.1,148.0 360.4,148.2 C361.7,148.3 363.5,148.9 365.0,149.7 C366.5,150.5 367.8,151.7 369.6,152.8 C371.4,153.8 373.7,154.8 375.8,155.8 C377.8,156.9 379.9,158.2 381.9,158.9 C384.0,159.7 385.8,159.9 388.1,160.5 C390.4,161.0 394.5,161.7 395.8,162.0 M363.5,134.3 C363.3,135.3 362.7,138.7 362.7,140.5 C362.7,142.3 363.1,143.5 363.5,145.1 C363.8,146.6 364.7,148.9 365.0,149.7 M406.5,146.6 C407.3,147.4 409.6,149.7 411.2,151.2 C412.7,152.8 414.2,154.3 415.8,155.8 C417.3,157.4 418.8,159.1 420.4,160.5 C421.9,161.8 424.2,163.4 425.0,164.0 M411.2,82.0 C411.4,82.8 412.7,85.1 412.7,86.6 C412.7,88.2 411.4,90.5 411.2,91.2 M415.8,92.8 C416.8,92.8 420.1,93.0 421.9,92.8 C423.8,92.5 426.2,91.5 427.0,91.2 M417.3,97.4 C417.8,98.2 419.1,100.5 420.4,102.0 C421.7,103.5 424.2,105.8 425.0,106.6 M417.3,118.9 C417.8,119.9 419.6,123.0 420.4,125.1 C421.2,127.1 421.4,128.9 421.9,131.2 C422.4,133.5 423.2,137.6 423.5,138.9 M403.5,91.2 C404.5,91.7 407.6,94.1 409.6,94.3 C411.7,94.6 414.7,93.0 415.8,92.8 M427.0,89.7 C428.0,89.4 431.1,88.9 433.2,88.2 C435.2,87.4 437.5,86.1 439.3,85.1 C441.1,84.1 443.2,82.5 443.9,82.0 M427.0,91.2 C428.0,91.4 431.4,91.7 433.2,92.0 C434.9,92.3 436.2,92.9 437.8,92.8 C439.3,92.6 440.8,92.0 442.4,91.2 C443.9,90.5 445.2,88.9 447.0,88.2 C448.8,87.4 451.1,86.6 453.2,86.6 C455.2,86.6 457.3,87.6 459.3,88.2 C461.4,88.7 463.4,89.7 465.5,89.7 C467.5,89.7 469.6,88.4 471.6,88.2 C473.7,87.9 475.7,88.4 477.8,88.2 C479.8,87.9 481.9,87.1 483.9,86.6 C486.0,86.1 488.0,85.6 490.1,85.1 C492.1,84.6 494.2,84.1 496.2,83.5 C498.3,83.0 501.4,82.3 502.4,82.0 M437.8,92.8 C438.5,93.8 440.8,97.1 442.4,98.9 C443.9,100.7 445.5,102.0 447.0,103.5 C448.5,105.1 450.1,106.9 451.6,108.2 C453.2,109.4 454.9,110.2 456.2,111.2 C457.5,112.3 458.0,113.3 459.3,114.3 C460.6,115.3 462.4,116.4 463.9,117.4 C465.5,118.4 467.0,119.4 468.5,120.5 C470.1,121.5 471.6,122.5 473.2,123.5 C474.7,124.6 476.2,125.6 477.8,126.6 C479.3,127.6 480.6,128.7 482.4,129.7 C484.2,130.7 486.5,131.7 488.5,132.8 C490.6,133.8 492.9,135.1 494.7,135.8 C496.5,136.6 498.5,137.1 499.3,137.4 M427.0,102.0 C427.5,102.5 429.1,103.8 430.1,105.1 C431.1,106.4 432.1,107.9 433.2,109.7 C434.2,111.5 435.2,113.8 436.2,115.8 C437.3,117.9 438.3,119.9 439.3,122.0 C440.3,124.1 441.9,127.1 442.4,128.2 M456.2,102.0 C457.0,101.5 459.6,98.9 460.8,98.9 C462.1,98.9 463.2,100.7 463.9,102.0 C464.7,103.3 466.0,105.3 465.5,106.6 C464.9,107.9 462.4,108.9 460.8,109.7 C459.3,110.5 457.0,111.0 456.2,111.2 M465.5,105.1 C466.7,104.8 470.8,103.8 473.2,103.5 C475.5,103.3 477.3,103.5 479.3,103.5 C481.4,103.5 483.4,103.3 485.5,103.5 C487.5,103.8 490.6,104.8 491.6,105.1 M480.8,114.3 C481.9,114.1 484.9,113.3 487.0,112.8 C489.1,112.3 491.4,111.7 493.2,111.2 C494.9,110.7 496.5,110.7 497.8,109.7 C499.1,108.7 500.1,106.1 500.8,105.1 C501.6,104.1 502.1,103.8 502.4,103.5 M485.5,105.1 C485.3,106.4 484.7,110.2 484.7,112.8 C484.7,115.3 485.1,117.9 485.5,120.5 C485.8,123.0 486.6,125.6 487.0,128.2 C487.4,130.7 487.6,134.6 487.8,135.8 M427.0,132.8 C427.8,132.0 430.1,129.4 431.6,128.2 C433.2,126.9 434.4,125.8 436.2,125.1 C438.0,124.3 440.3,124.1 442.4,123.5 C444.4,123.0 446.5,122.1 448.5,122.0 C450.6,121.9 452.6,122.5 454.7,122.8 C456.7,123.0 458.8,123.2 460.8,123.5 C462.9,123.9 466.0,124.8 467.0,125.1 M482.4,128.2 C483.4,128.2 486.5,128.2 488.5,128.2 C490.6,128.2 492.6,127.9 494.7,128.2 C496.7,128.4 499.1,129.7 500.8,129.7 C502.6,129.7 504.2,128.9 505.5,128.2 C506.7,127.4 508.0,125.6 508.5,125.1 M433.2,143.5 C434.2,143.3 437.3,142.5 439.3,142.0 C441.4,141.5 443.4,140.8 445.5,140.5 C447.5,140.1 449.6,139.9 451.6,139.7 C453.7,139.4 455.7,139.1 457.8,138.9 C459.8,138.8 461.9,138.7 463.9,138.9 C466.0,139.2 469.1,140.2 470.1,140.5 M457.8,142.0 C457.5,142.8 456.6,144.8 456.2,146.6 C455.8,148.4 455.7,151.0 455.5,152.8 C455.2,154.6 454.8,156.6 454.7,157.4 M470.1,140.5 C470.6,141.2 471.9,143.5 473.2,145.1 C474.4,146.6 476.2,148.2 477.8,149.7 C479.3,151.2 481.1,153.0 482.4,154.3 C483.7,155.6 484.4,156.4 485.5,157.4 C486.5,158.4 488.0,159.9 488.5,160.5 M427.0,152.8 C428.0,153.3 431.1,154.8 433.2,155.8 C435.2,156.9 437.3,158.2 439.3,158.9 C441.4,159.7 444.4,160.2 445.5,160.5 M462.4,146.6 C462.5,147.9 462.9,151.7 463.2,154.3 C463.4,156.9 463.8,160.7 463.9,162.0 M497.8,140.5 C498.0,141.5 499.3,144.6 499.3,146.6 C499.3,148.7 498.3,150.7 497.8,152.8 C497.3,154.8 496.5,157.9 496.2,158.9 M507.0,112.8 L509.0,117.4 M468.5,82.0 C469.3,82.8 472.1,85.1 473.2,86.6 C474.2,88.2 474.2,89.7 474.7,91.2 C475.2,92.8 475.5,94.3 476.2,95.8 C477.0,97.4 478.8,99.7 479.3,100.5 M488.5,82.0 C488.7,83.0 489.3,86.4 489.3,88.2 C489.3,89.9 488.7,92.0 488.5,92.8 M503.9,117.4 C504.4,117.9 506.2,119.7 507.0,120.5 C507.8,121.2 508.3,121.7 508.5,122.0" stroke="#3cb83c" stroke-width="3.5" opacity="0.2"/>
<path d="M361.9,6.2 C362.9,5.9 366.3,4.5 368.1,4.6 C369.9,4.7 371.8,5.9 372.7,6.9 C373.6,7.9 373.7,9.6 373.5,10.8 C373.2,11.9 372.3,13.2 371.2,13.8 C370.0,14.5 367.8,14.9 366.5,14.6 C365.3,14.4 364.0,12.7 363.5,12.3 M363.5,3.1 C365.5,2.8 372.2,1.7 375.8,1.5 C379.4,1.4 381.9,2.3 385.0,2.3 C388.1,2.3 391.7,1.9 394.2,1.5 C396.8,1.2 399.4,0.3 400.4,0.0 M395.8,32.3 C396.5,33.1 398.6,35.6 400.4,36.9 C402.2,38.2 404.5,39.2 406.5,40.0 C408.6,40.8 410.6,41.5 412.7,41.5 C414.7,41.5 416.8,40.8 418.8,40.0 C420.9,39.2 423.6,37.7 425.0,36.9 C426.4,36.2 426.7,35.6 427.0,35.4 M400.4,58.5 C401.4,58.2 405.0,56.7 406.5,56.9 C408.1,57.2 408.8,58.7 409.6,60.0 C410.4,61.3 410.1,63.3 411.2,64.6 C412.2,65.9 414.0,66.9 415.8,67.7 C417.6,68.5 420.1,69.2 421.9,69.2 C423.8,69.2 426.2,67.9 427.0,67.7 M345.0,53.8 C345.8,54.4 348.1,55.6 349.6,56.9 C351.2,58.2 353.2,59.7 354.2,61.5 C355.3,63.3 355.3,65.6 355.8,67.7 C356.3,69.7 356.8,71.8 357.3,73.8 C357.8,75.9 358.6,79.0 358.8,80.0 M427.0,16.9 C428.0,16.7 431.1,15.6 433.2,15.4 C435.2,15.1 437.5,15.1 439.3,15.4 C441.1,15.6 442.8,15.9 443.9,16.9 C445.1,17.9 445.7,20.0 446.2,21.5 C446.7,23.1 446.4,24.9 447.0,26.2 C447.6,27.4 448.8,28.5 450.1,29.2 C451.4,30.0 453.2,30.5 454.7,30.8 C456.2,31.0 457.8,31.0 459.3,30.8 C460.8,30.5 462.4,29.7 463.9,29.2 C465.5,28.7 467.8,27.9 468.5,27.7 M447.0,26.2 C447.1,27.4 447.3,31.5 447.8,33.8 C448.3,36.2 449.4,37.9 450.1,40.0 C450.7,42.1 451.1,44.1 451.6,46.2 C452.1,48.2 453.2,50.3 453.2,52.3 C453.2,54.4 452.6,56.4 451.6,58.5 C450.6,60.5 448.3,63.1 447.0,64.6 C445.7,66.2 444.7,66.2 443.9,67.7 C443.2,69.2 442.4,71.8 442.4,73.8 C442.4,75.9 443.7,79.0 443.9,80.0 M471.6,49.2 C472.1,50.0 473.7,52.3 474.7,53.8 C475.7,55.4 476.7,56.9 477.8,58.5 C478.8,60.0 479.8,61.5 480.8,63.1 C481.9,64.6 482.9,66.2 483.9,67.7 C484.9,69.2 486.2,70.8 487.0,72.3 C487.8,73.8 488.3,76.2 488.5,76.9 M476.2,30.8 C476.5,31.5 477.3,33.8 477.8,35.4 C478.3,36.9 478.8,39.7 479.3,40.0 C479.8,40.3 481.1,38.2 480.8,36.9 C480.6,35.6 478.3,33.1 477.8,32.3 M488.5,30.8 C489.6,31.0 492.6,32.3 494.7,32.3 C496.7,32.3 498.8,31.0 500.8,30.8 C502.9,30.5 505.6,30.9 507.0,30.8 C508.4,30.6 508.7,30.1 509.0,30.0 M427.0,58.5 C427.8,58.7 429.8,59.7 431.6,60.0 C433.4,60.3 435.7,60.3 437.8,60.0 C439.8,59.7 442.4,59.2 443.9,58.5 C445.5,57.7 446.5,55.9 447.0,55.4 M470.1,15.4 C470.1,16.4 470.2,19.7 470.1,21.5 C469.9,23.3 469.4,25.4 469.3,26.2 M465.5,105.1 C466.7,104.8 470.8,103.8 473.2,103.5 C475.5,103.3 477.3,103.5 479.3,103.5 C481.4,103.5 483.4,103.3 485.5,103.5 C487.5,103.8 490.6,104.8 491.6,105.1 M480.8,114.3 C481.9,114.1 484.9,113.3 487.0,112.8 C489.1,112.3 491.4,111.7 493.2,111.2 C494.9,110.7 496.5,110.7 497.8,109.7 C499.1,108.7 500.1,106.1 500.8,105.1 C501.6,104.1 502.1,103.8 502.4,103.5 M433.2,143.5 C434.2,143.3 437.3,142.5 439.3,142.0 C441.4,141.5 443.4,140.8 445.5,140.5 C447.5,140.1 449.6,139.9 451.6,139.7 C453.7,139.4 455.7,139.1 457.8,138.9 C459.8,138.8 461.9,138.7 463.9,138.9 C466.0,139.2 469.1,140.2 470.1,140.5 M427.0,152.8 C428.0,153.3 431.1,154.8 433.2,155.8 C435.2,156.9 437.3,158.2 439.3,158.9 C441.4,159.7 444.4,160.2 445.5,160.5 M507.0,112.8 L509.0,117.4 M488.5,82.0 C488.7,83.0 489.3,86.4 489.3,88.2 C489.3,89.9 488.7,92.0 488.5,92.8" stroke="#4cd447" stroke-width="1.35"/>
<path d="M345.0,15.4 C346.0,15.6 349.1,16.4 351.2,16.9 C353.2,17.4 355.3,17.9 357.3,18.5 C359.4,19.0 361.7,19.5 363.5,20.0 C365.3,20.5 366.8,20.8 368.1,21.5 C369.4,22.3 370.1,23.7 371.2,24.6 C372.2,25.5 373.2,26.2 374.2,26.9 C375.3,27.7 376.5,28.1 377.3,29.2 C378.1,30.4 378.3,32.1 378.8,33.8 C379.4,35.6 379.6,38.2 380.4,40.0 C381.2,41.8 382.4,43.3 383.5,44.6 C384.5,45.9 385.3,46.4 386.5,47.7 C387.8,49.0 389.9,51.3 391.2,52.3 C392.4,53.3 393.7,53.6 394.2,53.8 M381.9,3.1 C381.9,4.1 381.7,7.2 381.9,9.2 C382.2,11.3 382.9,13.3 383.5,15.4 C384.0,17.4 384.5,19.7 385.0,21.5 C385.5,23.3 385.8,24.9 386.5,26.2 C387.3,27.4 388.6,28.5 389.6,29.2 C390.6,30.0 391.4,30.8 392.7,30.8 C394.0,30.8 396.0,30.3 397.3,29.2 C398.6,28.2 399.6,26.4 400.4,24.6 C401.2,22.8 401.4,20.5 401.9,18.5 C402.4,16.4 402.9,14.4 403.5,12.3 C404.0,10.3 404.6,8.2 405.0,6.2 C405.4,4.1 405.6,1.0 405.8,0.0 M389.6,15.4 C389.4,16.4 388.2,19.5 388.1,21.5 C387.9,23.6 388.3,26.2 388.8,27.7 C389.4,29.2 390.8,30.3 391.2,30.8 M395.8,0.0 C396.8,0.5 400.1,1.8 401.9,3.1 C403.7,4.4 405.0,5.9 406.5,7.7 C408.1,9.5 409.4,12.3 411.2,13.8 C412.9,15.4 415.5,16.7 417.3,16.9 C419.1,17.2 420.9,16.7 421.9,15.4 C422.9,14.1 422.7,10.8 423.5,9.2 C424.2,7.7 426.0,6.7 426.5,6.2 M405.0,3.1 C405.8,3.6 407.8,5.9 409.6,6.2 C411.4,6.4 413.7,5.3 415.8,4.6 C417.8,4.0 420.9,2.7 421.9,2.3 M421.9,15.4 C421.4,16.4 419.6,19.5 418.8,21.5 C418.1,23.6 417.8,25.6 417.3,27.7 C416.8,29.7 416.5,32.1 415.8,33.8 C415.0,35.6 413.7,37.2 412.7,38.5 C411.7,39.7 411.2,40.5 409.6,41.5 C408.1,42.6 405.5,43.8 403.5,44.6 C401.4,45.4 399.4,45.4 397.3,46.2 C395.3,46.9 392.2,48.7 391.2,49.2 M345.0,32.3 C345.8,32.6 348.1,33.1 349.6,33.8 C351.2,34.6 352.9,35.6 354.2,36.9 C355.5,38.2 356.3,40.0 357.3,41.5 C358.3,43.1 359.6,44.4 360.4,46.2 C361.2,47.9 361.4,50.3 361.9,52.3 C362.4,54.4 362.7,56.4 363.5,58.5 C364.2,60.5 365.3,62.8 366.5,64.6 C367.8,66.4 369.6,67.9 371.2,69.2 C372.7,70.5 374.2,71.3 375.8,72.3 C377.3,73.3 379.1,73.8 380.4,75.4 C381.7,77.0 382.9,80.9 383.5,82.0 M360.4,30.8 C361.4,30.5 364.5,29.7 366.5,29.2 C368.6,28.7 370.9,28.1 372.7,27.7 C374.5,27.3 376.5,27.1 377.3,26.9 M369.6,38.5 C369.9,39.5 370.8,42.6 371.2,44.6 C371.5,46.7 371.9,48.7 371.9,50.8 C371.9,52.8 371.2,55.1 371.2,56.9 C371.2,58.7 371.4,60.3 371.9,61.5 C372.4,62.8 373.1,63.6 374.2,64.6 C375.4,65.6 377.1,66.7 378.8,67.7 C380.6,68.7 384.0,70.3 385.0,70.8 M389.6,52.3 C389.9,53.3 391.2,56.4 391.2,58.5 C391.2,60.5 390.4,62.6 389.6,64.6 C388.8,66.7 387.6,69.0 386.5,70.8 C385.5,72.6 384.0,74.6 383.5,75.4 M394.2,53.8 C394.7,54.9 396.3,58.2 397.3,60.0 C398.3,61.8 399.4,63.1 400.4,64.6 C401.4,66.2 402.4,67.7 403.5,69.2 C404.5,70.8 405.5,72.3 406.5,73.8 C407.6,75.4 408.8,77.1 409.6,78.5 C410.4,79.8 410.9,81.4 411.2,82.0 M346.5,70.8 C347.3,71.5 349.6,74.1 351.2,75.4 C352.7,76.7 355.0,77.9 355.8,78.5 M425.0,16.9 L427.0,18.5 M412.7,72.3 C413.7,72.6 417.1,73.1 418.8,73.8 C420.6,74.6 422.1,76.4 423.5,76.9 C424.8,77.4 426.4,76.9 427.0,76.9 M427.0,4.6 C428.0,4.4 431.1,3.6 433.2,3.1 C435.2,2.6 437.5,2.1 439.3,1.5 C441.1,1.0 443.2,0.3 443.9,0.0 M427.0,36.9 C428.0,36.7 431.1,36.2 433.2,35.4 C435.2,34.6 437.8,33.3 439.3,32.3 C440.8,31.3 441.6,30.3 442.4,29.2 C443.2,28.2 443.7,26.7 443.9,26.2 M454.7,30.8 C454.8,31.8 454.9,35.4 455.5,36.9 C456.0,38.5 457.0,39.2 457.8,40.0 C458.5,40.8 459.6,42.1 460.1,41.5 C460.6,41.0 461.2,38.5 460.8,36.9 C460.5,35.4 458.3,33.1 457.8,32.3 M468.5,24.6 C468.8,25.6 469.6,28.7 470.1,30.8 C470.6,32.8 471.1,34.9 471.6,36.9 C472.1,39.0 473.2,41.0 473.2,43.1 C473.2,45.1 472.1,47.4 471.6,49.2 C471.1,51.0 470.6,52.3 470.1,53.8 C469.6,55.4 469.3,56.9 468.5,58.5 C467.8,60.0 466.7,61.5 465.5,63.1 C464.2,64.6 462.4,66.2 460.8,67.7 C459.3,69.2 457.8,71.0 456.2,72.3 C454.7,73.6 453.4,74.4 451.6,75.4 C449.8,76.4 447.3,77.4 445.5,78.5 C443.7,79.5 441.6,81.0 440.8,81.5 M470.1,53.8 C469.1,54.1 465.7,54.9 463.9,55.4 C462.1,55.9 460.1,56.7 459.3,56.9 M499.3,23.1 C499.1,23.8 498.5,26.4 497.8,27.7 C497.0,29.0 495.5,29.2 494.7,30.8 C493.9,32.3 493.2,35.4 493.2,36.9 C493.2,38.5 494.4,39.5 494.7,40.0 M488.5,44.6 C488.3,45.6 487.5,49.0 487.0,50.8 C486.5,52.6 486.0,53.6 485.5,55.4 C484.9,57.2 484.4,59.5 483.9,61.5 C483.4,63.6 482.9,65.6 482.4,67.7 C481.9,69.7 481.1,72.8 480.8,73.8 M488.5,44.6 C489.3,45.1 491.6,46.7 493.2,47.7 C494.7,48.7 496.2,50.5 497.8,50.8 C499.3,51.0 500.5,49.7 502.4,49.2 C504.3,48.7 507.9,47.9 509.0,47.7 M494.7,50.8 C494.9,51.8 495.5,55.1 496.2,56.9 C497.0,58.7 498.0,60.5 499.3,61.5 C500.6,62.6 503.2,62.8 503.9,63.1 M427.0,49.2 C428.0,48.7 431.4,46.4 433.2,46.2 C434.9,45.9 436.2,47.2 437.8,47.7 C439.3,48.2 440.8,49.5 442.4,49.2 C443.9,49.0 446.2,46.7 447.0,46.2 M500.8,0.0 C501.4,1.0 502.9,4.6 503.9,6.2 C504.9,7.7 506.5,8.7 507.0,9.2 M485.5,61.5 C486.5,62.1 489.6,63.3 491.6,64.6 C493.7,65.9 496.2,67.7 497.8,69.2 C499.3,70.8 500.3,73.1 500.8,73.8 M462.4,0.0 C462.9,0.5 464.2,2.8 465.5,3.1 C466.7,3.3 469.3,1.8 470.1,1.5 M345.0,85.1 C345.8,85.8 348.1,88.2 349.6,89.7 C351.2,91.2 352.7,92.8 354.2,94.3 C355.8,95.8 357.6,97.4 358.8,98.9 C360.1,100.5 360.9,102.0 361.9,103.5 C362.9,105.1 364.0,107.0 365.0,108.2 C366.0,109.3 367.6,110.1 368.1,110.5 M357.3,97.4 C358.3,96.9 361.4,95.6 363.5,94.3 C365.5,93.0 367.6,91.0 369.6,89.7 C371.7,88.4 374.0,87.6 375.8,86.6 C377.6,85.6 379.6,84.1 380.4,83.5 M345.0,126.6 C345.5,125.8 346.8,123.5 348.1,122.0 C349.4,120.5 351.2,118.7 352.7,117.4 C354.2,116.1 355.5,115.2 357.3,114.3 C359.1,113.4 361.2,112.5 363.5,112.0 C365.8,111.5 368.6,111.5 371.2,111.2 C373.7,111.0 376.3,110.5 378.8,110.5 C381.4,110.5 384.0,111.4 386.5,111.2 C389.1,111.1 391.9,110.2 394.2,109.7 C396.5,109.2 398.3,108.3 400.4,108.2 C402.4,108.0 404.2,108.7 406.5,108.9 C408.8,109.2 411.7,109.3 414.2,109.7 C416.8,110.1 419.8,110.7 421.9,111.2 C424.1,111.7 426.2,112.5 427.0,112.8 M346.5,128.2 C347.3,128.4 349.6,129.2 351.2,129.7 C352.7,130.2 354.0,130.7 355.8,131.2 C357.6,131.7 360.1,132.5 361.9,132.8 C363.7,133.0 365.8,132.8 366.5,132.8 M381.9,128.2 C382.9,128.9 386.3,131.2 388.1,132.8 C389.9,134.3 391.4,136.1 392.7,137.4 C394.0,138.7 394.7,139.4 395.8,140.5 C396.8,141.5 398.6,142.0 398.8,143.5 C399.1,145.1 397.8,147.6 397.3,149.7 C396.8,151.7 396.0,154.8 395.8,155.8 M405.0,111.2 C405.5,112.3 407.1,115.6 408.1,117.4 C409.1,119.2 410.6,121.2 411.2,122.0 M398.8,135.8 C399.6,136.6 401.7,139.4 403.5,140.5 C405.3,141.5 407.6,141.6 409.6,142.0 C411.7,142.4 413.7,143.0 415.8,142.8 C417.8,142.5 420.1,141.1 421.9,140.5 C423.8,139.8 426.2,139.2 427.0,138.9 M363.5,134.3 C363.3,135.3 362.7,138.7 362.7,140.5 C362.7,142.3 363.1,143.5 363.5,145.1 C363.8,146.6 364.7,148.9 365.0,149.7 M406.5,146.6 C407.3,147.4 409.6,149.7 411.2,151.2 C412.7,152.8 414.2,154.3 415.8,155.8 C417.3,157.4 418.8,159.1 420.4,160.5 C421.9,161.8 424.2,163.4 425.0,164.0 M411.2,82.0 C411.4,82.8 412.7,85.1 412.7,86.6 C412.7,88.2 411.4,90.5 411.2,91.2 M415.8,92.8 C416.8,92.8 420.1,93.0 421.9,92.8 C423.8,92.5 426.2,91.5 427.0,91.2 M417.3,118.9 C417.8,119.9 419.6,123.0 420.4,125.1 C421.2,127.1 421.4,128.9 421.9,131.2 C422.4,133.5 423.2,137.6 423.5,138.9 M403.5,91.2 C404.5,91.7 407.6,94.1 409.6,94.3 C411.7,94.6 414.7,93.0 415.8,92.8 M427.0,91.2 C428.0,91.4 431.4,91.7 433.2,92.0 C434.9,92.3 436.2,92.9 437.8,92.8 C439.3,92.6 440.8,92.0 442.4,91.2 C443.9,90.5 445.2,88.9 447.0,88.2 C448.8,87.4 451.1,86.6 453.2,86.6 C455.2,86.6 457.3,87.6 459.3,88.2 C461.4,88.7 463.4,89.7 465.5,89.7 C467.5,89.7 469.6,88.4 471.6,88.2 C473.7,87.9 475.7,88.4 477.8,88.2 C479.8,87.9 481.9,87.1 483.9,86.6 C486.0,86.1 488.0,85.6 490.1,85.1 C492.1,84.6 494.2,84.1 496.2,83.5 C498.3,83.0 501.4,82.3 502.4,82.0 M437.8,92.8 C438.5,93.8 440.8,97.1 442.4,98.9 C443.9,100.7 445.5,102.0 447.0,103.5 C448.5,105.1 450.1,106.9 451.6,108.2 C453.2,109.4 454.9,110.2 456.2,111.2 C457.5,112.3 458.0,113.3 459.3,114.3 C460.6,115.3 462.4,116.4 463.9,117.4 C465.5,118.4 467.0,119.4 468.5,120.5 C470.1,121.5 471.6,122.5 473.2,123.5 C474.7,124.6 476.2,125.6 477.8,126.6 C479.3,127.6 480.6,128.7 482.4,129.7 C484.2,130.7 486.5,131.7 488.5,132.8 C490.6,133.8 492.9,135.1 494.7,135.8 C496.5,136.6 498.5,137.1 499.3,137.4 M482.4,128.2 C483.4,128.2 486.5,128.2 488.5,128.2 C490.6,128.2 492.6,127.9 494.7,128.2 C496.7,128.4 499.1,129.7 500.8,129.7 C502.6,129.7 504.2,128.9 505.5,128.2 C506.7,127.4 508.0,125.6 508.5,125.1 M457.8,142.0 C457.5,142.8 456.6,144.8 456.2,146.6 C455.8,148.4 455.7,151.0 455.5,152.8 C455.2,154.6 454.8,156.6 454.7,157.4 M462.4,146.6 C462.5,147.9 462.9,151.7 463.2,154.3 C463.4,156.9 463.8,160.7 463.9,162.0 M497.8,140.5 C498.0,141.5 499.3,144.6 499.3,146.6 C499.3,148.7 498.3,150.7 497.8,152.8 C497.3,154.8 496.5,157.9 496.2,158.9 M468.5,82.0 C469.3,82.8 472.1,85.1 473.2,86.6 C474.2,88.2 474.2,89.7 474.7,91.2 C475.2,92.8 475.5,94.3 476.2,95.8 C477.0,97.4 478.8,99.7 479.3,100.5 M503.9,117.4 C504.4,117.9 506.2,119.7 507.0,120.5 C507.8,121.2 508.3,121.7 508.5,122.0" stroke="#38b938" stroke-width="1.35"/>
<path d="M374.2,64.6 C375.3,63.8 378.3,61.3 380.4,60.0 C382.4,58.7 385.0,58.2 386.5,56.9 C388.1,55.6 389.1,53.1 389.6,52.3 M418.8,50.8 C419.6,51.3 422.1,53.1 423.5,53.8 C424.8,54.6 426.4,55.1 427.0,55.4 M436.2,41.5 C436.0,42.3 435.2,44.4 434.7,46.2 C434.2,47.9 433.9,50.3 433.2,52.3 C432.4,54.4 430.8,56.4 430.1,58.5 C429.3,60.5 428.5,62.6 428.5,64.6 C428.5,66.7 429.6,69.0 430.1,70.8 C430.6,72.6 431.4,74.6 431.6,75.4 M368.1,123.5 C368.3,124.6 369.1,127.9 369.6,129.7 C370.1,131.5 370.5,133.2 371.2,134.3 C371.8,135.5 373.1,136.2 373.5,136.6 M388.1,115.8 C387.8,116.9 387.3,120.2 386.5,122.0 C385.8,123.8 384.5,125.1 383.5,126.6 C382.4,128.2 381.2,129.7 380.4,131.2 C379.6,132.8 379.4,134.3 378.8,135.8 C378.3,137.4 377.7,139.2 377.3,140.5 C376.9,141.7 376.7,143.0 376.5,143.5 M397.3,125.1 C398.1,124.6 400.4,122.8 401.9,122.0 C403.5,121.2 405.0,121.0 406.5,120.5 C408.1,119.9 409.4,119.3 411.2,118.9 C412.9,118.5 415.3,118.2 417.3,118.2 C419.4,118.2 422.4,118.8 423.5,118.9 M345.0,148.2 C346.0,148.2 349.1,148.0 351.2,148.2 C353.2,148.3 355.8,148.9 357.3,148.9 C358.8,148.9 359.1,148.0 360.4,148.2 C361.7,148.3 363.5,148.9 365.0,149.7 C366.5,150.5 367.8,151.7 369.6,152.8 C371.4,153.8 373.7,154.8 375.8,155.8 C377.8,156.9 379.9,158.2 381.9,158.9 C384.0,159.7 385.8,159.9 388.1,160.5 C390.4,161.0 394.5,161.7 395.8,162.0 M417.3,97.4 C417.8,98.2 419.1,100.5 420.4,102.0 C421.7,103.5 424.2,105.8 425.0,106.6 M427.0,89.7 C428.0,89.4 431.1,88.9 433.2,88.2 C435.2,87.4 437.5,86.1 439.3,85.1 C441.1,84.1 443.2,82.5 443.9,82.0 M427.0,102.0 C427.5,102.5 429.1,103.8 430.1,105.1 C431.1,106.4 432.1,107.9 433.2,109.7 C434.2,111.5 435.2,113.8 436.2,115.8 C437.3,117.9 438.3,119.9 439.3,122.0 C440.3,124.1 441.9,127.1 442.4,128.2 M456.2,102.0 C457.0,101.5 459.6,98.9 460.8,98.9 C462.1,98.9 463.2,100.7 463.9,102.0 C464.7,103.3 466.0,105.3 465.5,106.6 C464.9,107.9 462.4,108.9 460.8,109.7 C459.3,110.5 457.0,111.0 456.2,111.2 M485.5,105.1 C485.3,106.4 484.7,110.2 484.7,112.8 C484.7,115.3 485.1,117.9 485.5,120.5 C485.8,123.0 486.6,125.6 487.0,128.2 C487.4,130.7 487.6,134.6 487.8,135.8 M427.0,132.8 C427.8,132.0 430.1,129.4 431.6,128.2 C433.2,126.9 434.4,125.8 436.2,125.1 C438.0,124.3 440.3,124.1 442.4,123.5 C444.4,123.0 446.5,122.1 448.5,122.0 C450.6,121.9 452.6,122.5 454.7,122.8 C456.7,123.0 458.8,123.2 460.8,123.5 C462.9,123.9 466.0,124.8 467.0,125.1 M470.1,140.5 C470.6,141.2 471.9,143.5 473.2,145.1 C474.4,146.6 476.2,148.2 477.8,149.7 C479.3,151.2 481.1,153.0 482.4,154.3 C483.7,155.6 484.4,156.4 485.5,157.4 C486.5,158.4 488.0,159.9 488.5,160.5" stroke="#2a922a" stroke-width="1.35"/>
<rect x="387.5" y="90.5" width="13.5" height="18" rx="3" fill="#3f9c35" filter="url(#soft)"/><path d="M389,94 Q394,98 391,104 M395,92 Q399,99 396,107 M390,106 L399,103" stroke="#72d062" stroke-width="1.6" fill="none"/>
</g>
<rect x="518" y="0" width="164" height="164" fill="#0a150a"/>
<clipPath id="clipi3"><rect x="518" y="0" width="164" height="164"/></clipPath>
<g clip-path="url(#clipi3)" fill="none" stroke-linecap="round" stroke-linejoin="round">
<path d="M606.0,160.8 C605.9,161.3 605.7,162.8 605.7,163.8 C605.7,164.8 605.9,165.8 605.8,166.8 C605.7,167.8 605.1,168.7 605.1,169.7 C605.0,170.7 605.5,171.6 605.6,172.6 C605.7,173.6 605.9,174.6 605.8,175.6 C605.7,176.6 605.4,177.6 605.0,178.5 C604.6,179.4 603.8,180.1 603.1,180.9 C602.5,181.6 601.6,182.2 600.9,182.9 C600.2,183.6 599.6,184.4 599.0,185.2 C598.4,186.0 598.0,187.0 597.5,187.8 C596.9,188.6 596.1,189.3 595.6,190.2 C595.2,191.0 595.0,192.6 594.9,193.1 M522.6,144.6 C522.2,144.3 521.2,143.2 520.4,142.6 C519.6,142.0 518.6,141.7 517.8,141.0 C517.1,140.4 516.6,139.4 515.9,138.7 C515.2,138.0 514.3,137.5 513.6,136.8 C512.9,136.1 512.0,134.9 511.7,134.5 M640.0,52.3 C640.0,52.8 640.2,54.3 640.2,55.3 C640.2,56.3 640.1,57.3 640.2,58.3 C640.3,59.3 640.6,60.2 640.6,61.2 C640.6,62.2 640.4,63.2 640.3,64.2 C640.2,65.2 640.0,66.2 640.1,67.2 C640.3,68.2 640.8,69.1 641.0,70.1 C641.1,71.1 641.2,72.1 641.1,73.1 C640.9,74.1 640.3,75.5 640.1,75.9 M629.7,89.6 C629.9,89.2 630.4,87.7 630.7,86.8 C631.0,85.8 631.5,84.9 631.6,83.9 C631.7,83.0 631.4,81.9 631.2,81.0 C631.0,80.0 630.8,79.0 630.4,78.1 C630.1,77.1 629.5,76.3 629.0,75.4 C628.5,74.6 627.9,73.7 627.4,72.9 C627.0,72.0 626.5,71.0 626.3,70.1 C626.1,69.1 626.3,68.1 626.2,67.1 C626.0,66.1 625.8,65.0 625.4,64.2 C624.9,63.3 623.9,62.8 623.4,61.9 C623.0,61.0 622.8,60.0 622.7,59.0 C622.5,58.0 622.7,56.5 622.7,56.0 M608.3,18.4 C608.7,18.6 610.2,19.0 611.1,19.5 C611.9,20.0 612.7,20.6 613.4,21.4 C614.1,22.1 614.7,22.9 615.2,23.8 C615.7,24.6 616.1,25.6 616.4,26.5 C616.6,27.5 616.5,28.5 616.8,29.5 C617.0,30.5 617.4,31.4 617.8,32.3 C618.3,33.2 618.9,34.0 619.5,34.8 C620.1,35.6 620.8,36.3 621.3,37.2 C621.8,38.1 622.2,39.0 622.5,40.0 C622.7,40.9 622.9,41.9 622.9,42.9 C622.9,43.9 622.7,44.9 622.6,45.9 C622.5,46.9 622.2,48.4 622.1,48.9 M596.2,31.9 C595.9,31.4 595.1,30.2 594.7,29.2 C594.3,28.3 593.9,27.4 593.8,26.4 C593.7,25.4 593.9,24.3 594.2,23.4 C594.5,22.5 595.4,21.7 595.7,20.8 C596.0,19.9 596.1,18.8 596.2,17.8 C596.3,16.9 596.1,15.8 596.1,14.8 C596.2,13.9 596.2,12.8 596.4,11.9 C596.5,10.9 597.0,9.9 597.1,9.0 C597.3,8.0 597.1,6.9 597.3,6.0 C597.5,5.0 598.4,3.7 598.6,3.3 M593.6,125.5 C594.1,125.4 595.6,125.2 596.6,125.2 C597.6,125.2 598.5,125.5 599.5,125.7 C600.5,125.8 601.6,125.8 602.5,126.2 C603.4,126.6 604.2,127.3 605.0,127.9 C605.8,128.5 606.5,129.2 607.3,129.8 C608.1,130.3 609.5,131.0 609.9,131.3 M576.5,61.5 C576.6,62.0 576.8,63.5 577.1,64.4 C577.3,65.4 577.7,66.3 578.1,67.3 C578.5,68.2 579.0,69.1 579.3,70.0 C579.6,71.0 579.6,72.0 579.9,72.9 C580.2,73.9 580.9,75.2 581.1,75.7 M590.1,53.1 C590.1,53.6 589.9,55.1 589.8,56.1 C589.7,57.0 589.6,58.1 589.8,59.1 C589.9,60.0 590.5,60.9 590.8,61.9 C591.0,62.8 591.0,63.9 591.3,64.8 C591.6,65.8 592.2,66.7 592.4,67.6 C592.5,68.6 592.3,69.6 592.2,70.6 C592.2,71.6 592.2,72.6 592.1,73.6 C592.0,74.6 591.8,75.6 591.6,76.6 C591.4,77.6 591.3,78.6 591.0,79.5 C590.6,80.4 589.8,81.7 589.5,82.2 M632.9,105.1 C633.4,105.3 634.7,106.0 635.6,106.4 C636.6,106.8 637.6,106.9 638.5,107.4 C639.3,107.9 639.9,108.8 640.6,109.5 C641.3,110.2 642.0,111.0 642.5,111.9 C643.0,112.7 643.4,114.2 643.6,114.6 M640.2,157.9 C639.9,157.5 639.1,156.3 638.4,155.6 C637.7,154.8 637.0,154.1 636.1,153.6 C635.3,153.1 634.3,152.8 633.3,152.5 C632.4,152.3 631.3,152.4 630.4,152.1 C629.4,151.8 628.6,151.2 627.7,150.7 C626.9,150.1 626.2,149.3 625.3,148.9 C624.4,148.5 623.4,148.2 622.4,148.2 C621.4,148.2 620.4,148.6 619.5,148.8 C618.5,149.0 617.5,149.3 616.5,149.5 C615.6,149.7 614.6,149.8 613.6,150.1 C612.6,150.3 611.6,150.5 610.7,151.0 C609.9,151.5 608.9,152.7 608.5,153.0 M560.9,143.8 C560.7,143.3 560.1,142.0 559.9,141.0 C559.6,140.0 559.6,139.0 559.2,138.1 C558.9,137.1 558.4,136.3 557.8,135.4 C557.3,134.6 556.4,133.9 556.0,133.0 C555.6,132.2 555.6,131.1 555.2,130.1 C554.9,129.2 554.3,128.3 553.8,127.5 C553.2,126.7 552.6,125.9 551.9,125.2 C551.1,124.5 550.1,124.2 549.4,123.5 C548.7,122.8 548.2,121.9 547.7,121.0 C547.2,120.2 546.8,119.2 546.4,118.3 C546.0,117.4 545.5,116.0 545.3,115.5 M657.6,76.0 C657.9,75.7 659.2,74.8 659.8,74.1 C660.5,73.3 661.0,72.4 661.6,71.6 C662.2,70.8 662.8,70.1 663.4,69.3 C664.0,68.5 664.5,67.5 665.1,66.8 C665.8,66.1 666.6,65.5 667.4,64.9 C668.2,64.3 669.1,63.7 670.0,63.3 C670.9,62.8 671.8,62.6 672.8,62.3 C673.8,62.0 674.8,61.9 675.7,61.5 C676.6,61.2 677.5,60.5 678.4,60.2 C679.3,59.8 680.3,59.5 681.3,59.4 C682.3,59.4 683.8,59.9 684.2,60.0 M622.5,116.6 C622.6,117.1 622.8,118.6 623.0,119.6 C623.1,120.6 623.2,121.6 623.2,122.6 C623.1,123.5 622.9,124.5 622.7,125.5 C622.6,126.5 622.5,127.5 622.4,128.5 C622.3,129.5 622.0,131.0 621.9,131.5 M532.5,7.9 C532.9,8.1 534.2,9.0 535.1,9.4 C536.0,9.7 537.0,9.9 538.0,10.0 C539.0,10.2 540.0,10.2 541.0,10.2 C542.0,10.2 543.0,9.9 544.0,10.0 C545.0,10.0 546.0,10.2 546.9,10.6 C547.8,11.0 549.0,12.0 549.4,12.3 M681.0,120.9 C681.4,121.2 682.8,121.8 683.6,122.4 C684.4,123.0 685.2,123.6 685.9,124.3 C686.5,125.1 686.8,126.1 687.5,126.9 C688.1,127.7 688.9,128.3 689.7,128.9 C690.5,129.5 691.3,130.1 692.3,130.4 C693.2,130.7 694.7,130.8 695.2,130.9 M604.1,60.0 C603.7,60.3 602.4,61.1 601.6,61.7 C600.8,62.3 600.2,63.2 599.3,63.7 C598.5,64.2 597.5,64.4 596.5,64.6 C595.5,64.9 594.6,65.1 593.6,65.2 C592.6,65.4 591.1,65.5 590.6,65.6 M528.3,71.1 C528.0,71.5 527.2,72.8 526.5,73.5 C525.8,74.1 524.8,74.6 524.1,75.2 C523.4,75.9 522.8,76.8 522.1,77.5 C521.4,78.1 520.3,78.5 519.7,79.3 C519.0,80.0 518.6,81.0 518.3,81.9 C517.9,82.8 518.1,83.9 517.8,84.9 C517.5,85.8 517.0,86.8 516.5,87.6 C515.9,88.4 515.0,89.0 514.4,89.8 C513.8,90.5 513.0,91.8 512.8,92.3 M550.5,157.6 C550.3,157.2 549.5,155.9 549.0,155.1 C548.5,154.2 548.1,153.3 547.5,152.4 C547.0,151.6 546.3,150.9 545.7,150.1 C545.1,149.3 544.1,148.1 543.8,147.7 M578.6,94.7 C578.1,94.9 576.7,95.3 575.8,95.7 C574.9,96.1 574.1,96.8 573.1,97.2 C572.2,97.5 571.2,97.7 570.2,97.8 C569.2,97.9 568.2,98.0 567.2,97.7 C566.2,97.5 565.4,96.8 564.5,96.6 C563.5,96.3 562.4,96.5 561.5,96.3 C560.5,96.0 559.2,95.2 558.7,95.0 M635.0,29.9 C635.3,29.5 636.4,28.5 637.0,27.7 C637.5,26.9 637.7,25.7 638.3,25.0 C638.9,24.2 639.8,23.7 640.7,23.2 C641.5,22.7 642.6,22.5 643.5,22.0 C644.3,21.5 645.0,20.7 645.9,20.3 C646.8,19.8 647.9,19.9 648.8,19.5 C649.6,19.0 650.3,18.1 651.1,17.5 C651.9,17.0 653.3,16.3 653.7,16.1 M621.8,142.6 C622.3,142.4 623.7,142.0 624.7,141.8 C625.7,141.5 626.6,141.0 627.6,140.9 C628.5,140.8 629.5,141.1 630.5,141.1 C631.5,141.2 632.6,141.1 633.5,141.2 C634.5,141.3 635.5,141.6 636.5,141.9 C637.4,142.2 638.2,142.8 639.2,143.2 C640.1,143.6 641.1,143.8 642.0,144.3 C642.8,144.8 643.6,145.5 644.3,146.2 C645.0,146.8 645.5,147.8 646.3,148.4 C647.0,149.1 648.4,149.7 648.9,150.0 M614.3,79.7 C614.0,79.3 612.9,78.2 612.2,77.5 C611.5,76.9 610.6,76.3 609.9,75.6 C609.2,74.9 608.7,74.0 608.0,73.3 C607.3,72.6 606.1,71.7 605.7,71.4 M521.4,76.4 C521.1,76.0 520.0,74.9 519.5,74.0 C519.1,73.1 519.0,72.0 518.6,71.1 C518.1,70.3 517.5,69.4 516.8,68.7 C516.1,68.0 515.2,67.5 514.4,67.0 C513.5,66.4 512.6,66.0 511.8,65.5 C511.0,64.9 510.1,64.3 509.4,63.6 C508.7,62.9 508.3,61.9 507.6,61.3 C506.8,60.6 505.8,60.3 505.0,59.8 C504.1,59.3 503.4,58.6 502.5,58.1 C501.6,57.6 500.7,57.2 499.8,56.7 C498.9,56.3 497.6,55.6 497.2,55.3 M534.1,26.4 C534.0,26.0 533.6,24.5 533.3,23.6 C533.0,22.6 532.8,21.6 532.5,20.7 C532.2,19.7 531.8,18.8 531.3,17.9 C530.8,17.1 530.0,16.4 529.4,15.6 C528.7,14.8 528.1,14.0 527.5,13.3 C526.9,12.5 526.4,11.6 525.7,10.9 C525.0,10.2 523.8,9.3 523.4,9.0 M677.0,83.4 C677.2,83.0 678.0,81.7 678.2,80.7 C678.5,79.8 678.2,78.6 678.5,77.7 C678.8,76.8 679.4,75.9 679.9,75.1 C680.4,74.2 681.2,73.5 681.6,72.6 C682.0,71.7 682.1,70.7 682.4,69.7 C682.8,68.8 683.4,67.9 683.5,66.9 C683.7,65.9 683.5,64.9 683.5,63.9 C683.4,62.9 683.4,61.9 683.2,60.9 C682.9,60.0 682.5,59.0 681.8,58.2 C681.2,57.5 679.9,56.6 679.6,56.3 M591.8,137.6 C592.0,137.1 592.4,135.7 592.8,134.7 C593.1,133.8 593.5,132.9 594.0,132.0 C594.4,131.1 594.8,130.1 595.4,129.4 C596.0,128.6 597.1,128.3 597.8,127.5 C598.5,126.8 598.9,125.9 599.4,125.0 C600.0,124.2 600.5,123.4 601.1,122.6 C601.7,121.7 602.5,121.0 602.9,120.2 C603.3,119.3 603.2,118.1 603.5,117.2 C603.9,116.3 604.5,115.5 605.1,114.6 C605.7,113.8 606.4,113.2 607.0,112.4 C607.6,111.6 608.0,110.6 608.6,109.8 C609.2,109.1 610.5,108.1 610.8,107.8 M596.2,119.1 C595.7,119.0 594.3,118.3 593.3,118.2 C592.4,118.1 591.3,118.4 590.3,118.4 C589.3,118.3 588.4,117.9 587.4,117.8 C586.4,117.8 585.4,118.0 584.4,118.0 C583.4,118.0 582.3,118.2 581.4,118.0 C580.4,117.8 579.5,117.3 578.6,116.8 C577.7,116.4 577.0,115.5 576.1,115.2 C575.2,114.8 574.1,114.9 573.2,114.5 C572.3,114.2 571.3,113.7 570.6,113.1 C569.9,112.4 569.4,111.4 568.8,110.7 C568.2,109.9 567.6,109.0 566.9,108.3 C566.2,107.6 565.0,106.7 564.6,106.4 M594.0,87.2 C594.5,87.4 595.8,88.1 596.8,88.4 C597.7,88.8 598.7,88.9 599.6,89.4 C600.5,89.8 601.2,90.7 602.0,91.1 C602.9,91.6 604.0,91.6 604.9,92.1 C605.8,92.5 606.6,93.2 607.2,93.9 C607.9,94.7 608.3,95.6 608.9,96.4 C609.4,97.3 609.9,98.2 610.6,98.9 C611.3,99.6 612.2,100.1 613.0,100.7 C613.8,101.2 614.6,101.9 615.5,102.3 C616.4,102.7 617.5,102.7 618.5,103.0 C619.4,103.2 620.9,103.6 621.4,103.7 M541.3,85.3 C540.9,85.5 539.6,86.3 538.7,86.7 C537.8,87.2 537.0,87.8 536.0,88.1 C535.1,88.3 534.0,88.3 533.0,88.4 C532.1,88.6 531.1,88.8 530.1,88.9 C529.1,89.1 528.1,89.2 527.1,89.2 C526.1,89.2 525.1,88.9 524.1,88.9 C523.1,89.0 521.7,89.4 521.2,89.5 M606.1,29.6 C605.6,29.4 604.1,29.1 603.3,28.6 C602.5,28.1 601.9,27.1 601.1,26.5 C600.3,25.9 599.3,25.5 598.6,24.9 C597.9,24.2 597.4,23.3 596.7,22.5 C596.0,21.8 595.4,21.0 594.6,20.4 C593.8,19.8 592.9,19.4 592.0,18.8 C591.2,18.3 590.5,17.6 589.6,17.0 C588.8,16.5 587.4,15.9 587.0,15.7 M673.1,147.8 C673.6,148.1 674.8,149.0 675.7,149.4 C676.6,149.8 677.7,149.8 678.6,150.1 C679.6,150.3 680.5,150.8 681.4,151.1 C682.4,151.5 683.2,152.1 684.2,152.4 C685.1,152.6 686.2,152.5 687.1,152.7 C688.1,152.9 689.0,153.5 690.0,153.6 C691.0,153.7 692.0,153.4 693.0,153.2 C694.0,152.9 694.9,152.6 695.9,152.3 C696.8,152.0 697.8,151.6 698.8,151.5 C699.7,151.4 700.8,151.5 701.8,151.5 C702.8,151.4 703.8,151.4 704.7,151.2 C705.7,151.0 706.7,150.7 707.6,150.4 C708.6,150.1 710.0,149.6 710.5,149.5 M606.5,65.6 C606.9,65.8 608.3,66.4 609.3,66.6 C610.3,66.8 611.3,66.9 612.3,66.8 C613.3,66.7 614.2,66.2 615.2,66.2 C616.2,66.2 617.2,66.9 618.1,66.9 C619.1,66.9 620.1,66.5 621.1,66.4 C622.1,66.3 623.1,66.3 624.1,66.3 C625.1,66.3 626.1,66.4 627.1,66.3 C628.1,66.2 629.0,65.8 630.0,65.7 C631.0,65.6 632.0,65.9 633.0,65.8 C634.0,65.7 635.0,65.4 635.9,65.0 C636.8,64.6 638.0,63.6 638.4,63.3 M522.4,108.4 C522.9,108.7 524.2,109.5 525.1,109.8 C526.0,110.1 527.2,109.8 528.1,110.1 C529.0,110.4 529.7,111.3 530.7,111.7 C531.6,112.0 532.6,112.2 533.6,112.3 C534.6,112.4 535.6,112.3 536.6,112.4 C537.6,112.6 538.5,113.2 539.4,113.4 C540.4,113.6 541.5,113.5 542.4,113.7 C543.4,114.0 544.3,114.4 545.2,114.8 C546.1,115.2 547.4,116.1 547.8,116.3 M642.4,61.6 C642.3,62.1 641.6,63.5 641.6,64.5 C641.5,65.5 641.7,66.5 642.1,67.5 C642.4,68.4 643.0,69.2 643.6,70.0 C644.2,70.8 644.8,71.7 645.6,72.3 C646.4,72.9 647.5,73.0 648.3,73.5 C649.2,74.1 650.1,74.6 650.7,75.4 C651.3,76.1 651.6,77.1 652.1,78.0 C652.5,78.9 653.2,80.3 653.4,80.7 M572.5,69.8 C572.9,69.5 574.0,68.5 574.7,67.8 C575.5,67.2 576.3,66.5 577.2,66.1 C578.1,65.7 579.1,65.6 580.1,65.4 C581.1,65.3 582.1,65.3 583.1,65.1 C584.1,64.8 584.9,64.1 585.9,63.9 C586.8,63.7 587.9,64.1 588.9,63.8 C589.8,63.6 590.8,63.1 591.6,62.5 C592.4,62.0 593.1,61.2 593.7,60.4 C594.4,59.6 594.8,58.7 595.2,57.8 C595.7,56.9 596.3,55.5 596.5,55.1 M612.4,135.5 C612.2,136.0 611.6,137.4 611.0,138.2 C610.5,139.0 609.7,139.7 608.9,140.3 C608.1,140.8 607.1,141.2 606.2,141.6 C605.3,142.1 604.4,142.4 603.5,142.9 C602.6,143.3 601.6,143.6 600.8,144.2 C600.0,144.8 599.3,145.6 598.6,146.3 C598.0,147.0 597.2,147.8 596.7,148.6 C596.2,149.4 595.8,150.4 595.4,151.3 C595.0,152.2 594.6,153.2 594.5,154.2 C594.3,155.1 594.8,156.2 594.7,157.1 C594.5,158.1 593.9,159.0 593.6,160.0 C593.3,160.9 592.9,162.4 592.8,162.8 M533.1,20.7 C532.7,20.8 531.2,21.0 530.2,21.3 C529.2,21.5 528.3,22.0 527.4,22.3 C526.4,22.6 525.4,22.7 524.4,23.0 C523.5,23.2 522.1,23.8 521.6,24.0 M581.7,144.6 C581.2,144.7 579.7,145.0 578.7,145.0 C577.7,145.0 576.7,144.8 575.7,144.6 C574.8,144.4 573.8,144.0 572.9,143.7 C571.9,143.3 571.0,142.9 570.1,142.6 C569.1,142.3 568.1,142.2 567.2,141.9 C566.2,141.6 565.3,141.0 564.4,140.8 C563.4,140.7 562.4,140.8 561.4,141.0 C560.4,141.1 559.5,141.6 558.5,141.8 C557.5,141.9 556.5,141.9 555.5,141.7 C554.5,141.6 553.6,140.9 552.6,140.8 C551.7,140.7 550.6,141.2 549.6,141.2 C548.7,141.2 547.2,140.8 546.7,140.8 M591.8,34.8 C592.1,34.4 593.1,33.3 594.0,32.8 C594.8,32.2 595.9,32.2 596.8,31.7 C597.6,31.2 598.2,30.2 599.0,29.6 C599.7,29.0 600.6,28.5 601.5,28.0 C602.4,27.6 603.3,27.2 604.3,26.9 C605.2,26.7 606.3,26.7 607.2,26.5 C608.2,26.3 609.2,26.2 610.2,26.0 C611.2,25.7 612.1,25.4 613.0,24.9 C613.9,24.5 615.1,23.5 615.5,23.2 M642.6,82.1 C643.1,82.3 644.5,82.7 645.4,83.2 C646.3,83.7 647.0,84.4 647.8,85.0 C648.6,85.6 649.5,86.1 650.2,86.7 C651.0,87.3 651.7,88.1 652.4,88.8 C653.1,89.5 653.8,90.3 654.3,91.1 C654.8,92.0 655.1,93.0 655.6,93.8 C656.1,94.7 656.7,95.5 657.4,96.2 C658.0,97.0 659.0,97.4 659.7,98.1 C660.4,98.9 660.7,99.9 661.4,100.6 C662.0,101.4 663.2,102.4 663.5,102.7 M521.3,111.6 C521.6,111.2 522.6,110.1 523.1,109.2 C523.5,108.3 523.4,107.2 523.9,106.3 C524.3,105.4 525.2,104.8 525.7,103.9 C526.3,103.1 526.8,102.2 527.1,101.3 C527.4,100.3 527.5,99.3 527.5,98.3 C527.6,97.3 527.6,96.3 527.4,95.3 C527.2,94.3 526.8,93.3 526.2,92.6 C525.6,91.8 524.7,91.1 523.9,90.6 C523.1,90.1 522.0,89.9 521.1,89.5 C520.2,89.1 519.4,88.4 518.4,88.2 C517.5,87.9 516.4,88.2 515.4,88.0 C514.4,87.9 513.0,87.3 512.5,87.2 M518.4,36.0 C518.8,36.3 520.0,37.1 520.9,37.7 C521.7,38.3 522.4,39.0 523.3,39.4 C524.2,39.8 525.3,40.0 526.3,40.0 C527.2,40.1 528.3,40.0 529.2,39.7 C530.2,39.3 531.3,38.3 531.8,38.0 M654.6,26.1 C654.3,26.5 653.3,27.6 652.7,28.4 C652.1,29.2 651.7,30.2 651.1,30.9 C650.4,31.7 649.6,32.3 648.8,32.9 C648.0,33.5 647.0,33.9 646.3,34.5 C645.6,35.2 645.1,36.1 644.4,36.9 C643.8,37.7 643.3,38.6 642.6,39.2 C641.8,39.9 640.9,40.4 640.1,40.9 C639.2,41.5 638.3,41.9 637.5,42.5 C636.7,43.1 636.0,43.8 635.4,44.6 C634.7,45.3 634.4,46.4 633.8,47.1 C633.1,47.9 631.8,48.6 631.4,49.0 M582.3,32.2 C582.1,32.6 581.5,34.0 580.9,34.8 C580.4,35.7 579.8,36.5 579.2,37.3 C578.6,38.1 577.8,38.7 577.2,39.5 C576.6,40.3 576.0,41.2 575.5,42.0 C575.1,42.9 574.9,44.0 574.5,44.9 C574.1,45.8 573.5,46.6 573.1,47.5 C572.7,48.4 572.3,49.3 572.0,50.3 C571.7,51.2 571.7,52.3 571.4,53.2 C571.1,54.2 570.4,55.5 570.2,56.0 M668.7,138.9 C669.0,139.3 670.0,140.5 670.8,141.1 C671.6,141.6 672.7,141.7 673.6,142.3 C674.4,142.8 675.1,143.5 675.9,144.1 C676.6,144.8 677.4,145.5 678.1,146.1 C678.9,146.8 679.6,147.6 680.4,148.1 C681.3,148.6 682.3,148.7 683.3,149.0 C684.2,149.4 685.1,149.8 686.1,150.1 C687.0,150.5 688.0,150.7 688.9,151.1 C689.7,151.6 690.6,152.2 691.3,152.9 C691.9,153.7 692.2,154.8 692.9,155.5 C693.5,156.2 694.8,157.1 695.2,157.4 M667.0,64.9 C667.5,65.1 668.9,65.5 669.8,66.0 C670.6,66.5 671.3,67.3 672.2,67.8 C673.0,68.3 674.1,68.4 675.0,68.8 C675.9,69.2 676.8,69.7 677.6,70.4 C678.3,71.0 678.9,71.9 679.3,72.8 C679.7,73.7 679.7,74.8 680.0,75.7 C680.3,76.7 680.8,77.6 681.0,78.5 C681.2,79.5 680.9,80.6 681.2,81.5 C681.4,82.5 682.1,83.3 682.3,84.3 C682.5,85.3 682.4,86.3 682.4,87.3 C682.4,88.3 682.3,89.8 682.3,90.3 M626.4,125.1 C626.6,125.6 627.2,127.0 627.4,128.0 C627.6,128.9 627.5,130.0 627.8,130.9 C628.2,131.9 628.8,132.8 629.4,133.5 C630.1,134.2 631.2,134.5 632.0,135.1 C632.8,135.7 633.5,136.4 634.2,137.1 C635.0,137.7 636.1,138.7 636.5,139.0 M680.9,22.4 C680.4,22.2 678.9,21.7 678.2,21.1 C677.4,20.4 676.7,19.6 676.3,18.7 C675.8,17.9 675.9,16.7 675.5,15.8 C675.1,15.0 674.2,14.3 673.8,13.4 C673.3,12.5 672.8,11.1 672.6,10.6 M608.1,16.5 C607.6,16.6 606.1,16.9 605.2,17.1 C604.2,17.3 603.1,17.4 602.2,17.8 C601.3,18.2 600.6,18.8 599.8,19.5 C599.0,20.1 598.2,20.7 597.5,21.4 C596.8,22.1 596.2,22.9 595.6,23.7 C595.0,24.5 594.6,25.5 594.0,26.2 C593.3,27.0 592.3,27.4 591.5,27.9 C590.6,28.5 589.8,29.0 588.9,29.4 C587.9,29.8 586.9,29.9 586.1,30.5 C585.3,31.0 584.4,32.3 584.0,32.7" stroke="#2b8f2b" stroke-width="1.2" opacity="0.75"/>
<path d="M518.0,16.9 C518.8,16.9 521.1,16.4 522.6,16.9 C524.2,17.4 525.9,18.7 527.2,20.0 C528.5,21.3 529.3,23.3 530.3,24.6 C531.3,25.9 532.1,26.9 533.4,27.7 C534.7,28.5 536.5,28.7 538.0,29.2 C539.5,29.7 541.8,30.5 542.6,30.8 M530.3,0.0 C530.6,1.0 531.3,4.1 531.8,6.2 C532.4,8.2 532.9,10.8 533.4,12.3 C533.9,13.8 534.7,14.9 534.9,15.4 M544.2,0.0 C544.4,0.8 544.7,3.3 545.7,4.6 C546.7,5.9 548.8,6.9 550.3,7.7 C551.8,8.5 553.6,8.2 554.9,9.2 C556.2,10.3 557.0,12.6 558.0,13.8 C559.0,15.1 560.1,15.9 561.1,16.9 C562.1,17.9 563.1,18.7 564.2,20.0 C565.2,21.3 566.2,23.3 567.2,24.6 C568.3,25.9 569.5,26.7 570.3,27.7 C571.1,28.7 571.6,30.3 571.8,30.8 M564.2,0.0 C564.7,1.0 566.5,4.1 567.2,6.2 C568.0,8.2 568.4,10.3 568.8,12.3 C569.2,14.4 569.2,16.7 569.5,18.5 C569.9,20.3 570.7,21.0 571.1,23.1 C571.5,25.1 571.2,29.0 571.8,30.8 C572.5,32.6 573.6,33.1 574.9,33.8 C576.2,34.6 578.0,34.9 579.5,35.4 C581.1,35.9 583.4,36.7 584.2,36.9 M579.5,3.1 C579.8,3.8 581.1,6.2 581.1,7.7 C581.1,9.2 580.1,11.0 579.5,12.3 C579.0,13.6 577.5,14.6 578.0,15.4 C578.5,16.2 580.8,17.4 582.6,16.9 C584.4,16.4 586.7,13.3 588.8,12.3 C590.8,11.3 593.1,10.9 594.9,10.8 C596.8,10.6 599.2,11.4 600.0,11.5 M581.1,7.7 C581.8,7.9 584.2,8.7 585.7,9.2 C587.2,9.7 589.5,10.5 590.3,10.8 M590.3,26.2 C590.8,25.8 592.4,24.0 593.4,23.8 C594.4,23.7 596.2,24.5 596.5,25.4 C596.7,26.3 595.7,28.1 594.9,29.2 C594.2,30.4 593.1,31.5 591.8,32.3 C590.6,33.1 588.8,33.3 587.2,33.8 C585.7,34.4 583.4,35.1 582.6,35.4 M548.8,18.5 C549.3,19.2 550.6,21.8 551.8,23.1 C553.1,24.4 554.9,25.1 556.5,26.2 C558.0,27.2 559.5,28.5 561.1,29.2 C562.6,30.0 564.2,30.3 565.7,30.8 C567.2,31.3 569.5,32.1 570.3,32.3 M522.6,26.2 C522.9,27.2 523.6,30.3 524.2,32.3 C524.7,34.4 525.2,36.4 525.7,38.5 C526.2,40.5 526.5,42.8 527.2,44.6 C528.0,46.4 529.3,47.4 530.3,49.2 C531.3,51.0 532.4,53.6 533.4,55.4 C534.4,57.2 535.4,58.7 536.5,60.0 C537.5,61.3 538.3,62.1 539.5,63.1 C540.8,64.1 542.6,65.4 544.2,66.2 C545.7,66.9 547.2,67.4 548.8,67.7 C550.3,67.9 551.8,67.9 553.4,67.7 C554.9,67.4 557.2,66.4 558.0,66.2 M528.8,38.5 C529.5,38.7 531.8,40.0 533.4,40.0 C534.9,40.0 536.5,39.2 538.0,38.5 C539.5,37.7 541.3,36.7 542.6,35.4 C543.9,34.1 544.9,32.6 545.7,30.8 C546.5,29.0 546.7,26.7 547.2,24.6 C547.7,22.6 548.5,19.5 548.8,18.5 M518.0,52.3 C518.8,51.8 520.8,50.0 522.6,49.2 C524.4,48.5 526.7,48.2 528.8,47.7 C530.8,47.2 532.9,46.7 534.9,46.2 C537.0,45.6 539.0,45.1 541.1,44.6 C543.1,44.1 545.4,43.6 547.2,43.1 C549.0,42.6 550.3,41.9 551.8,41.5 C553.4,41.2 554.9,40.5 556.5,40.8 C558.0,41.0 559.8,42.2 561.1,43.1 C562.4,44.0 563.1,44.9 564.2,46.2 C565.2,47.4 566.5,49.0 567.2,50.8 C568.0,52.6 568.6,55.1 568.8,56.9 C568.9,58.7 568.1,60.8 568.0,61.5 M553.4,41.5 C553.1,42.3 552.2,44.4 551.8,46.2 C551.5,47.9 551.3,50.3 551.1,52.3 C550.8,54.4 550.3,56.4 550.3,58.5 C550.3,60.5 550.9,63.6 551.1,64.6 M554.9,46.2 C555.7,46.7 558.0,48.5 559.5,49.2 C561.1,50.0 562.9,50.0 564.2,50.8 C565.4,51.5 566.7,53.3 567.2,53.8 M556.5,46.2 C557.5,45.6 560.6,43.8 562.6,43.1 C564.7,42.3 567.0,42.3 568.8,41.5 C570.6,40.8 571.8,39.5 573.4,38.5 C574.9,37.4 577.2,35.9 578.0,35.4 M576.5,38.5 C577.0,39.2 578.5,41.5 579.5,43.1 C580.6,44.6 581.6,46.4 582.6,47.7 C583.6,49.0 584.4,49.7 585.7,50.8 C587.0,51.8 588.8,53.1 590.3,53.8 C591.8,54.6 593.4,54.9 594.9,55.4 C596.5,55.9 598.8,56.7 599.5,56.9 M585.7,50.8 C585.2,51.3 583.9,52.8 582.6,53.8 C581.3,54.9 579.5,55.9 578.0,56.9 C576.5,57.9 574.9,59.2 573.4,60.0 C571.8,60.8 569.5,61.3 568.8,61.5 M582.6,35.4 C582.9,36.4 583.4,39.7 584.2,41.5 C584.9,43.3 585.9,44.9 587.2,46.2 C588.5,47.4 590.3,49.0 591.8,49.2 C593.4,49.5 595.1,48.2 596.5,47.7 C597.8,47.2 599.4,46.4 600.0,46.2 M531.8,67.7 C532.9,67.7 535.9,67.4 538.0,67.7 C540.1,67.9 542.1,69.0 544.2,69.2 C546.2,69.5 548.3,69.0 550.3,69.2 C552.4,69.5 554.4,70.3 556.5,70.8 C558.5,71.3 560.8,71.5 562.6,72.3 C564.4,73.1 565.9,74.1 567.2,75.4 C568.5,76.7 569.8,79.2 570.3,80.0 M518.0,61.5 C518.8,62.3 521.1,64.9 522.6,66.2 C524.2,67.4 525.9,67.9 527.2,69.2 C528.5,70.5 529.5,72.3 530.3,73.8 C531.1,75.4 531.6,77.7 531.8,78.5 M536.5,69.2 C536.2,70.3 535.4,73.3 534.9,75.4 C534.4,77.5 533.6,80.9 533.4,82.0 M541.1,49.2 C541.8,49.7 544.4,51.5 545.7,52.3 C547.0,53.1 548.3,53.6 548.8,53.8 M518.0,75.4 C518.8,75.6 521.1,76.4 522.6,76.9 C524.2,77.4 526.5,78.2 527.2,78.5 M558.0,66.2 C559.0,65.9 562.1,65.1 564.2,64.6 C566.2,64.1 569.3,63.3 570.3,63.1 M606.2,0.0 C606.4,1.0 607.2,4.1 607.7,6.2 C608.2,8.2 608.5,10.5 609.2,12.3 C610.0,14.1 611.3,15.6 612.3,16.9 C613.3,18.2 614.6,18.7 615.4,20.0 C616.2,21.3 616.9,22.8 616.9,24.6 C616.9,26.4 616.2,28.7 615.4,30.8 C614.6,32.8 613.3,34.9 612.3,36.9 C611.3,39.0 610.3,41.3 609.2,43.1 C608.2,44.9 607.2,46.2 606.2,47.7 C605.1,49.2 604.1,50.8 603.1,52.3 C602.1,53.8 600.5,56.2 600.0,56.9 M600.0,10.8 C600.8,10.5 603.1,9.7 604.6,9.2 C606.2,8.7 607.7,8.5 609.2,7.7 C610.8,6.9 612.3,5.9 613.8,4.6 C615.4,3.3 617.7,0.8 618.5,0.0 M618.5,1.5 C618.2,2.8 617.7,6.9 616.9,9.2 C616.2,11.5 614.6,13.1 613.8,15.4 C613.1,17.7 612.8,20.5 612.3,23.1 C611.8,25.6 611.3,28.5 610.8,30.8 C610.3,33.1 609.7,34.9 609.2,36.9 C608.7,39.0 607.9,42.1 607.7,43.1 M600.0,41.5 C600.8,41.0 603.1,39.2 604.6,38.5 C606.2,37.7 607.7,37.7 609.2,36.9 C610.8,36.2 612.3,34.6 613.8,33.8 C615.4,33.1 616.9,32.8 618.5,32.3 C620.0,31.8 622.3,31.0 623.1,30.8 M632.3,0.0 C632.2,1.5 631.8,6.2 631.5,9.2 C631.3,12.3 630.8,15.6 630.8,18.5 C630.8,21.3 631.3,23.6 631.5,26.2 C631.8,28.7 631.9,31.8 632.3,33.8 C632.7,35.9 633.3,36.9 633.8,38.5 C634.4,40.0 635.1,42.3 635.4,43.1 M632.3,21.5 C633.6,21.5 637.4,21.3 640.0,21.5 C642.6,21.8 645.4,22.6 647.7,23.1 C650.0,23.6 652.1,24.6 653.8,24.6 C655.6,24.6 657.2,23.6 658.5,23.1 C659.7,22.6 661.0,21.8 661.5,21.5 M640.0,24.6 C640.3,25.6 641.0,28.5 641.5,30.8 C642.1,33.1 642.6,36.2 643.1,38.5 C643.6,40.8 644.1,43.1 644.6,44.6 C645.1,46.2 644.9,46.7 646.2,47.7 C647.4,48.7 650.3,50.0 652.3,50.8 C654.4,51.5 656.4,52.3 658.5,52.3 C660.5,52.3 662.6,51.5 664.6,50.8 C666.7,50.0 669.0,48.5 670.8,47.7 C672.6,46.9 673.8,46.7 675.4,46.2 C676.9,45.6 679.2,44.9 680.0,44.6 M650.8,0.0 C651.0,1.0 651.8,3.8 652.3,6.2 C652.8,8.5 653.6,11.5 653.8,13.8 C654.1,16.2 654.4,17.9 653.8,20.0 C653.3,22.1 652.1,24.4 650.8,26.2 C649.5,27.9 647.4,29.2 646.2,30.8 C644.9,32.3 644.1,33.8 643.1,35.4 C642.1,36.9 640.5,39.2 640.0,40.0 M658.5,0.0 C659.0,0.8 660.3,3.1 661.5,4.6 C662.8,6.2 664.4,7.7 666.2,9.2 C667.9,10.8 670.5,12.3 672.3,13.8 C674.1,15.4 675.9,16.7 676.9,18.5 C677.9,20.3 678.5,22.6 678.5,24.6 C678.5,26.7 677.7,28.7 676.9,30.8 C676.2,32.8 674.6,34.9 673.8,36.9 C673.1,39.0 672.8,41.5 672.3,43.1 C671.8,44.6 671.0,45.6 670.8,46.2 M676.9,9.2 C677.2,10.5 677.9,14.6 678.5,16.9 C679.0,19.2 679.4,21.5 680.0,23.1 C680.6,24.6 681.7,25.6 682.0,26.2 M626.2,30.8 C625.6,32.1 623.8,35.9 623.1,38.5 C622.3,41.0 621.5,43.8 621.5,46.2 C621.5,48.5 622.3,50.5 623.1,52.3 C623.8,54.1 625.1,55.4 626.2,56.9 C627.2,58.5 628.2,60.3 629.2,61.5 C630.3,62.8 631.8,64.1 632.3,64.6 M600.0,56.9 C600.8,57.2 603.1,57.9 604.6,58.5 C606.2,59.0 607.4,59.5 609.2,60.0 C611.0,60.5 613.3,61.0 615.4,61.5 C617.4,62.1 619.5,63.1 621.5,63.1 C623.6,63.1 625.9,62.3 627.7,61.5 C629.5,60.8 630.5,59.2 632.3,58.5 C634.1,57.7 637.4,57.2 638.5,56.9 M636.9,63.1 C637.4,63.6 639.2,64.9 640.0,66.2 C640.8,67.4 641.4,69.0 641.5,70.8 C641.7,72.6 641.0,75.1 640.8,76.9 C640.5,78.8 640.1,81.2 640.0,82.0 M646.2,47.7 C646.4,48.7 646.9,51.8 647.7,53.8 C648.5,55.9 649.7,58.2 650.8,60.0 C651.8,61.8 652.6,63.1 653.8,64.6 C655.1,66.2 657.2,67.7 658.5,69.2 C659.7,70.8 660.8,72.3 661.5,73.8 C662.3,75.4 662.8,77.7 663.1,78.5 M661.5,49.2 C662.1,50.3 663.8,53.3 664.6,55.4 C665.4,57.4 665.6,59.5 666.2,61.5 C666.7,63.6 666.9,65.9 667.7,67.7 C668.5,69.5 669.7,70.8 670.8,72.3 C671.8,73.8 673.3,76.2 673.8,76.9 M658.5,66.2 C659.5,65.9 662.6,65.1 664.6,64.6 C666.7,64.1 668.7,63.6 670.8,63.1 C672.8,62.6 675.1,62.1 676.9,61.5 C678.8,61.0 681.2,60.3 682.0,60.0 M615.4,69.2 C616.4,69.5 619.5,70.3 621.5,70.8 C623.6,71.3 625.6,71.8 627.7,72.3 C629.7,72.8 631.8,73.3 633.8,73.8 C635.9,74.4 639.0,75.1 640.0,75.4 M646.2,78.5 C647.2,78.2 650.3,77.2 652.3,76.9 C654.4,76.7 657.4,76.9 658.5,76.9 M680.0,66.2 L682.0,70.8 M653.8,36.9 C654.6,37.4 656.7,39.2 658.5,40.0 C660.3,40.8 662.6,41.4 664.6,41.5 C666.7,41.7 669.7,40.9 670.8,40.8 M624.6,50.8 C625.6,50.5 628.7,49.7 630.8,49.2 C632.8,48.7 635.9,47.9 636.9,47.7 M518.0,91.2 C518.8,90.7 521.1,89.2 522.6,88.2 C524.2,87.1 525.9,86.1 527.2,85.1 C528.5,84.1 529.8,82.5 530.3,82.0 M527.2,86.6 C528.0,87.4 530.6,89.7 531.8,91.2 C533.1,92.8 533.6,94.6 534.9,95.8 C536.2,97.1 538.0,98.2 539.5,98.9 C541.1,99.7 542.6,100.2 544.2,100.5 C545.7,100.7 547.2,100.7 548.8,100.5 C550.3,100.2 552.4,99.9 553.4,98.9 C554.4,97.9 554.5,95.8 554.9,94.3 C555.3,92.8 555.4,91.2 555.7,89.7 C555.9,88.2 556.3,85.8 556.5,85.1 M533.4,91.2 C534.2,91.2 536.2,91.5 538.0,91.2 C539.8,91.0 542.1,90.2 544.2,89.7 C546.2,89.2 548.5,88.7 550.3,88.2 C552.1,87.6 554.2,86.9 554.9,86.6 M531.8,95.8 C531.6,97.1 530.3,101.0 530.3,103.5 C530.3,106.1 531.1,108.9 531.8,111.2 C532.6,113.5 533.6,115.8 534.9,117.4 C536.2,118.9 537.7,119.7 539.5,120.5 C541.3,121.2 544.7,121.7 545.7,122.0 M518.0,103.5 C518.8,103.5 521.1,103.5 522.6,103.5 C524.2,103.5 525.4,103.3 527.2,103.5 C529.0,103.8 531.3,104.8 533.4,105.1 C535.4,105.3 537.5,105.3 539.5,105.1 C541.6,104.8 543.9,104.1 545.7,103.5 C547.5,103.0 549.5,102.3 550.3,102.0 M545.7,122.0 C546.7,121.7 549.8,121.2 551.8,120.5 C553.9,119.7 556.2,118.7 558.0,117.4 C559.8,116.1 561.1,114.3 562.6,112.8 C564.2,111.2 565.7,109.4 567.2,108.2 C568.8,106.9 570.1,106.1 571.8,105.1 C573.6,104.1 575.9,103.0 578.0,102.0 C580.1,101.0 582.1,99.7 584.2,98.9 C586.2,98.2 588.8,97.9 590.3,97.4 C591.8,96.9 592.9,96.1 593.4,95.8 M593.4,88.2 C593.4,89.2 593.6,92.5 593.4,94.3 C593.1,96.1 592.4,97.6 591.8,98.9 C591.3,100.2 589.8,101.0 590.3,102.0 C590.8,103.0 593.6,104.1 594.9,105.1 C596.2,106.1 597.5,107.6 598.0,108.2 M518.0,126.6 C518.5,126.9 520.1,127.1 521.1,128.2 C522.1,129.2 523.4,130.7 524.2,132.8 C524.9,134.8 525.2,138.2 525.7,140.5 C526.2,142.8 526.7,144.6 527.2,146.6 C527.7,148.7 528.3,150.7 528.8,152.8 C529.3,154.8 529.8,157.1 530.3,158.9 C530.8,160.8 531.6,163.2 531.8,164.0 M525.7,108.2 C525.4,109.4 524.7,113.5 524.2,115.8 C523.6,118.2 523.1,119.9 522.6,122.0 C522.1,124.1 521.3,127.1 521.1,128.2 M551.8,120.5 C552.6,121.0 554.9,122.5 556.5,123.5 C558.0,124.6 559.8,125.6 561.1,126.6 C562.4,127.6 563.4,128.2 564.2,129.7 C564.9,131.2 564.9,134.1 565.7,135.8 C566.5,137.6 567.7,139.2 568.8,140.5 C569.8,141.7 570.6,142.8 571.8,143.5 C573.1,144.3 574.9,144.6 576.5,145.1 C578.0,145.6 579.8,146.4 581.1,146.6 C582.4,146.9 583.6,146.6 584.2,146.6 M541.1,126.6 C540.8,127.6 539.9,130.7 539.5,132.8 C539.2,134.8 538.8,136.9 538.8,138.9 C538.8,141.0 539.2,143.0 539.5,145.1 C539.9,147.1 540.6,149.4 541.1,151.2 C541.6,153.0 541.8,154.3 542.6,155.8 C543.4,157.4 544.7,159.1 545.7,160.5 C546.7,161.8 548.3,163.4 548.8,164.0 M538.0,137.4 C539.3,137.1 543.1,136.2 545.7,135.8 C548.3,135.5 551.1,134.9 553.4,135.1 C555.7,135.2 557.7,136.2 559.5,136.6 C561.3,137.0 563.4,137.3 564.2,137.4 M564.2,137.4 C565.2,137.6 568.3,138.5 570.3,138.9 C572.4,139.3 574.4,139.7 576.5,139.7 C578.5,139.7 580.6,139.2 582.6,138.9 C584.7,138.7 586.7,138.5 588.8,138.2 C590.8,137.8 593.1,137.0 594.9,136.6 C596.8,136.2 599.2,136.0 600.0,135.8 M565.7,126.6 C566.7,126.6 570.1,126.9 571.8,126.6 C573.6,126.4 575.4,126.4 576.5,125.1 C577.5,123.8 577.2,120.5 578.0,118.9 C578.8,117.4 579.5,116.6 581.1,115.8 C582.6,115.1 585.2,114.7 587.2,114.3 C589.3,113.9 592.4,113.7 593.4,113.5 M576.5,125.1 C577.0,126.1 579.2,129.2 579.5,131.2 C579.9,133.3 578.9,136.4 578.8,137.4 M585.7,122.0 C585.9,122.8 586.5,125.3 587.2,126.6 C588.0,127.9 589.3,128.9 590.3,129.7 C591.3,130.5 592.9,131.0 593.4,131.2 M593.4,114.3 C592.9,115.1 591.3,117.6 590.3,118.9 C589.3,120.2 587.7,121.5 587.2,122.0 M558.0,143.5 C558.3,144.3 559.0,146.6 559.5,148.2 C560.1,149.7 560.6,151.5 561.1,152.8 C561.6,154.1 562.4,155.3 562.6,155.8 M531.8,152.8 C532.6,153.3 534.7,154.8 536.5,155.8 C538.3,156.9 540.6,158.2 542.6,158.9 C544.7,159.7 546.7,159.9 548.8,160.5 C550.8,161.0 552.9,161.5 554.9,162.0 C557.0,162.5 560.1,163.3 561.1,163.5 M594.9,128.2 C595.2,129.2 595.9,132.3 596.5,134.3 C597.0,136.4 597.5,138.4 598.0,140.5 C598.5,142.5 599.3,145.6 599.5,146.6 M579.5,148.2 C580.1,149.2 581.6,152.5 582.6,154.3 C583.6,156.1 584.7,157.6 585.7,158.9 C586.7,160.2 588.3,161.5 588.8,162.0 M585.7,154.3 C586.7,154.1 589.8,153.0 591.8,152.8 C593.9,152.5 597.0,152.8 598.0,152.8 M571.8,106.6 C572.1,107.4 572.9,109.9 573.4,111.2 C573.9,112.5 574.7,113.8 574.9,114.3 M518.0,148.2 L521.1,151.2 M600.0,85.1 C601.0,85.6 604.4,86.9 606.2,88.2 C607.9,89.4 609.2,91.2 610.8,92.8 C612.3,94.3 613.8,96.1 615.4,97.4 C616.9,98.7 618.2,100.2 620.0,100.5 C621.8,100.7 624.4,99.7 626.2,98.9 C627.9,98.2 629.5,97.1 630.8,95.8 C632.1,94.6 632.8,92.8 633.8,91.2 C634.9,89.7 636.7,88.2 636.9,86.6 C637.2,85.1 635.6,82.8 635.4,82.0 M615.4,88.2 C616.2,87.6 618.7,86.1 620.0,85.1 C621.3,84.1 622.6,82.5 623.1,82.0 M600.0,105.1 C601.0,105.3 604.1,106.6 606.2,106.6 C608.2,106.6 610.5,105.6 612.3,105.1 C614.1,104.6 615.4,104.2 616.9,103.5 C618.5,102.9 619.7,102.0 621.5,101.2 C623.3,100.5 625.4,99.3 627.7,98.9 C630.0,98.5 632.8,98.8 635.4,98.9 C637.9,99.1 640.8,99.4 643.1,99.7 C645.4,99.9 647.4,99.8 649.2,100.5 C651.0,101.1 652.6,102.3 653.8,103.5 C655.1,104.8 656.0,106.4 656.9,108.2 C657.8,109.9 658.5,112.3 659.2,114.3 C660.0,116.4 660.9,118.4 661.5,120.5 C662.2,122.5 662.7,124.6 663.1,126.6 C663.5,128.7 663.6,131.0 663.8,132.8 C664.1,134.6 664.5,136.6 664.6,137.4 M606.2,106.6 C606.9,107.1 609.2,108.7 610.8,109.7 C612.3,110.7 614.4,111.2 615.4,112.8 C616.4,114.3 616.4,116.9 616.9,118.9 C617.4,121.0 617.7,123.3 618.5,125.1 C619.2,126.9 620.3,128.4 621.5,129.7 C622.8,131.0 624.4,132.0 626.2,132.8 C627.9,133.5 630.3,133.9 632.3,134.3 C634.4,134.7 637.4,134.9 638.5,135.1 M627.7,98.9 C628.2,99.7 629.7,102.0 630.8,103.5 C631.8,105.1 632.8,106.6 633.8,108.2 C634.9,109.7 636.2,111.0 636.9,112.8 C637.7,114.6 637.9,116.9 638.5,118.9 C639.0,121.0 639.6,123.0 640.0,125.1 C640.4,127.1 640.8,129.4 640.8,131.2 C640.8,133.0 640.1,135.1 640.0,135.8 M644.6,82.0 C645.1,83.0 646.7,86.4 647.7,88.2 C648.7,89.9 649.7,91.2 650.8,92.8 C651.8,94.3 653.1,95.8 653.8,97.4 C654.6,98.9 655.1,101.2 655.4,102.0 M646.2,91.2 C647.2,91.0 650.3,90.2 652.3,89.7 C654.4,89.2 656.4,88.7 658.5,88.2 C660.5,87.6 662.6,86.6 664.6,86.6 C666.7,86.6 669.2,87.1 670.8,88.2 C672.3,89.2 673.1,91.0 673.8,92.8 C674.6,94.6 674.9,96.9 675.4,98.9 C675.9,101.0 676.4,103.0 676.9,105.1 C677.4,107.1 678.5,109.2 678.5,111.2 C678.5,113.3 677.9,115.6 676.9,117.4 C675.9,119.2 673.8,121.2 672.3,122.0 C670.8,122.8 668.5,122.0 667.7,122.0 M633.8,108.2 C634.6,107.9 636.9,107.1 638.5,106.6 C640.0,106.1 641.8,105.8 643.1,105.1 C644.4,104.3 645.6,102.5 646.2,102.0 M600.0,115.8 C600.5,116.9 602.3,119.9 603.1,122.0 C603.8,124.1 604.6,126.1 604.6,128.2 C604.6,130.2 603.6,132.3 603.1,134.3 C602.6,136.4 602.1,138.4 601.5,140.5 C601.0,142.5 600.3,145.6 600.0,146.6 M609.2,117.4 C609.7,118.4 611.3,121.7 612.3,123.5 C613.3,125.3 614.1,126.6 615.4,128.2 C616.7,129.7 618.5,131.2 620.0,132.8 C621.5,134.3 623.3,135.6 624.6,137.4 C625.9,139.2 627.2,142.5 627.7,143.5 M653.8,112.8 C654.6,113.5 656.7,115.8 658.5,117.4 C660.3,118.9 662.6,120.5 664.6,122.0 C666.7,123.5 669.0,125.1 670.8,126.6 C672.6,128.2 673.8,130.2 675.4,131.2 C676.9,132.3 679.2,132.5 680.0,132.8 M670.8,111.2 C671.5,111.5 673.8,112.5 675.4,112.8 C676.9,113.0 679.2,112.8 680.0,112.8 M600.0,151.2 C600.8,151.0 603.1,150.2 604.6,149.7 C606.2,149.2 607.4,148.7 609.2,148.2 C611.0,147.6 613.3,147.1 615.4,146.6 C617.4,146.1 619.5,145.1 621.5,145.1 C623.6,145.1 626.7,146.4 627.7,146.6 M603.1,154.3 C603.6,154.6 605.4,155.1 606.2,155.8 C606.9,156.6 607.4,158.4 607.7,158.9 M646.2,128.2 C646.4,129.2 647.2,132.3 647.7,134.3 C648.2,136.4 649.0,139.4 649.2,140.5 M673.8,82.0 C674.4,82.8 675.9,84.6 676.9,86.6 C677.9,88.7 679.2,91.7 680.0,94.3 C680.8,96.9 681.3,100.7 681.5,102.0 M612.3,155.8 C612.6,156.6 613.3,159.1 613.8,160.5 C614.4,161.8 615.1,163.4 615.4,164.0 M646.2,162.0 C647.4,162.0 651.3,162.3 653.8,162.0 C656.4,161.7 659.0,160.5 661.5,160.5 C664.1,160.5 666.7,161.5 669.2,162.0 C671.8,162.5 675.6,163.3 676.9,163.5" stroke="#3cb83c" stroke-width="3.5" opacity="0.2"/>
<path d="M579.5,3.1 C579.8,3.8 581.1,6.2 581.1,7.7 C581.1,9.2 580.1,11.0 579.5,12.3 C579.0,13.6 577.5,14.6 578.0,15.4 C578.5,16.2 580.8,17.4 582.6,16.9 C584.4,16.4 586.7,13.3 588.8,12.3 C590.8,11.3 593.1,10.9 594.9,10.8 C596.8,10.6 599.2,11.4 600.0,11.5 M581.1,7.7 C581.8,7.9 584.2,8.7 585.7,9.2 C587.2,9.7 589.5,10.5 590.3,10.8 M548.8,18.5 C549.3,19.2 550.6,21.8 551.8,23.1 C553.1,24.4 554.9,25.1 556.5,26.2 C558.0,27.2 559.5,28.5 561.1,29.2 C562.6,30.0 564.2,30.3 565.7,30.8 C567.2,31.3 569.5,32.1 570.3,32.3 M553.4,41.5 C553.1,42.3 552.2,44.4 551.8,46.2 C551.5,47.9 551.3,50.3 551.1,52.3 C550.8,54.4 550.3,56.4 550.3,58.5 C550.3,60.5 550.9,63.6 551.1,64.6 M554.9,46.2 C555.7,46.7 558.0,48.5 559.5,49.2 C561.1,50.0 562.9,50.0 564.2,50.8 C565.4,51.5 566.7,53.3 567.2,53.8 M556.5,46.2 C557.5,45.6 560.6,43.8 562.6,43.1 C564.7,42.3 567.0,42.3 568.8,41.5 C570.6,40.8 571.8,39.5 573.4,38.5 C574.9,37.4 577.2,35.9 578.0,35.4 M585.7,50.8 C585.2,51.3 583.9,52.8 582.6,53.8 C581.3,54.9 579.5,55.9 578.0,56.9 C576.5,57.9 574.9,59.2 573.4,60.0 C571.8,60.8 569.5,61.3 568.8,61.5 M582.6,35.4 C582.9,36.4 583.4,39.7 584.2,41.5 C584.9,43.3 585.9,44.9 587.2,46.2 C588.5,47.4 590.3,49.0 591.8,49.2 C593.4,49.5 595.1,48.2 596.5,47.7 C597.8,47.2 599.4,46.4 600.0,46.2 M531.8,67.7 C532.9,67.7 535.9,67.4 538.0,67.7 C540.1,67.9 542.1,69.0 544.2,69.2 C546.2,69.5 548.3,69.0 550.3,69.2 C552.4,69.5 554.4,70.3 556.5,70.8 C558.5,71.3 560.8,71.5 562.6,72.3 C564.4,73.1 565.9,74.1 567.2,75.4 C568.5,76.7 569.8,79.2 570.3,80.0 M518.0,61.5 C518.8,62.3 521.1,64.9 522.6,66.2 C524.2,67.4 525.9,67.9 527.2,69.2 C528.5,70.5 529.5,72.3 530.3,73.8 C531.1,75.4 531.6,77.7 531.8,78.5 M541.1,49.2 C541.8,49.7 544.4,51.5 545.7,52.3 C547.0,53.1 548.3,53.6 548.8,53.8 M632.3,21.5 C633.6,21.5 637.4,21.3 640.0,21.5 C642.6,21.8 645.4,22.6 647.7,23.1 C650.0,23.6 652.1,24.6 653.8,24.6 C655.6,24.6 657.2,23.6 658.5,23.1 C659.7,22.6 661.0,21.8 661.5,21.5 M600.0,56.9 C600.8,57.2 603.1,57.9 604.6,58.5 C606.2,59.0 607.4,59.5 609.2,60.0 C611.0,60.5 613.3,61.0 615.4,61.5 C617.4,62.1 619.5,63.1 621.5,63.1 C623.6,63.1 625.9,62.3 627.7,61.5 C629.5,60.8 630.5,59.2 632.3,58.5 C634.1,57.7 637.4,57.2 638.5,56.9 M636.9,63.1 C637.4,63.6 639.2,64.9 640.0,66.2 C640.8,67.4 641.4,69.0 641.5,70.8 C641.7,72.6 641.0,75.1 640.8,76.9 C640.5,78.8 640.1,81.2 640.0,82.0 M646.2,47.7 C646.4,48.7 646.9,51.8 647.7,53.8 C648.5,55.9 649.7,58.2 650.8,60.0 C651.8,61.8 652.6,63.1 653.8,64.6 C655.1,66.2 657.2,67.7 658.5,69.2 C659.7,70.8 660.8,72.3 661.5,73.8 C662.3,75.4 662.8,77.7 663.1,78.5 M653.8,36.9 C654.6,37.4 656.7,39.2 658.5,40.0 C660.3,40.8 662.6,41.4 664.6,41.5 C666.7,41.7 669.7,40.9 670.8,40.8 M518.0,91.2 C518.8,90.7 521.1,89.2 522.6,88.2 C524.2,87.1 525.9,86.1 527.2,85.1 C528.5,84.1 529.8,82.5 530.3,82.0 M533.4,91.2 C534.2,91.2 536.2,91.5 538.0,91.2 C539.8,91.0 542.1,90.2 544.2,89.7 C546.2,89.2 548.5,88.7 550.3,88.2 C552.1,87.6 554.2,86.9 554.9,86.6 M531.8,95.8 C531.6,97.1 530.3,101.0 530.3,103.5 C530.3,106.1 531.1,108.9 531.8,111.2 C532.6,113.5 533.6,115.8 534.9,117.4 C536.2,118.9 537.7,119.7 539.5,120.5 C541.3,121.2 544.7,121.7 545.7,122.0 M545.7,122.0 C546.7,121.7 549.8,121.2 551.8,120.5 C553.9,119.7 556.2,118.7 558.0,117.4 C559.8,116.1 561.1,114.3 562.6,112.8 C564.2,111.2 565.7,109.4 567.2,108.2 C568.8,106.9 570.1,106.1 571.8,105.1 C573.6,104.1 575.9,103.0 578.0,102.0 C580.1,101.0 582.1,99.7 584.2,98.9 C586.2,98.2 588.8,97.9 590.3,97.4 C591.8,96.9 592.9,96.1 593.4,95.8 M525.7,108.2 C525.4,109.4 524.7,113.5 524.2,115.8 C523.6,118.2 523.1,119.9 522.6,122.0 C522.1,124.1 521.3,127.1 521.1,128.2 M585.7,122.0 C585.9,122.8 586.5,125.3 587.2,126.6 C588.0,127.9 589.3,128.9 590.3,129.7 C591.3,130.5 592.9,131.0 593.4,131.2 M571.8,106.6 C572.1,107.4 572.9,109.9 573.4,111.2 C573.9,112.5 574.7,113.8 574.9,114.3 M600.0,85.1 C601.0,85.6 604.4,86.9 606.2,88.2 C607.9,89.4 609.2,91.2 610.8,92.8 C612.3,94.3 613.8,96.1 615.4,97.4 C616.9,98.7 618.2,100.2 620.0,100.5 C621.8,100.7 624.4,99.7 626.2,98.9 C627.9,98.2 629.5,97.1 630.8,95.8 C632.1,94.6 632.8,92.8 633.8,91.2 C634.9,89.7 636.7,88.2 636.9,86.6 C637.2,85.1 635.6,82.8 635.4,82.0 M646.2,91.2 C647.2,91.0 650.3,90.2 652.3,89.7 C654.4,89.2 656.4,88.7 658.5,88.2 C660.5,87.6 662.6,86.6 664.6,86.6 C666.7,86.6 669.2,87.1 670.8,88.2 C672.3,89.2 673.1,91.0 673.8,92.8 C674.6,94.6 674.9,96.9 675.4,98.9 C675.9,101.0 676.4,103.0 676.9,105.1 C677.4,107.1 678.5,109.2 678.5,111.2 C678.5,113.3 677.9,115.6 676.9,117.4 C675.9,119.2 673.8,121.2 672.3,122.0 C670.8,122.8 668.5,122.0 667.7,122.0 M600.0,151.2 C600.8,151.0 603.1,150.2 604.6,149.7 C606.2,149.2 607.4,148.7 609.2,148.2 C611.0,147.6 613.3,147.1 615.4,146.6 C617.4,146.1 619.5,145.1 621.5,145.1 C623.6,145.1 626.7,146.4 627.7,146.6 M673.8,82.0 C674.4,82.8 675.9,84.6 676.9,86.6 C677.9,88.7 679.2,91.7 680.0,94.3 C680.8,96.9 681.3,100.7 681.5,102.0" stroke="#4cd447" stroke-width="1.35"/>
<path d="M530.3,0.0 C530.6,1.0 531.3,4.1 531.8,6.2 C532.4,8.2 532.9,10.8 533.4,12.3 C533.9,13.8 534.7,14.9 534.9,15.4 M544.2,0.0 C544.4,0.8 544.7,3.3 545.7,4.6 C546.7,5.9 548.8,6.9 550.3,7.7 C551.8,8.5 553.6,8.2 554.9,9.2 C556.2,10.3 557.0,12.6 558.0,13.8 C559.0,15.1 560.1,15.9 561.1,16.9 C562.1,17.9 563.1,18.7 564.2,20.0 C565.2,21.3 566.2,23.3 567.2,24.6 C568.3,25.9 569.5,26.7 570.3,27.7 C571.1,28.7 571.6,30.3 571.8,30.8 M564.2,0.0 C564.7,1.0 566.5,4.1 567.2,6.2 C568.0,8.2 568.4,10.3 568.8,12.3 C569.2,14.4 569.2,16.7 569.5,18.5 C569.9,20.3 570.7,21.0 571.1,23.1 C571.5,25.1 571.2,29.0 571.8,30.8 C572.5,32.6 573.6,33.1 574.9,33.8 C576.2,34.6 578.0,34.9 579.5,35.4 C581.1,35.9 583.4,36.7 584.2,36.9 M590.3,26.2 C590.8,25.8 592.4,24.0 593.4,23.8 C594.4,23.7 596.2,24.5 596.5,25.4 C596.7,26.3 595.7,28.1 594.9,29.2 C594.2,30.4 593.1,31.5 591.8,32.3 C590.6,33.1 588.8,33.3 587.2,33.8 C585.7,34.4 583.4,35.1 582.6,35.4 M522.6,26.2 C522.9,27.2 523.6,30.3 524.2,32.3 C524.7,34.4 525.2,36.4 525.7,38.5 C526.2,40.5 526.5,42.8 527.2,44.6 C528.0,46.4 529.3,47.4 530.3,49.2 C531.3,51.0 532.4,53.6 533.4,55.4 C534.4,57.2 535.4,58.7 536.5,60.0 C537.5,61.3 538.3,62.1 539.5,63.1 C540.8,64.1 542.6,65.4 544.2,66.2 C545.7,66.9 547.2,67.4 548.8,67.7 C550.3,67.9 551.8,67.9 553.4,67.7 C554.9,67.4 557.2,66.4 558.0,66.2 M536.5,69.2 C536.2,70.3 535.4,73.3 534.9,75.4 C534.4,77.5 533.6,80.9 533.4,82.0 M518.0,75.4 C518.8,75.6 521.1,76.4 522.6,76.9 C524.2,77.4 526.5,78.2 527.2,78.5 M558.0,66.2 C559.0,65.9 562.1,65.1 564.2,64.6 C566.2,64.1 569.3,63.3 570.3,63.1 M606.2,0.0 C606.4,1.0 607.2,4.1 607.7,6.2 C608.2,8.2 608.5,10.5 609.2,12.3 C610.0,14.1 611.3,15.6 612.3,16.9 C613.3,18.2 614.6,18.7 615.4,20.0 C616.2,21.3 616.9,22.8 616.9,24.6 C616.9,26.4 616.2,28.7 615.4,30.8 C614.6,32.8 613.3,34.9 612.3,36.9 C611.3,39.0 610.3,41.3 609.2,43.1 C608.2,44.9 607.2,46.2 606.2,47.7 C605.1,49.2 604.1,50.8 603.1,52.3 C602.1,53.8 600.5,56.2 600.0,56.9 M600.0,10.8 C600.8,10.5 603.1,9.7 604.6,9.2 C606.2,8.7 607.7,8.5 609.2,7.7 C610.8,6.9 612.3,5.9 613.8,4.6 C615.4,3.3 617.7,0.8 618.5,0.0 M618.5,1.5 C618.2,2.8 617.7,6.9 616.9,9.2 C616.2,11.5 614.6,13.1 613.8,15.4 C613.1,17.7 612.8,20.5 612.3,23.1 C611.8,25.6 611.3,28.5 610.8,30.8 C610.3,33.1 609.7,34.9 609.2,36.9 C608.7,39.0 607.9,42.1 607.7,43.1 M600.0,41.5 C600.8,41.0 603.1,39.2 604.6,38.5 C606.2,37.7 607.7,37.7 609.2,36.9 C610.8,36.2 612.3,34.6 613.8,33.8 C615.4,33.1 616.9,32.8 618.5,32.3 C620.0,31.8 622.3,31.0 623.1,30.8 M640.0,24.6 C640.3,25.6 641.0,28.5 641.5,30.8 C642.1,33.1 642.6,36.2 643.1,38.5 C643.6,40.8 644.1,43.1 644.6,44.6 C645.1,46.2 644.9,46.7 646.2,47.7 C647.4,48.7 650.3,50.0 652.3,50.8 C654.4,51.5 656.4,52.3 658.5,52.3 C660.5,52.3 662.6,51.5 664.6,50.8 C666.7,50.0 669.0,48.5 670.8,47.7 C672.6,46.9 673.8,46.7 675.4,46.2 C676.9,45.6 679.2,44.9 680.0,44.6 M650.8,0.0 C651.0,1.0 651.8,3.8 652.3,6.2 C652.8,8.5 653.6,11.5 653.8,13.8 C654.1,16.2 654.4,17.9 653.8,20.0 C653.3,22.1 652.1,24.4 650.8,26.2 C649.5,27.9 647.4,29.2 646.2,30.8 C644.9,32.3 644.1,33.8 643.1,35.4 C642.1,36.9 640.5,39.2 640.0,40.0 M676.9,9.2 C677.2,10.5 677.9,14.6 678.5,16.9 C679.0,19.2 679.4,21.5 680.0,23.1 C680.6,24.6 681.7,25.6 682.0,26.2 M626.2,30.8 C625.6,32.1 623.8,35.9 623.1,38.5 C622.3,41.0 621.5,43.8 621.5,46.2 C621.5,48.5 622.3,50.5 623.1,52.3 C623.8,54.1 625.1,55.4 626.2,56.9 C627.2,58.5 628.2,60.3 629.2,61.5 C630.3,62.8 631.8,64.1 632.3,64.6 M646.2,78.5 C647.2,78.2 650.3,77.2 652.3,76.9 C654.4,76.7 657.4,76.9 658.5,76.9 M680.0,66.2 L682.0,70.8 M624.6,50.8 C625.6,50.5 628.7,49.7 630.8,49.2 C632.8,48.7 635.9,47.9 636.9,47.7 M527.2,86.6 C528.0,87.4 530.6,89.7 531.8,91.2 C533.1,92.8 533.6,94.6 534.9,95.8 C536.2,97.1 538.0,98.2 539.5,98.9 C541.1,99.7 542.6,100.2 544.2,100.5 C545.7,100.7 547.2,100.7 548.8,100.5 C550.3,100.2 552.4,99.9 553.4,98.9 C554.4,97.9 554.5,95.8 554.9,94.3 C555.3,92.8 555.4,91.2 555.7,89.7 C555.9,88.2 556.3,85.8 556.5,85.1 M518.0,126.6 C518.5,126.9 520.1,127.1 521.1,128.2 C522.1,129.2 523.4,130.7 524.2,132.8 C524.9,134.8 525.2,138.2 525.7,140.5 C526.2,142.8 526.7,144.6 527.2,146.6 C527.7,148.7 528.3,150.7 528.8,152.8 C529.3,154.8 529.8,157.1 530.3,158.9 C530.8,160.8 531.6,163.2 531.8,164.0 M551.8,120.5 C552.6,121.0 554.9,122.5 556.5,123.5 C558.0,124.6 559.8,125.6 561.1,126.6 C562.4,127.6 563.4,128.2 564.2,129.7 C564.9,131.2 564.9,134.1 565.7,135.8 C566.5,137.6 567.7,139.2 568.8,140.5 C569.8,141.7 570.6,142.8 571.8,143.5 C573.1,144.3 574.9,144.6 576.5,145.1 C578.0,145.6 579.8,146.4 581.1,146.6 C582.4,146.9 583.6,146.6 584.2,146.6 M564.2,137.4 C565.2,137.6 568.3,138.5 570.3,138.9 C572.4,139.3 574.4,139.7 576.5,139.7 C578.5,139.7 580.6,139.2 582.6,138.9 C584.7,138.7 586.7,138.5 588.8,138.2 C590.8,137.8 593.1,137.0 594.9,136.6 C596.8,136.2 599.2,136.0 600.0,135.8 M565.7,126.6 C566.7,126.6 570.1,126.9 571.8,126.6 C573.6,126.4 575.4,126.4 576.5,125.1 C577.5,123.8 577.2,120.5 578.0,118.9 C578.8,117.4 579.5,116.6 581.1,115.8 C582.6,115.1 585.2,114.7 587.2,114.3 C589.3,113.9 592.4,113.7 593.4,113.5 M576.5,125.1 C577.0,126.1 579.2,129.2 579.5,131.2 C579.9,133.3 578.9,136.4 578.8,137.4 M593.4,114.3 C592.9,115.1 591.3,117.6 590.3,118.9 C589.3,120.2 587.7,121.5 587.2,122.0 M558.0,143.5 C558.3,144.3 559.0,146.6 559.5,148.2 C560.1,149.7 560.6,151.5 561.1,152.8 C561.6,154.1 562.4,155.3 562.6,155.8 M531.8,152.8 C532.6,153.3 534.7,154.8 536.5,155.8 C538.3,156.9 540.6,158.2 542.6,158.9 C544.7,159.7 546.7,159.9 548.8,160.5 C550.8,161.0 552.9,161.5 554.9,162.0 C557.0,162.5 560.1,163.3 561.1,163.5 M579.5,148.2 C580.1,149.2 581.6,152.5 582.6,154.3 C583.6,156.1 584.7,157.6 585.7,158.9 C586.7,160.2 588.3,161.5 588.8,162.0 M585.7,154.3 C586.7,154.1 589.8,153.0 591.8,152.8 C593.9,152.5 597.0,152.8 598.0,152.8 M518.0,148.2 L521.1,151.2 M615.4,88.2 C616.2,87.6 618.7,86.1 620.0,85.1 C621.3,84.1 622.6,82.5 623.1,82.0 M606.2,106.6 C606.9,107.1 609.2,108.7 610.8,109.7 C612.3,110.7 614.4,111.2 615.4,112.8 C616.4,114.3 616.4,116.9 616.9,118.9 C617.4,121.0 617.7,123.3 618.5,125.1 C619.2,126.9 620.3,128.4 621.5,129.7 C622.8,131.0 624.4,132.0 626.2,132.8 C627.9,133.5 630.3,133.9 632.3,134.3 C634.4,134.7 637.4,134.9 638.5,135.1 M627.7,98.9 C628.2,99.7 629.7,102.0 630.8,103.5 C631.8,105.1 632.8,106.6 633.8,108.2 C634.9,109.7 636.2,111.0 636.9,112.8 C637.7,114.6 637.9,116.9 638.5,118.9 C639.0,121.0 639.6,123.0 640.0,125.1 C640.4,127.1 640.8,129.4 640.8,131.2 C640.8,133.0 640.1,135.1 640.0,135.8 M644.6,82.0 C645.1,83.0 646.7,86.4 647.7,88.2 C648.7,89.9 649.7,91.2 650.8,92.8 C651.8,94.3 653.1,95.8 653.8,97.4 C654.6,98.9 655.1,101.2 655.4,102.0 M633.8,108.2 C634.6,107.9 636.9,107.1 638.5,106.6 C640.0,106.1 641.8,105.8 643.1,105.1 C644.4,104.3 645.6,102.5 646.2,102.0 M600.0,115.8 C600.5,116.9 602.3,119.9 603.1,122.0 C603.8,124.1 604.6,126.1 604.6,128.2 C604.6,130.2 603.6,132.3 603.1,134.3 C602.6,136.4 602.1,138.4 601.5,140.5 C601.0,142.5 600.3,145.6 600.0,146.6 M609.2,117.4 C609.7,118.4 611.3,121.7 612.3,123.5 C613.3,125.3 614.1,126.6 615.4,128.2 C616.7,129.7 618.5,131.2 620.0,132.8 C621.5,134.3 623.3,135.6 624.6,137.4 C625.9,139.2 627.2,142.5 627.7,143.5 M653.8,112.8 C654.6,113.5 656.7,115.8 658.5,117.4 C660.3,118.9 662.6,120.5 664.6,122.0 C666.7,123.5 669.0,125.1 670.8,126.6 C672.6,128.2 673.8,130.2 675.4,131.2 C676.9,132.3 679.2,132.5 680.0,132.8 M670.8,111.2 C671.5,111.5 673.8,112.5 675.4,112.8 C676.9,113.0 679.2,112.8 680.0,112.8 M603.1,154.3 C603.6,154.6 605.4,155.1 606.2,155.8 C606.9,156.6 607.4,158.4 607.7,158.9 M646.2,128.2 C646.4,129.2 647.2,132.3 647.7,134.3 C648.2,136.4 649.0,139.4 649.2,140.5 M612.3,155.8 C612.6,156.6 613.3,159.1 613.8,160.5 C614.4,161.8 615.1,163.4 615.4,164.0" stroke="#38b938" stroke-width="1.35"/>
<path d="M518.0,16.9 C518.8,16.9 521.1,16.4 522.6,16.9 C524.2,17.4 525.9,18.7 527.2,20.0 C528.5,21.3 529.3,23.3 530.3,24.6 C531.3,25.9 532.1,26.9 533.4,27.7 C534.7,28.5 536.5,28.7 538.0,29.2 C539.5,29.7 541.8,30.5 542.6,30.8 M528.8,38.5 C529.5,38.7 531.8,40.0 533.4,40.0 C534.9,40.0 536.5,39.2 538.0,38.5 C539.5,37.7 541.3,36.7 542.6,35.4 C543.9,34.1 544.9,32.6 545.7,30.8 C546.5,29.0 546.7,26.7 547.2,24.6 C547.7,22.6 548.5,19.5 548.8,18.5 M518.0,52.3 C518.8,51.8 520.8,50.0 522.6,49.2 C524.4,48.5 526.7,48.2 528.8,47.7 C530.8,47.2 532.9,46.7 534.9,46.2 C537.0,45.6 539.0,45.1 541.1,44.6 C543.1,44.1 545.4,43.6 547.2,43.1 C549.0,42.6 550.3,41.9 551.8,41.5 C553.4,41.2 554.9,40.5 556.5,40.8 C558.0,41.0 559.8,42.2 561.1,43.1 C562.4,44.0 563.1,44.9 564.2,46.2 C565.2,47.4 566.5,49.0 567.2,50.8 C568.0,52.6 568.6,55.1 568.8,56.9 C568.9,58.7 568.1,60.8 568.0,61.5 M576.5,38.5 C577.0,39.2 578.5,41.5 579.5,43.1 C580.6,44.6 581.6,46.4 582.6,47.7 C583.6,49.0 584.4,49.7 585.7,50.8 C587.0,51.8 588.8,53.1 590.3,53.8 C591.8,54.6 593.4,54.9 594.9,55.4 C596.5,55.9 598.8,56.7 599.5,56.9 M632.3,0.0 C632.2,1.5 631.8,6.2 631.5,9.2 C631.3,12.3 630.8,15.6 630.8,18.5 C630.8,21.3 631.3,23.6 631.5,26.2 C631.8,28.7 631.9,31.8 632.3,33.8 C632.7,35.9 633.3,36.9 633.8,38.5 C634.4,40.0 635.1,42.3 635.4,43.1 M658.5,0.0 C659.0,0.8 660.3,3.1 661.5,4.6 C662.8,6.2 664.4,7.7 666.2,9.2 C667.9,10.8 670.5,12.3 672.3,13.8 C674.1,15.4 675.9,16.7 676.9,18.5 C677.9,20.3 678.5,22.6 678.5,24.6 C678.5,26.7 677.7,28.7 676.9,30.8 C676.2,32.8 674.6,34.9 673.8,36.9 C673.1,39.0 672.8,41.5 672.3,43.1 C671.8,44.6 671.0,45.6 670.8,46.2 M661.5,49.2 C662.1,50.3 663.8,53.3 664.6,55.4 C665.4,57.4 665.6,59.5 666.2,61.5 C666.7,63.6 666.9,65.9 667.7,67.7 C668.5,69.5 669.7,70.8 670.8,72.3 C671.8,73.8 673.3,76.2 673.8,76.9 M658.5,66.2 C659.5,65.9 662.6,65.1 664.6,64.6 C666.7,64.1 668.7,63.6 670.8,63.1 C672.8,62.6 675.1,62.1 676.9,61.5 C678.8,61.0 681.2,60.3 682.0,60.0 M615.4,69.2 C616.4,69.5 619.5,70.3 621.5,70.8 C623.6,71.3 625.6,71.8 627.7,72.3 C629.7,72.8 631.8,73.3 633.8,73.8 C635.9,74.4 639.0,75.1 640.0,75.4 M518.0,103.5 C518.8,103.5 521.1,103.5 522.6,103.5 C524.2,103.5 525.4,103.3 527.2,103.5 C529.0,103.8 531.3,104.8 533.4,105.1 C535.4,105.3 537.5,105.3 539.5,105.1 C541.6,104.8 543.9,104.1 545.7,103.5 C547.5,103.0 549.5,102.3 550.3,102.0 M593.4,88.2 C593.4,89.2 593.6,92.5 593.4,94.3 C593.1,96.1 592.4,97.6 591.8,98.9 C591.3,100.2 589.8,101.0 590.3,102.0 C590.8,103.0 593.6,104.1 594.9,105.1 C596.2,106.1 597.5,107.6 598.0,108.2 M541.1,126.6 C540.8,127.6 539.9,130.7 539.5,132.8 C539.2,134.8 538.8,136.9 538.8,138.9 C538.8,141.0 539.2,143.0 539.5,145.1 C539.9,147.1 540.6,149.4 541.1,151.2 C541.6,153.0 541.8,154.3 542.6,155.8 C543.4,157.4 544.7,159.1 545.7,160.5 C546.7,161.8 548.3,163.4 548.8,164.0 M538.0,137.4 C539.3,137.1 543.1,136.2 545.7,135.8 C548.3,135.5 551.1,134.9 553.4,135.1 C555.7,135.2 557.7,136.2 559.5,136.6 C561.3,137.0 563.4,137.3 564.2,137.4 M594.9,128.2 C595.2,129.2 595.9,132.3 596.5,134.3 C597.0,136.4 597.5,138.4 598.0,140.5 C598.5,142.5 599.3,145.6 599.5,146.6 M600.0,105.1 C601.0,105.3 604.1,106.6 606.2,106.6 C608.2,106.6 610.5,105.6 612.3,105.1 C614.1,104.6 615.4,104.2 616.9,103.5 C618.5,102.9 619.7,102.0 621.5,101.2 C623.3,100.5 625.4,99.3 627.7,98.9 C630.0,98.5 632.8,98.8 635.4,98.9 C637.9,99.1 640.8,99.4 643.1,99.7 C645.4,99.9 647.4,99.8 649.2,100.5 C651.0,101.1 652.6,102.3 653.8,103.5 C655.1,104.8 656.0,106.4 656.9,108.2 C657.8,109.9 658.5,112.3 659.2,114.3 C660.0,116.4 660.9,118.4 661.5,120.5 C662.2,122.5 662.7,124.6 663.1,126.6 C663.5,128.7 663.6,131.0 663.8,132.8 C664.1,134.6 664.5,136.6 664.6,137.4 M646.2,162.0 C647.4,162.0 651.3,162.3 653.8,162.0 C656.4,161.7 659.0,160.5 661.5,160.5 C664.1,160.5 666.7,161.5 669.2,162.0 C671.8,162.5 675.6,163.3 676.9,163.5" stroke="#2a922a" stroke-width="1.35"/>
<polygon points="597,59.7 606.2,58.4 604.9,64.9 599.7,76.7 597.1,84.6 595.7,89.9 591.8,87.2 589.2,80.7 593.1,71.5 595.7,63.6" fill="#5cc84a" filter="url(#soft)"/>
</g>
<text x="5" y="16.2" font-family="Liberation Sans, sans-serif" font-weight="bold" font-size="15" fill="#fff">a</text>
<text x="180.5" y="16.2" font-family="Liberation Sans, sans-serif" font-weight="bold" font-size="15" fill="#fff">b</text>
<text x="353" y="16.2" font-family="Liberation Sans, sans-serif" font-weight="bold" font-size="15" fill="#fff">c</text>
<text x="524" y="16.2" font-family="Liberation Sans, sans-serif" font-weight="bold" font-size="15" fill="#fff">d</text>
<g fill="none" stroke="#e8e8e8" stroke-width="1.1"><circle cx="130.6" cy="13.4" r="3.1"/><path d="M132.8,11.2 L135.2,6.1 M131.6,6.1 L135.2,6.1 L135.2,9.5"/></g>
<text x="139.4" y="14.9" font-family="Liberation Sans, sans-serif" font-weight="bold" font-size="11.6" fill="#fff">CD</text>
<g fill="none" stroke="#e8e8e8" stroke-width="1.1"><circle cx="303.2" cy="9.5" r="3.0"/><path d="M303.2,12.5 L303.2,18.0 M300.2,15.2 L306.2,15.2"/></g>
<text x="311.6" y="14.9" font-family="Liberation Sans, sans-serif" font-weight="bold" font-size="11.6" fill="#fff">CD</text>
<g fill="none" stroke="#e8e8e8" stroke-width="1.1"><circle cx="457.1" cy="13.4" r="3.1"/><path d="M459.3,11.2 L461.7,6.1 M458.1,6.1 L461.7,6.1 L461.7,9.5"/></g>
<text x="467" y="14.9" font-family="Liberation Sans, sans-serif" font-weight="bold" font-size="12.2" fill="#fff">mHFD</text>
<g fill="none" stroke="#e8e8e8" stroke-width="1.1"><circle cx="630.5" cy="9.5" r="3.0"/><path d="M630.5,12.5 L630.5,18.0 M627.5,15.2 L633.5,15.2"/></g>
<text x="639" y="14.9" font-family="Liberation Sans, sans-serif" font-weight="bold" font-size="12.2" fill="#fff">mHFD</text>
<text x="130" y="156" font-family="Liberation Sans, sans-serif" font-size="12.6" textLength="28.6" lengthAdjust="spacingAndGlyphs" fill="#1caf5b">CD31</text>
<rect x="627" y="154.2" width="46" height="2.6" fill="#fff"/>
<text x="631.5" y="149" font-family="Liberation Sans, sans-serif" font-size="12.3" fill="#f0f0f0">100µm</text>
<rect x="623.5" y="171.2" width="8.6" height="8.2" fill="#fff" stroke="#1a9b64" stroke-width="1.8"/>
<rect x="623.5" y="184.6" width="8.6" height="8.2" fill="#f4dcdc" stroke="#a5181e" stroke-width="1.8"/>
<text x="636.3" y="179" font-family="Liberation Sans, sans-serif" font-weight="bold" font-size="11.2" fill="#111">CD</text>
<text x="636.3" y="192.2" font-family="Liberation Sans, sans-serif" font-weight="bold" font-size="11.2" fill="#111">mHFD</text>
<text x="306" y="187.3" font-family="Liberation Sans, sans-serif" font-size="13.9" fill="#1a1a1a">Vessel length</text>
<text x="295" y="370.8" font-family="Liberation Sans, sans-serif" font-size="14.3" fill="#1a1a1a">Branching points</text>
<text x="5" y="207.8" font-family="Liberation Sans, sans-serif" font-weight="bold" font-size="15" fill="#111">e</text>
<text x="77.7" y="221.4" text-anchor="middle" font-family="Liberation Sans, sans-serif" font-weight="bold" font-size="11.2" fill="#111">Whole cortex</text>
<path d="M36.2,224.9 L36.2,333.3 L120.5,333.3" fill="none" stroke="#111" stroke-width="1.9"/>
<line x1="32.6" y1="333.3" x2="36.2" y2="333.3" stroke="#111" stroke-width="1.6"/>
<text x="31.400000000000002" y="336.2" text-anchor="end" font-family="Liberation Sans, sans-serif" font-weight="bold" font-size="9.3" fill="#141414">0.0</text>
<line x1="32.6" y1="311.7" x2="36.2" y2="311.7" stroke="#111" stroke-width="1.6"/>
<text x="31.400000000000002" y="314.6" text-anchor="end" font-family="Liberation Sans, sans-serif" font-weight="bold" font-size="9.3" fill="#141414">0.5</text>
<line x1="32.6" y1="290.1" x2="36.2" y2="290.1" stroke="#111" stroke-width="1.6"/>
<text x="31.400000000000002" y="293.0" text-anchor="end" font-family="Liberation Sans, sans-serif" font-weight="bold" font-size="9.3" fill="#141414">1.0</text>
<line x1="32.6" y1="268.6" x2="36.2" y2="268.6" stroke="#111" stroke-width="1.6"/>
<text x="31.400000000000002" y="271.5" text-anchor="end" font-family="Liberation Sans, sans-serif" font-weight="bold" font-size="9.3" fill="#141414">1.5</text>
<line x1="32.6" y1="247.0" x2="36.2" y2="247.0" stroke="#111" stroke-width="1.6"/>
<text x="31.400000000000002" y="249.9" text-anchor="end" font-family="Liberation Sans, sans-serif" font-weight="bold" font-size="9.3" fill="#141414">2.0</text>
<line x1="32.6" y1="225.4" x2="36.2" y2="225.4" stroke="#111" stroke-width="1.6"/>
<text x="31.400000000000002" y="228.3" text-anchor="end" font-family="Liberation Sans, sans-serif" font-weight="bold" font-size="9.3" fill="#141414">2.5</text>
<line x1="55.400000000000006" y1="333.3" x2="55.400000000000006" y2="336.90000000000003" stroke="#111" stroke-width="1.6"/>
<line x1="99.30000000000001" y1="333.3" x2="99.30000000000001" y2="336.90000000000003" stroke="#111" stroke-width="1.6"/>
<text x="55.400000000000006" y="347.7" text-anchor="middle" font-family="Liberation Sans, sans-serif" font-weight="bold" font-size="9.7" fill="#141414">Male</text>
<text x="99.30000000000001" y="347.7" text-anchor="middle" font-family="Liberation Sans, sans-serif" font-weight="bold" font-size="9.7" fill="#141414">Female</text>
<text transform="translate(12.5,278.85) rotate(-90)" text-anchor="middle" textLength="107.3" lengthAdjust="spacingAndGlyphs" font-family="Liberation Sans, sans-serif" font-weight="bold" font-size="9.2" fill="#141414">Length (<tspan font-weight="normal">×</tspan>10<tspan baseline-shift="super" font-size="6.5">3</tspan> mm/mm<tspan baseline-shift="super" font-size="6.5">3</tspan>)</text>
<text x="41.400000000000006" y="327.5" font-family="Liberation Sans, sans-serif" font-style="italic" font-size="10" fill="#141414">** Diet main effect</text>
<g stroke="#1a9b64" stroke-width="1.8" fill="none"><line x1="47.4" y1="255.3" x2="47.4" y2="258.0"/><line x1="44.1" y1="255.3" x2="50.699999999999996" y2="255.3"/><line x1="47.4" y1="263.40000000000003" x2="47.4" y2="270.1"/><line x1="44.1" y1="270.1" x2="50.699999999999996" y2="270.1"/><rect x="42.949999999999996" y="258.0" width="8.9" height="5.400000000000034" fill="none"/><line x1="42.949999999999996" y1="260" x2="51.85" y2="260"/></g><circle cx="47.4" cy="255.3" r="1.48" fill="#1c1c1c"/><circle cx="45.5" cy="257.9" r="1.48" fill="#1c1c1c"/><circle cx="49.3" cy="259.4" r="1.48" fill="#1c1c1c"/><circle cx="45.5" cy="262" r="1.48" fill="#1c1c1c"/><circle cx="49.3" cy="262.8" r="1.48" fill="#1c1c1c"/><circle cx="47.4" cy="270.1" r="1.48" fill="#1c1c1c"/>
<g stroke="#a5181e" stroke-width="1.8" fill="none"><line x1="63.9" y1="250.2" x2="63.9" y2="252.6"/><line x1="60.6" y1="252.6" x2="67.2" y2="252.6"/><rect x="59.449999999999996" y="243.0" width="8.9" height="7.199999999999989" fill="#f4dcdc"/><line x1="59.449999999999996" y1="248.5" x2="68.35" y2="248.5"/></g><circle cx="62" cy="242.1" r="1.48" fill="#1c1c1c"/><circle cx="65.8" cy="242.1" r="1.48" fill="#1c1c1c"/><circle cx="62" cy="249.3" r="1.48" fill="#1c1c1c"/><circle cx="65.8" cy="249.6" r="1.48" fill="#1c1c1c"/><circle cx="63.9" cy="252.3" r="1.48" fill="#1c1c1c"/>
<g stroke="#1a9b64" stroke-width="1.8" fill="none"><line x1="91.35" y1="269.5" x2="91.35" y2="273"/><line x1="88.05" y1="273" x2="94.64999999999999" y2="273"/><rect x="86.89999999999999" y="254.4" width="8.9" height="15.099999999999994" fill="none"/><line x1="86.89999999999999" y1="263.3" x2="95.8" y2="263.3"/></g><circle cx="89.1" cy="253.1" r="1.48" fill="#1c1c1c"/><circle cx="93.1" cy="254.1" r="1.48" fill="#1c1c1c"/><circle cx="91.2" cy="263.1" r="1.48" fill="#1c1c1c"/><circle cx="91.2" cy="267.9" r="1.48" fill="#1c1c1c"/><circle cx="91.2" cy="273" r="1.48" fill="#1c1c1c"/>
<g stroke="#a5181e" stroke-width="1.8" fill="none"><line x1="107.65" y1="248.1" x2="107.65" y2="251.8"/><line x1="104.35000000000001" y1="248.1" x2="110.95" y2="248.1"/><rect x="103.2" y="251.8" width="8.9" height="9.800000000000011" fill="#f4dcdc"/><line x1="103.2" y1="253" x2="112.10000000000001" y2="253"/></g><circle cx="107.9" cy="248.1" r="1.48" fill="#1c1c1c"/><circle cx="105.9" cy="253.1" r="1.48" fill="#1c1c1c"/><circle cx="109.6" cy="252.4" r="1.48" fill="#1c1c1c"/><circle cx="105.9" cy="263.1" r="1.48" fill="#1c1c1c"/><circle cx="109.6" cy="262.1" r="1.48" fill="#1c1c1c"/>
<text x="145.5" y="207.8" font-family="Liberation Sans, sans-serif" font-weight="bold" font-size="15" fill="#111">f</text>
<text x="219.5" y="221.4" text-anchor="middle" font-family="Liberation Sans, sans-serif" font-weight="bold" font-size="11.2" fill="#111">Anterior cortex</text>
<path d="M178,224.9 L178,333.3 L262.3,333.3" fill="none" stroke="#111" stroke-width="1.9"/>
<line x1="174.4" y1="333.3" x2="178" y2="333.3" stroke="#111" stroke-width="1.6"/>
<text x="173.2" y="336.2" text-anchor="end" font-family="Liberation Sans, sans-serif" font-weight="bold" font-size="9.3" fill="#141414">0.0</text>
<line x1="174.4" y1="311.7" x2="178" y2="311.7" stroke="#111" stroke-width="1.6"/>
<text x="173.2" y="314.6" text-anchor="end" font-family="Liberation Sans, sans-serif" font-weight="bold" font-size="9.3" fill="#141414">0.5</text>
<line x1="174.4" y1="290.1" x2="178" y2="290.1" stroke="#111" stroke-width="1.6"/>
<text x="173.2" y="293.0" text-anchor="end" font-family="Liberation Sans, sans-serif" font-weight="bold" font-size="9.3" fill="#141414">1.0</text>
<line x1="174.4" y1="268.6" x2="178" y2="268.6" stroke="#111" stroke-width="1.6"/>
<text x="173.2" y="271.5" text-anchor="end" font-family="Liberation Sans, sans-serif" font-weight="bold" font-size="9.3" fill="#141414">1.5</text>
<line x1="174.4" y1="247.0" x2="178" y2="247.0" stroke="#111" stroke-width="1.6"/>
<text x="173.2" y="249.9" text-anchor="end" font-family="Liberation Sans, sans-serif" font-weight="bold" font-size="9.3" fill="#141414">2.0</text>
<line x1="174.4" y1="225.4" x2="178" y2="225.4" stroke="#111" stroke-width="1.6"/>
<text x="173.2" y="228.3" text-anchor="end" font-family="Liberation Sans, sans-serif" font-weight="bold" font-size="9.3" fill="#141414">2.5</text>
<line x1="197.2" y1="333.3" x2="197.2" y2="336.90000000000003" stroke="#111" stroke-width="1.6"/>
<line x1="241.1" y1="333.3" x2="241.1" y2="336.90000000000003" stroke="#111" stroke-width="1.6"/>
<text x="197.2" y="347.7" text-anchor="middle" font-family="Liberation Sans, sans-serif" font-weight="bold" font-size="9.7" fill="#141414">Male</text>
<text x="241.1" y="347.7" text-anchor="middle" font-family="Liberation Sans, sans-serif" font-weight="bold" font-size="9.7" fill="#141414">Female</text>
<text transform="translate(154.9,278.75) rotate(-90)" text-anchor="middle" textLength="105.5" lengthAdjust="spacingAndGlyphs" font-family="Liberation Sans, sans-serif" font-weight="bold" font-size="9.2" fill="#141414">Length (<tspan font-weight="normal">×</tspan>10<tspan baseline-shift="super" font-size="6.5">3</tspan> mm/mm<tspan baseline-shift="super" font-size="6.5">3</tspan>)</text>
<text x="183.2" y="327.5" font-family="Liberation Sans, sans-serif" font-style="italic" font-size="10" fill="#141414">* Diet main effect</text>
<g stroke="#1a9b64" stroke-width="1.8" fill="none"><line x1="188.7" y1="249.9" x2="188.7" y2="254.20000000000002"/><line x1="185.39999999999998" y1="249.9" x2="192.0" y2="249.9"/><line x1="188.7" y1="265.5" x2="188.7" y2="269.9"/><line x1="185.39999999999998" y1="269.9" x2="192.0" y2="269.9"/><rect x="184.25" y="254.20000000000002" width="8.9" height="11.299999999999983" fill="none"/><line x1="184.25" y1="263.4" x2="193.14999999999998" y2="263.4"/></g><circle cx="188.6" cy="249.9" r="1.48" fill="#1c1c1c"/><circle cx="188.6" cy="253.5" r="1.48" fill="#1c1c1c"/><circle cx="188.6" cy="259.1" r="1.48" fill="#1c1c1c"/><circle cx="186.7" cy="264.7" r="1.48" fill="#1c1c1c"/><circle cx="190.8" cy="265.6" r="1.48" fill="#1c1c1c"/><circle cx="188.6" cy="269.9" r="1.48" fill="#1c1c1c"/>
<g stroke="#a5181e" stroke-width="1.8" fill="none"><line x1="205.5" y1="236.4" x2="205.5" y2="241.70000000000002"/><line x1="202.2" y1="236.4" x2="208.8" y2="236.4"/><rect x="201.05" y="241.70000000000002" width="8.9" height="9.199999999999989" fill="#f4dcdc"/><line x1="201.05" y1="249.6" x2="209.95" y2="249.6"/></g><circle cx="205.4" cy="236.4" r="1.48" fill="#1c1c1c"/><circle cx="205.4" cy="244.1" r="1.48" fill="#1c1c1c"/><circle cx="205.4" cy="247.8" r="1.48" fill="#1c1c1c"/><circle cx="203.3" cy="251.8" r="1.48" fill="#1c1c1c"/><circle cx="207.2" cy="251.8" r="1.48" fill="#1c1c1c"/>
<g stroke="#1a9b64" stroke-width="1.8" fill="none"><line x1="232.4" y1="243.7" x2="232.4" y2="247.20000000000002"/><line x1="229.1" y1="243.7" x2="235.70000000000002" y2="243.7"/><line x1="232.4" y1="271.6" x2="232.4" y2="275.4"/><line x1="229.1" y1="275.4" x2="235.70000000000002" y2="275.4"/><rect x="227.95000000000002" y="247.20000000000002" width="8.9" height="24.400000000000006" fill="none"/><line x1="227.95000000000002" y1="263.4" x2="236.85" y2="263.4"/></g><circle cx="232.5" cy="243.7" r="1.48" fill="#1c1c1c"/><circle cx="232.5" cy="248.4" r="1.48" fill="#1c1c1c"/><circle cx="232.5" cy="263.1" r="1.48" fill="#1c1c1c"/><circle cx="232.5" cy="270.2" r="1.48" fill="#1c1c1c"/><circle cx="232.5" cy="275.4" r="1.48" fill="#1c1c1c"/>
<g stroke="#a5181e" stroke-width="1.8" fill="none"><line x1="249.3" y1="242.6" x2="249.3" y2="246.0"/><line x1="246.0" y1="242.6" x2="252.60000000000002" y2="242.6"/><rect x="244.85000000000002" y="246.0" width="8.9" height="17.80000000000001" fill="#f4dcdc"/><line x1="244.85000000000002" y1="247.2" x2="253.75" y2="247.2"/></g><circle cx="249.3" cy="242.6" r="1.48" fill="#1c1c1c"/><circle cx="249.3" cy="245.3" r="1.48" fill="#1c1c1c"/><circle cx="249.3" cy="249" r="1.48" fill="#1c1c1c"/><circle cx="247.2" cy="265.3" r="1.48" fill="#1c1c1c"/><circle cx="251.1" cy="264.7" r="1.48" fill="#1c1c1c"/>
<text x="286.8" y="207.8" font-family="Liberation Sans, sans-serif" font-weight="bold" font-size="15" fill="#111">g</text>
<text x="360.8" y="221.4" text-anchor="middle" font-family="Liberation Sans, sans-serif" font-weight="bold" font-size="11.2" fill="#111">Parietal cortex</text>
<path d="M319.3,224.9 L319.3,333.3 L403.6,333.3" fill="none" stroke="#111" stroke-width="1.9"/>
<line x1="315.7" y1="333.3" x2="319.3" y2="333.3" stroke="#111" stroke-width="1.6"/>
<text x="314.5" y="336.2" text-anchor="end" font-family="Liberation Sans, sans-serif" font-weight="bold" font-size="9.3" fill="#141414">0.0</text>
<line x1="315.7" y1="311.7" x2="319.3" y2="311.7" stroke="#111" stroke-width="1.6"/>
<text x="314.5" y="314.6" text-anchor="end" font-family="Liberation Sans, sans-serif" font-weight="bold" font-size="9.3" fill="#141414">0.5</text>
<line x1="315.7" y1="290.1" x2="319.3" y2="290.1" stroke="#111" stroke-width="1.6"/>
<text x="314.5" y="293.0" text-anchor="end" font-family="Liberation Sans, sans-serif" font-weight="bold" font-size="9.3" fill="#141414">1.0</text>
<line x1="315.7" y1="268.6" x2="319.3" y2="268.6" stroke="#111" stroke-width="1.6"/>
<text x="314.5" y="271.5" text-anchor="end" font-family="Liberation Sans, sans-serif" font-weight="bold" font-size="9.3" fill="#141414">1.5</text>
<line x1="315.7" y1="247.0" x2="319.3" y2="247.0" stroke="#111" stroke-width="1.6"/>
<text x="314.5" y="249.9" text-anchor="end" font-family="Liberation Sans, sans-serif" font-weight="bold" font-size="9.3" fill="#141414">2.0</text>
<line x1="315.7" y1="225.4" x2="319.3" y2="225.4" stroke="#111" stroke-width="1.6"/>
<text x="314.5" y="228.3" text-anchor="end" font-family="Liberation Sans, sans-serif" font-weight="bold" font-size="9.3" fill="#141414">2.5</text>
<line x1="338.5" y1="333.3" x2="338.5" y2="336.90000000000003" stroke="#111" stroke-width="1.6"/>
<line x1="382.40000000000003" y1="333.3" x2="382.40000000000003" y2="336.90000000000003" stroke="#111" stroke-width="1.6"/>
<text x="338.5" y="347.7" text-anchor="middle" font-family="Liberation Sans, sans-serif" font-weight="bold" font-size="9.7" fill="#141414">Male</text>
<text x="382.40000000000003" y="347.7" text-anchor="middle" font-family="Liberation Sans, sans-serif" font-weight="bold" font-size="9.7" fill="#141414">Female</text>
<text transform="translate(295.6,278.45) rotate(-90)" text-anchor="middle" textLength="105.5" lengthAdjust="spacingAndGlyphs" font-family="Liberation Sans, sans-serif" font-weight="bold" font-size="9.2" fill="#141414">Length (<tspan font-weight="normal">×</tspan>10<tspan baseline-shift="super" font-size="6.5">3</tspan> mm/mm<tspan baseline-shift="super" font-size="6.5">3</tspan>)</text>
<text x="324.5" y="327.5" font-family="Liberation Sans, sans-serif" font-style="italic" font-size="10" fill="#141414">*** Diet main effect</text>
<g stroke="#1a9b64" stroke-width="1.8" fill="none"><line x1="330.2" y1="249.5" x2="330.2" y2="252.0"/><line x1="326.9" y1="249.5" x2="333.5" y2="249.5"/><line x1="330.2" y1="255.70000000000002" x2="330.2" y2="261.6"/><line x1="326.9" y1="261.6" x2="333.5" y2="261.6"/><rect x="325.75" y="252.0" width="8.9" height="3.700000000000017" fill="none"/><line x1="325.75" y1="253.9" x2="334.65" y2="253.9"/></g><circle cx="332" cy="249.4" r="1.48" fill="#1c1c1c"/><circle cx="328.4" cy="251.1" r="1.48" fill="#1c1c1c"/><circle cx="332" cy="252.7" r="1.48" fill="#1c1c1c"/><circle cx="329.6" cy="254.5" r="1.48" fill="#1c1c1c"/><circle cx="330.2" cy="261.6" r="1.48" fill="#1c1c1c"/>
<g stroke="#a5181e" stroke-width="1.8" fill="none"><line x1="346.7" y1="237.6" x2="346.7" y2="241.0"/><line x1="343.4" y1="237.6" x2="350.0" y2="237.6"/><rect x="342.25" y="241.0" width="8.9" height="2.1999999999999886" fill="#f4dcdc"/><line x1="342.25" y1="242.3" x2="351.15" y2="242.3"/></g><circle cx="346.5" cy="237.6" r="1.48" fill="#1c1c1c"/><circle cx="343.1" cy="241" r="1.48" fill="#1c1c1c"/><circle cx="343.1" cy="243.2" r="1.48" fill="#1c1c1c"/><circle cx="347.4" cy="242.3" r="1.48" fill="#1c1c1c"/><circle cx="350.4" cy="242.3" r="1.48" fill="#1c1c1c"/>
<g stroke="#1a9b64" stroke-width="1.8" fill="none"><line x1="374.1" y1="261.8" x2="374.1" y2="266.8"/><line x1="370.8" y1="266.8" x2="377.40000000000003" y2="266.8"/><rect x="369.65000000000003" y="250.8" width="8.9" height="11.0" fill="none"/><line x1="369.65000000000003" y1="256.4" x2="378.55" y2="256.4"/></g><circle cx="372.3" cy="249.9" r="1.48" fill="#1c1c1c"/><circle cx="375.6" cy="249.9" r="1.48" fill="#1c1c1c"/><circle cx="371.9" cy="257.2" r="1.48" fill="#1c1c1c"/><circle cx="375.9" cy="259.1" r="1.48" fill="#1c1c1c"/><circle cx="374" cy="266.8" r="1.48" fill="#1c1c1c"/>
<g stroke="#a5181e" stroke-width="1.8" fill="none"><line x1="390.5" y1="251.5" x2="390.5" y2="254.5"/><line x1="387.2" y1="254.5" x2="393.8" y2="254.5"/><rect x="386.05" y="241.3" width="8.9" height="10.199999999999989" fill="#f4dcdc"/><line x1="386.05" y1="250" x2="394.95" y2="250"/></g><circle cx="388.4" cy="240.4" r="1.48" fill="#1c1c1c"/><circle cx="392.7" cy="241.3" r="1.48" fill="#1c1c1c"/><circle cx="388.4" cy="250.6" r="1.48" fill="#1c1c1c"/><circle cx="392.1" cy="250.6" r="1.48" fill="#1c1c1c"/><circle cx="390.3" cy="254.5" r="1.48" fill="#1c1c1c"/>
<text x="428.8" y="207.8" font-family="Liberation Sans, sans-serif" font-weight="bold" font-size="15" fill="#111">h</text>
<text x="501.2" y="221.4" text-anchor="middle" font-family="Liberation Sans, sans-serif" font-weight="bold" font-size="11.2" fill="#111">Occipital cortex</text>
<path d="M459.7,224.9 L459.7,333.3 L544.0,333.3" fill="none" stroke="#111" stroke-width="1.9"/>
<line x1="456.09999999999997" y1="333.3" x2="459.7" y2="333.3" stroke="#111" stroke-width="1.6"/>
<text x="454.9" y="336.2" text-anchor="end" font-family="Liberation Sans, sans-serif" font-weight="bold" font-size="9.3" fill="#141414">0.0</text>
<line x1="456.09999999999997" y1="311.7" x2="459.7" y2="311.7" stroke="#111" stroke-width="1.6"/>
<text x="454.9" y="314.6" text-anchor="end" font-family="Liberation Sans, sans-serif" font-weight="bold" font-size="9.3" fill="#141414">0.5</text>
<line x1="456.09999999999997" y1="290.1" x2="459.7" y2="290.1" stroke="#111" stroke-width="1.6"/>
<text x="454.9" y="293.0" text-anchor="end" font-family="Liberation Sans, sans-serif" font-weight="bold" font-size="9.3" fill="#141414">1.0</text>
<line x1="456.09999999999997" y1="268.6" x2="459.7" y2="268.6" stroke="#111" stroke-width="1.6"/>
<text x="454.9" y="271.5" text-anchor="end" font-family="Liberation Sans, sans-serif" font-weight="bold" font-size="9.3" fill="#141414">1.5</text>
<line x1="456.09999999999997" y1="247.0" x2="459.7" y2="247.0" stroke="#111" stroke-width="1.6"/>
<text x="454.9" y="249.9" text-anchor="end" font-family="Liberation Sans, sans-serif" font-weight="bold" font-size="9.3" fill="#141414">2.0</text>
<line x1="456.09999999999997" y1="225.4" x2="459.7" y2="225.4" stroke="#111" stroke-width="1.6"/>
<text x="454.9" y="228.3" text-anchor="end" font-family="Liberation Sans, sans-serif" font-weight="bold" font-size="9.3" fill="#141414">2.5</text>
<line x1="478.9" y1="333.3" x2="478.9" y2="336.90000000000003" stroke="#111" stroke-width="1.6"/>
<line x1="522.8" y1="333.3" x2="522.8" y2="336.90000000000003" stroke="#111" stroke-width="1.6"/>
<text x="478.9" y="347.7" text-anchor="middle" font-family="Liberation Sans, sans-serif" font-weight="bold" font-size="9.7" fill="#141414">Male</text>
<text x="522.8" y="347.7" text-anchor="middle" font-family="Liberation Sans, sans-serif" font-weight="bold" font-size="9.7" fill="#141414">Female</text>
<text transform="translate(437.5,280.55) rotate(-90)" text-anchor="middle" textLength="103.5" lengthAdjust="spacingAndGlyphs" font-family="Liberation Sans, sans-serif" font-weight="bold" font-size="9.2" fill="#141414">Length (<tspan font-weight="normal">×</tspan>10<tspan baseline-shift="super" font-size="6.5">3</tspan> mm/mm<tspan baseline-shift="super" font-size="6.5">3</tspan>)</text>
<text x="464.9" y="327.5" font-family="Liberation Sans, sans-serif" font-style="italic" font-size="10" fill="#141414">* Diet main effect</text>
<g stroke="#1a9b64" stroke-width="1.8" fill="none"><line x1="470.6" y1="271.5" x2="470.6" y2="289"/><line x1="467.3" y1="289" x2="473.90000000000003" y2="289"/><rect x="466.15000000000003" y="264.09999999999997" width="8.9" height="7.400000000000034" fill="none"/><line x1="466.15000000000003" y1="266.3" x2="475.05" y2="266.3"/></g><circle cx="469" cy="262.2" r="1.48" fill="#1c1c1c"/><circle cx="472.6" cy="263" r="1.48" fill="#1c1c1c"/><circle cx="467.1" cy="266.3" r="1.48" fill="#1c1c1c"/><circle cx="470.6" cy="267.5" r="1.48" fill="#1c1c1c"/><circle cx="474.2" cy="266.3" r="1.48" fill="#1c1c1c"/><circle cx="470.6" cy="289" r="1.48" fill="#1c1c1c"/>
<g stroke="#a5181e" stroke-width="1.8" fill="none"><line x1="487.4" y1="259.90000000000003" x2="487.4" y2="265.4"/><line x1="484.09999999999997" y1="265.4" x2="490.7" y2="265.4"/><rect x="482.95" y="247.5" width="8.9" height="12.400000000000034" fill="#f4dcdc"/><line x1="482.95" y1="252.2" x2="491.84999999999997" y2="252.2"/></g><circle cx="485.5" cy="245.4" r="1.48" fill="#1c1c1c"/><circle cx="489.2" cy="246.6" r="1.48" fill="#1c1c1c"/><circle cx="487.4" cy="253.1" r="1.48" fill="#1c1c1c"/><circle cx="487.4" cy="256.8" r="1.48" fill="#1c1c1c"/><circle cx="487.4" cy="265.4" r="1.48" fill="#1c1c1c"/>
<g stroke="#1a9b64" stroke-width="1.8" fill="none"><line x1="514.6" y1="260.8" x2="514.6" y2="265.9"/><line x1="511.3" y1="260.8" x2="517.9" y2="260.8"/><line x1="514.6" y1="274.0" x2="514.6" y2="281.4"/><line x1="511.3" y1="281.4" x2="517.9" y2="281.4"/><rect x="510.15000000000003" y="265.9" width="8.9" height="8.100000000000023" fill="none"/><line x1="510.15000000000003" y1="269.1" x2="519.0500000000001" y2="269.1"/></g><circle cx="514.3" cy="260.8" r="1.48" fill="#1c1c1c"/><circle cx="511.3" cy="269.1" r="1.48" fill="#1c1c1c"/><circle cx="514.3" cy="269.1" r="1.48" fill="#1c1c1c"/><circle cx="517.6" cy="269.1" r="1.48" fill="#1c1c1c"/><circle cx="514.3" cy="281.4" r="1.48" fill="#1c1c1c"/>
<g stroke="#a5181e" stroke-width="1.8" fill="none"><line x1="531.2" y1="260.1" x2="531.2" y2="263.09999999999997"/><line x1="527.9000000000001" y1="260.1" x2="534.5" y2="260.1"/><rect x="526.75" y="263.09999999999997" width="8.9" height="6.000000000000057" fill="#f4dcdc"/><line x1="526.75" y1="265.4" x2="535.6500000000001" y2="265.4"/></g><circle cx="530.9" cy="260.1" r="1.48" fill="#1c1c1c"/><circle cx="530.9" cy="262.6" r="1.48" fill="#1c1c1c"/><circle cx="529" cy="270.3" r="1.48" fill="#1c1c1c"/><circle cx="532.7" cy="270.3" r="1.48" fill="#1c1c1c"/><circle cx="530.9" cy="267.5" r="1.48" fill="#1c1c1c"/>
<text x="567" y="207.8" font-family="Liberation Sans, sans-serif" font-weight="bold" font-size="15" fill="#111">i</text>
<text x="641.8" y="221.4" text-anchor="middle" font-family="Liberation Sans, sans-serif" font-weight="bold" font-size="11.2" fill="#111">Hippocampus</text>
<path d="M600.3,224.9 L600.3,333.3 L684.5999999999999,333.3" fill="none" stroke="#111" stroke-width="1.9"/>
<line x1="596.6999999999999" y1="333.3" x2="600.3" y2="333.3" stroke="#111" stroke-width="1.6"/>
<text x="595.5" y="336.2" text-anchor="end" font-family="Liberation Sans, sans-serif" font-weight="bold" font-size="9.3" fill="#141414">0.0</text>
<line x1="596.6999999999999" y1="315.3" x2="600.3" y2="315.3" stroke="#111" stroke-width="1.6"/>
<text x="595.5" y="318.2" text-anchor="end" font-family="Liberation Sans, sans-serif" font-weight="bold" font-size="9.3" fill="#141414">0.5</text>
<line x1="596.6999999999999" y1="297.3" x2="600.3" y2="297.3" stroke="#111" stroke-width="1.6"/>
<text x="595.5" y="300.2" text-anchor="end" font-family="Liberation Sans, sans-serif" font-weight="bold" font-size="9.3" fill="#141414">1.0</text>
<line x1="596.6999999999999" y1="279.4" x2="600.3" y2="279.4" stroke="#111" stroke-width="1.6"/>
<text x="595.5" y="282.2" text-anchor="end" font-family="Liberation Sans, sans-serif" font-weight="bold" font-size="9.3" fill="#141414">1.5</text>
<line x1="596.6999999999999" y1="261.4" x2="600.3" y2="261.4" stroke="#111" stroke-width="1.6"/>
<text x="595.5" y="264.3" text-anchor="end" font-family="Liberation Sans, sans-serif" font-weight="bold" font-size="9.3" fill="#141414">2.0</text>
<line x1="596.6999999999999" y1="243.4" x2="600.3" y2="243.4" stroke="#111" stroke-width="1.6"/>
<text x="595.5" y="246.3" text-anchor="end" font-family="Liberation Sans, sans-serif" font-weight="bold" font-size="9.3" fill="#141414">2.5</text>
<line x1="596.6999999999999" y1="225.4" x2="600.3" y2="225.4" stroke="#111" stroke-width="1.6"/>
<text x="595.5" y="228.3" text-anchor="end" font-family="Liberation Sans, sans-serif" font-weight="bold" font-size="9.3" fill="#141414">3.0</text>
<line x1="619.5" y1="333.3" x2="619.5" y2="336.90000000000003" stroke="#111" stroke-width="1.6"/>
<line x1="663.4" y1="333.3" x2="663.4" y2="336.90000000000003" stroke="#111" stroke-width="1.6"/>
<text x="619.5" y="347.7" text-anchor="middle" font-family="Liberation Sans, sans-serif" font-weight="bold" font-size="9.7" fill="#141414">Male</text>
<text x="663.4" y="347.7" text-anchor="middle" font-family="Liberation Sans, sans-serif" font-weight="bold" font-size="9.7" fill="#141414">Female</text>
<text transform="translate(576.4,277.2) rotate(-90)" text-anchor="middle" textLength="103.0" lengthAdjust="spacingAndGlyphs" font-family="Liberation Sans, sans-serif" font-weight="bold" font-size="9.2" fill="#141414">Length (<tspan font-weight="normal">×</tspan>10<tspan baseline-shift="super" font-size="6.5">3</tspan> mm/mm<tspan baseline-shift="super" font-size="6.5">3</tspan>)</text>
<g stroke="#1a9b64" stroke-width="1.8" fill="none"><line x1="611.3" y1="268" x2="611.3" y2="277.29999999999995"/><line x1="608.0" y1="268" x2="614.5999999999999" y2="268"/><rect x="606.8499999999999" y="277.29999999999995" width="8.9" height="12.10000000000008" fill="none"/><line x1="605.55" y1="287.2" x2="617.05" y2="287.2"/></g><circle cx="611.4" cy="268" r="1.48" fill="#1c1c1c"/><circle cx="611.4" cy="279" r="1.48" fill="#1c1c1c"/><circle cx="611.4" cy="286.4" r="1.48" fill="#1c1c1c"/><circle cx="607.7" cy="290.5" r="1.48" fill="#1c1c1c"/><circle cx="615.1" cy="290.5" r="1.48" fill="#1c1c1c"/>
<g stroke="#a5181e" stroke-width="1.8" fill="none"><line x1="628" y1="267.2" x2="628" y2="270.29999999999995"/><line x1="624.7" y1="267.2" x2="631.3" y2="267.2"/><line x1="628" y1="275.90000000000003" x2="628" y2="279.5"/><line x1="624.7" y1="279.5" x2="631.3" y2="279.5"/><rect x="623.55" y="270.29999999999995" width="8.9" height="5.60000000000008" fill="#f4dcdc"/><line x1="622.25" y1="272.5" x2="633.75" y2="272.5"/></g><circle cx="627.7" cy="267.2" r="1.48" fill="#1c1c1c"/><circle cx="627.7" cy="270.7" r="1.48" fill="#1c1c1c"/><circle cx="626.1" cy="276.5" r="1.48" fill="#1c1c1c"/><circle cx="629.4" cy="276.8" r="1.48" fill="#1c1c1c"/><circle cx="627.7" cy="279.5" r="1.48" fill="#1c1c1c"/>
<g stroke="#1a9b64" stroke-width="1.8" fill="none"><line x1="655.2" y1="252.3" x2="655.2" y2="264.79999999999995"/><line x1="651.9000000000001" y1="252.3" x2="658.5" y2="252.3"/><line x1="655.2" y1="289.40000000000003" x2="655.2" y2="293.5"/><line x1="651.9000000000001" y1="293.5" x2="658.5" y2="293.5"/><rect x="650.75" y="264.79999999999995" width="8.9" height="24.60000000000008" fill="none"/><line x1="649.45" y1="286.6" x2="660.95" y2="286.6"/></g><circle cx="655" cy="252.3" r="1.48" fill="#1c1c1c"/><circle cx="655" cy="274.3" r="1.48" fill="#1c1c1c"/><circle cx="655" cy="286.6" r="1.48" fill="#1c1c1c"/><circle cx="655" cy="288.4" r="1.48" fill="#1c1c1c"/><circle cx="655" cy="293.5" r="1.48" fill="#1c1c1c"/>
<g stroke="#a5181e" stroke-width="1.8" fill="none"><line x1="671.8" y1="282.9" x2="671.8" y2="286.0"/><line x1="668.5" y1="282.9" x2="675.0999999999999" y2="282.9"/><line x1="671.8" y1="289.1" x2="671.8" y2="292.7"/><line x1="668.5" y1="292.7" x2="675.0999999999999" y2="292.7"/><rect x="667.3499999999999" y="286.0" width="8.9" height="3.1000000000000227" fill="#f4dcdc"/><line x1="666.05" y1="287.6" x2="677.55" y2="287.6"/></g><circle cx="671.5" cy="282.9" r="1.48" fill="#1c1c1c"/><circle cx="669.7" cy="286.4" r="1.48" fill="#1c1c1c"/><circle cx="673.4" cy="286.4" r="1.48" fill="#1c1c1c"/><circle cx="670.3" cy="288.4" r="1.48" fill="#1c1c1c"/><circle cx="671.5" cy="292.7" r="1.48" fill="#1c1c1c"/>
<text x="5.5" y="394.8" font-family="Liberation Sans, sans-serif" font-weight="bold" font-size="15" fill="#111">j</text>
<text x="70.2" y="406.0" text-anchor="middle" font-family="Liberation Sans, sans-serif" font-weight="bold" font-size="11.2" fill="#111">Whole cortex</text>
<path d="M28.7,409.5 L28.7,518.3 L113.0,518.3" fill="none" stroke="#111" stroke-width="1.9"/>
<line x1="25.099999999999998" y1="518.3" x2="28.7" y2="518.3" stroke="#111" stroke-width="1.6"/>
<text x="23.9" y="521.2" text-anchor="end" font-family="Liberation Sans, sans-serif" font-weight="bold" font-size="9.3" fill="#141414">0</text>
<line x1="25.099999999999998" y1="500.2" x2="28.7" y2="500.2" stroke="#111" stroke-width="1.6"/>
<text x="23.9" y="503.1" text-anchor="end" font-family="Liberation Sans, sans-serif" font-weight="bold" font-size="9.3" fill="#141414">1</text>
<line x1="25.099999999999998" y1="482.2" x2="28.7" y2="482.2" stroke="#111" stroke-width="1.6"/>
<text x="23.9" y="485.1" text-anchor="end" font-family="Liberation Sans, sans-serif" font-weight="bold" font-size="9.3" fill="#141414">2</text>
<line x1="25.099999999999998" y1="464.1" x2="28.7" y2="464.1" stroke="#111" stroke-width="1.6"/>
<text x="23.9" y="467.0" text-anchor="end" font-family="Liberation Sans, sans-serif" font-weight="bold" font-size="9.3" fill="#141414">3</text>
<line x1="25.099999999999998" y1="446.1" x2="28.7" y2="446.1" stroke="#111" stroke-width="1.6"/>
<text x="23.9" y="449.0" text-anchor="end" font-family="Liberation Sans, sans-serif" font-weight="bold" font-size="9.3" fill="#141414">4</text>
<line x1="25.099999999999998" y1="428.0" x2="28.7" y2="428.0" stroke="#111" stroke-width="1.6"/>
<text x="23.9" y="430.9" text-anchor="end" font-family="Liberation Sans, sans-serif" font-weight="bold" font-size="9.3" fill="#141414">5</text>
<line x1="25.099999999999998" y1="410.0" x2="28.7" y2="410.0" stroke="#111" stroke-width="1.6"/>
<text x="23.9" y="412.9" text-anchor="end" font-family="Liberation Sans, sans-serif" font-weight="bold" font-size="9.3" fill="#141414">6</text>
<line x1="47.9" y1="518.3" x2="47.9" y2="521.9" stroke="#111" stroke-width="1.6"/>
<line x1="91.8" y1="518.3" x2="91.8" y2="521.9" stroke="#111" stroke-width="1.6"/>
<text x="47.9" y="532.6999999999999" text-anchor="middle" font-family="Liberation Sans, sans-serif" font-weight="bold" font-size="9.7" fill="#141414">Male</text>
<text x="91.8" y="532.6999999999999" text-anchor="middle" font-family="Liberation Sans, sans-serif" font-weight="bold" font-size="9.7" fill="#141414">Female</text>
<text transform="translate(12.5,463.85) rotate(-90)" text-anchor="middle" textLength="93.1" lengthAdjust="spacingAndGlyphs" font-family="Liberation Sans, sans-serif" font-weight="bold" font-size="9.2" fill="#141414">Number (<tspan font-weight="normal">×</tspan>10<tspan baseline-shift="super" font-size="6.5">4</tspan>/mm<tspan baseline-shift="super" font-size="6.5">3</tspan>)</text>
<text x="33.9" y="512.5" font-family="Liberation Sans, sans-serif" font-style="italic" font-size="10" fill="#141414">*** Diet main effect</text>
<g stroke="#1a9b64" stroke-width="1.8" fill="none"><line x1="39.6" y1="454.8" x2="39.6" y2="460.29999999999995"/><line x1="36.300000000000004" y1="454.8" x2="42.9" y2="454.8"/><line x1="39.6" y1="470.5" x2="39.6" y2="473.9"/><line x1="36.300000000000004" y1="473.9" x2="42.9" y2="473.9"/><rect x="35.15" y="460.29999999999995" width="8.9" height="10.200000000000045" fill="none"/><line x1="35.15" y1="465.8" x2="44.050000000000004" y2="465.8"/></g><circle cx="39.6" cy="454.8" r="1.48" fill="#1c1c1c"/><circle cx="39.6" cy="460" r="1.48" fill="#1c1c1c"/><circle cx="39.6" cy="463.4" r="1.48" fill="#1c1c1c"/><circle cx="39.6" cy="468" r="1.48" fill="#1c1c1c"/><circle cx="39.6" cy="473.9" r="1.48" fill="#1c1c1c"/>
<g stroke="#a5181e" stroke-width="1.8" fill="none"><line x1="56.4" y1="450.5" x2="56.4" y2="453.2"/><line x1="53.1" y1="453.2" x2="59.699999999999996" y2="453.2"/><rect x="51.949999999999996" y="438.9" width="8.9" height="11.600000000000023" fill="#f4dcdc"/><line x1="51.949999999999996" y1="449.5" x2="60.85" y2="449.5"/></g><circle cx="54.5" cy="438" r="1.48" fill="#1c1c1c"/><circle cx="58.2" cy="438" r="1.48" fill="#1c1c1c"/><circle cx="54.3" cy="449" r="1.48" fill="#1c1c1c"/><circle cx="58.2" cy="450.2" r="1.48" fill="#1c1c1c"/><circle cx="56" cy="453.2" r="1.48" fill="#1c1c1c"/>
<g stroke="#1a9b64" stroke-width="1.8" fill="none"><line x1="83.5" y1="448.6" x2="83.5" y2="451.09999999999997"/><line x1="80.2" y1="448.6" x2="86.8" y2="448.6"/><line x1="83.5" y1="464.90000000000003" x2="83.5" y2="470.2"/><line x1="80.2" y1="470.2" x2="86.8" y2="470.2"/><rect x="79.05" y="451.09999999999997" width="8.9" height="13.800000000000068" fill="none"/><line x1="79.05" y1="452.1" x2="87.95" y2="452.1"/></g><circle cx="83.3" cy="448.6" r="1.48" fill="#1c1c1c"/><circle cx="83.3" cy="450.6" r="1.48" fill="#1c1c1c"/><circle cx="83.3" cy="452.7" r="1.48" fill="#1c1c1c"/><circle cx="83.3" cy="461.9" r="1.48" fill="#1c1c1c"/><circle cx="83.3" cy="470.2" r="1.48" fill="#1c1c1c"/>
<g stroke="#a5181e" stroke-width="1.8" fill="none"><line x1="100" y1="430.8" x2="100" y2="436.7"/><line x1="96.7" y1="430.8" x2="103.3" y2="430.8"/><rect x="95.55" y="436.7" width="8.9" height="17.80000000000001" fill="#f4dcdc"/><line x1="95.55" y1="447.4" x2="104.45" y2="447.4"/></g><circle cx="99.9" cy="430.8" r="1.48" fill="#1c1c1c"/><circle cx="99.9" cy="440" r="1.48" fill="#1c1c1c"/><circle cx="99.9" cy="447.4" r="1.48" fill="#1c1c1c"/><circle cx="98" cy="455.6" r="1.48" fill="#1c1c1c"/><circle cx="101.7" cy="455.6" r="1.48" fill="#1c1c1c"/>
<text x="139.2" y="394.8" font-family="Liberation Sans, sans-serif" font-weight="bold" font-size="15" fill="#111">k</text>
<text x="212.5" y="406.0" text-anchor="middle" font-family="Liberation Sans, sans-serif" font-weight="bold" font-size="11.2" fill="#111">Anterior cortex</text>
<path d="M171.0,409.5 L171.0,518.3 L255.3,518.3" fill="none" stroke="#111" stroke-width="1.9"/>
<line x1="167.4" y1="518.3" x2="171.0" y2="518.3" stroke="#111" stroke-width="1.6"/>
<text x="166.2" y="521.2" text-anchor="end" font-family="Liberation Sans, sans-serif" font-weight="bold" font-size="9.3" fill="#141414">0</text>
<line x1="167.4" y1="500.2" x2="171.0" y2="500.2" stroke="#111" stroke-width="1.6"/>
<text x="166.2" y="503.1" text-anchor="end" font-family="Liberation Sans, sans-serif" font-weight="bold" font-size="9.3" fill="#141414">1</text>
<line x1="167.4" y1="482.2" x2="171.0" y2="482.2" stroke="#111" stroke-width="1.6"/>
<text x="166.2" y="485.1" text-anchor="end" font-family="Liberation Sans, sans-serif" font-weight="bold" font-size="9.3" fill="#141414">2</text>
<line x1="167.4" y1="464.1" x2="171.0" y2="464.1" stroke="#111" stroke-width="1.6"/>
<text x="166.2" y="467.0" text-anchor="end" font-family="Liberation Sans, sans-serif" font-weight="bold" font-size="9.3" fill="#141414">3</text>
<line x1="167.4" y1="446.1" x2="171.0" y2="446.1" stroke="#111" stroke-width="1.6"/>
<text x="166.2" y="449.0" text-anchor="end" font-family="Liberation Sans, sans-serif" font-weight="bold" font-size="9.3" fill="#141414">4</text>
<line x1="167.4" y1="428.0" x2="171.0" y2="428.0" stroke="#111" stroke-width="1.6"/>
<text x="166.2" y="430.9" text-anchor="end" font-family="Liberation Sans, sans-serif" font-weight="bold" font-size="9.3" fill="#141414">5</text>
<line x1="167.4" y1="410.0" x2="171.0" y2="410.0" stroke="#111" stroke-width="1.6"/>
<text x="166.2" y="412.9" text-anchor="end" font-family="Liberation Sans, sans-serif" font-weight="bold" font-size="9.3" fill="#141414">6</text>
<line x1="190.2" y1="518.3" x2="190.2" y2="521.9" stroke="#111" stroke-width="1.6"/>
<line x1="234.1" y1="518.3" x2="234.1" y2="521.9" stroke="#111" stroke-width="1.6"/>
<text x="190.2" y="532.6999999999999" text-anchor="middle" font-family="Liberation Sans, sans-serif" font-weight="bold" font-size="9.7" fill="#141414">Male</text>
<text x="234.1" y="532.6999999999999" text-anchor="middle" font-family="Liberation Sans, sans-serif" font-weight="bold" font-size="9.7" fill="#141414">Female</text>
<text transform="translate(154.4,463.15) rotate(-90)" text-anchor="middle" textLength="94.1" lengthAdjust="spacingAndGlyphs" font-family="Liberation Sans, sans-serif" font-weight="bold" font-size="9.2" fill="#141414">Number (<tspan font-weight="normal">×</tspan>10<tspan baseline-shift="super" font-size="6.5">4</tspan>/mm<tspan baseline-shift="super" font-size="6.5">3</tspan>)</text>
<text x="176.2" y="512.5" font-family="Liberation Sans, sans-serif" font-style="italic" font-size="10" fill="#141414">* Diet main effect</text>
<g stroke="#1a9b64" stroke-width="1.8" fill="none"><line x1="181.8" y1="445" x2="181.8" y2="450.2"/><line x1="178.5" y1="445" x2="185.10000000000002" y2="445"/><line x1="181.8" y1="468.3" x2="181.8" y2="471.7"/><line x1="178.5" y1="471.7" x2="185.10000000000002" y2="471.7"/><rect x="177.35000000000002" y="450.2" width="8.9" height="18.100000000000023" fill="none"/><line x1="177.35000000000002" y1="465.9" x2="186.25" y2="465.9"/></g><circle cx="181.8" cy="445" r="1.48" fill="#1c1c1c"/><circle cx="181.8" cy="450" r="1.48" fill="#1c1c1c"/><circle cx="181.8" cy="463.8" r="1.48" fill="#1c1c1c"/><circle cx="180.1" cy="468.7" r="1.48" fill="#1c1c1c"/><circle cx="183.8" cy="469" r="1.48" fill="#1c1c1c"/><circle cx="181.8" cy="471.7" r="1.48" fill="#1c1c1c"/>
<g stroke="#a5181e" stroke-width="1.8" fill="none"><line x1="198.5" y1="418.9" x2="198.5" y2="427.79999999999995"/><line x1="195.2" y1="418.9" x2="201.8" y2="418.9"/><line x1="198.5" y1="447.5" x2="198.5" y2="454.9"/><line x1="195.2" y1="454.9" x2="201.8" y2="454.9"/><rect x="194.05" y="427.79999999999995" width="8.9" height="19.700000000000045" fill="#f4dcdc"/><line x1="194.05" y1="443" x2="202.95" y2="443"/></g><circle cx="198.4" cy="418.9" r="1.48" fill="#1c1c1c"/><circle cx="198.4" cy="433.6" r="1.48" fill="#1c1c1c"/><circle cx="196.3" cy="442.6" r="1.48" fill="#1c1c1c"/><circle cx="200.2" cy="443.8" r="1.48" fill="#1c1c1c"/><circle cx="198.4" cy="454.9" r="1.48" fill="#1c1c1c"/>
<g stroke="#1a9b64" stroke-width="1.8" fill="none"><line x1="225.7" y1="433.4" x2="225.7" y2="437.0"/><line x1="222.39999999999998" y1="433.4" x2="229.0" y2="433.4"/><line x1="225.7" y1="467.40000000000003" x2="225.7" y2="471.4"/><line x1="222.39999999999998" y1="471.4" x2="229.0" y2="471.4"/><rect x="221.25" y="437.0" width="8.9" height="30.400000000000034" fill="none"/><line x1="221.25" y1="454.2" x2="230.14999999999998" y2="454.2"/></g><circle cx="225.7" cy="433.4" r="1.48" fill="#1c1c1c"/><circle cx="225.7" cy="437.7" r="1.48" fill="#1c1c1c"/><circle cx="225.7" cy="454.2" r="1.48" fill="#1c1c1c"/><circle cx="225.7" cy="465.5" r="1.48" fill="#1c1c1c"/><circle cx="225.7" cy="471.4" r="1.48" fill="#1c1c1c"/>
<g stroke="#a5181e" stroke-width="1.8" fill="none"><line x1="242.4" y1="426.4" x2="242.4" y2="431.0"/><line x1="239.1" y1="426.4" x2="245.70000000000002" y2="426.4"/><line x1="242.4" y1="457.6" x2="242.4" y2="460.6"/><line x1="239.1" y1="460.6" x2="245.70000000000002" y2="460.6"/><rect x="237.95000000000002" y="431.0" width="8.9" height="26.600000000000023" fill="#f4dcdc"/><line x1="237.95000000000002" y1="456" x2="246.85" y2="456"/></g><circle cx="242.4" cy="426.4" r="1.48" fill="#1c1c1c"/><circle cx="240.5" cy="434.4" r="1.48" fill="#1c1c1c"/><circle cx="244.1" cy="432.8" r="1.48" fill="#1c1c1c"/><circle cx="242.4" cy="457.3" r="1.48" fill="#1c1c1c"/><circle cx="242.4" cy="460.6" r="1.48" fill="#1c1c1c"/>
<text x="281" y="394.8" font-family="Liberation Sans, sans-serif" font-weight="bold" font-size="15" fill="#111">l</text>
<text x="355.0" y="406.0" text-anchor="middle" font-family="Liberation Sans, sans-serif" font-weight="bold" font-size="11.2" fill="#111">Parietal cortex</text>
<path d="M313.5,409.5 L313.5,518.3 L397.8,518.3" fill="none" stroke="#111" stroke-width="1.9"/>
<line x1="309.9" y1="518.3" x2="313.5" y2="518.3" stroke="#111" stroke-width="1.6"/>
<text x="308.7" y="521.2" text-anchor="end" font-family="Liberation Sans, sans-serif" font-weight="bold" font-size="9.3" fill="#141414">0</text>
<line x1="309.9" y1="500.2" x2="313.5" y2="500.2" stroke="#111" stroke-width="1.6"/>
<text x="308.7" y="503.1" text-anchor="end" font-family="Liberation Sans, sans-serif" font-weight="bold" font-size="9.3" fill="#141414">1</text>
<line x1="309.9" y1="482.2" x2="313.5" y2="482.2" stroke="#111" stroke-width="1.6"/>
<text x="308.7" y="485.1" text-anchor="end" font-family="Liberation Sans, sans-serif" font-weight="bold" font-size="9.3" fill="#141414">2</text>
<line x1="309.9" y1="464.1" x2="313.5" y2="464.1" stroke="#111" stroke-width="1.6"/>
<text x="308.7" y="467.0" text-anchor="end" font-family="Liberation Sans, sans-serif" font-weight="bold" font-size="9.3" fill="#141414">3</text>
<line x1="309.9" y1="446.1" x2="313.5" y2="446.1" stroke="#111" stroke-width="1.6"/>
<text x="308.7" y="449.0" text-anchor="end" font-family="Liberation Sans, sans-serif" font-weight="bold" font-size="9.3" fill="#141414">4</text>
<line x1="309.9" y1="428.0" x2="313.5" y2="428.0" stroke="#111" stroke-width="1.6"/>
<text x="308.7" y="430.9" text-anchor="end" font-family="Liberation Sans, sans-serif" font-weight="bold" font-size="9.3" fill="#141414">5</text>
<line x1="309.9" y1="410.0" x2="313.5" y2="410.0" stroke="#111" stroke-width="1.6"/>
<text x="308.7" y="412.9" text-anchor="end" font-family="Liberation Sans, sans-serif" font-weight="bold" font-size="9.3" fill="#141414">6</text>
<line x1="332.7" y1="518.3" x2="332.7" y2="521.9" stroke="#111" stroke-width="1.6"/>
<line x1="376.6" y1="518.3" x2="376.6" y2="521.9" stroke="#111" stroke-width="1.6"/>
<text x="332.7" y="532.6999999999999" text-anchor="middle" font-family="Liberation Sans, sans-serif" font-weight="bold" font-size="9.7" fill="#141414">Male</text>
<text x="376.6" y="532.6999999999999" text-anchor="middle" font-family="Liberation Sans, sans-serif" font-weight="bold" font-size="9.7" fill="#141414">Female</text>
<text transform="translate(296.8,463.65) rotate(-90)" text-anchor="middle" textLength="94.1" lengthAdjust="spacingAndGlyphs" font-family="Liberation Sans, sans-serif" font-weight="bold" font-size="9.2" fill="#141414">Number (<tspan font-weight="normal">×</tspan>10<tspan baseline-shift="super" font-size="6.5">4</tspan>/mm<tspan baseline-shift="super" font-size="6.5">3</tspan>)</text>
<text x="318.7" y="512.5" font-family="Liberation Sans, sans-serif" font-style="italic" font-size="10" fill="#141414">*** Diet main effect</text>
<g stroke="#1a9b64" stroke-width="1.8" fill="none"><line x1="324.3" y1="441" x2="324.3" y2="456.4"/><line x1="321.0" y1="441" x2="327.6" y2="441"/><line x1="324.3" y1="466.6" x2="324.3" y2="470.8"/><line x1="321.0" y1="470.8" x2="327.6" y2="470.8"/><rect x="319.85" y="456.4" width="8.9" height="10.200000000000045" fill="none"/><line x1="319.85" y1="462.2" x2="328.75" y2="462.2"/></g><circle cx="323.8" cy="441" r="1.48" fill="#1c1c1c"/><circle cx="322.4" cy="459.8" r="1.48" fill="#1c1c1c"/><circle cx="326.2" cy="459.8" r="1.48" fill="#1c1c1c"/><circle cx="324.3" cy="464" r="1.48" fill="#1c1c1c"/><circle cx="324.3" cy="470.8" r="1.48" fill="#1c1c1c"/>
<g stroke="#a5181e" stroke-width="1.8" fill="none"><line x1="340.5" y1="432.2" x2="340.5" y2="437.59999999999997"/><line x1="337.2" y1="432.2" x2="343.8" y2="432.2"/><rect x="336.05" y="437.59999999999997" width="8.9" height="7.2000000000000455" fill="#f4dcdc"/><line x1="336.05" y1="442.6" x2="344.95" y2="442.6"/></g><circle cx="340.5" cy="432.2" r="1.48" fill="#1c1c1c"/><circle cx="340.5" cy="440.1" r="1.48" fill="#1c1c1c"/><circle cx="338.5" cy="444.4" r="1.48" fill="#1c1c1c"/><circle cx="342.2" cy="445" r="1.48" fill="#1c1c1c"/><circle cx="338.5" cy="446.6" r="1.48" fill="#1c1c1c"/>
<g stroke="#1a9b64" stroke-width="1.8" fill="none"><line x1="367.9" y1="456.40000000000003" x2="367.9" y2="465.9"/><line x1="364.59999999999997" y1="465.9" x2="371.2" y2="465.9"/><rect x="363.45" y="448.0" width="8.9" height="8.400000000000034" fill="none"/><line x1="363.45" y1="450.6" x2="372.34999999999997" y2="450.6"/></g><circle cx="366.3" cy="445.7" r="1.48" fill="#1c1c1c"/><circle cx="369.9" cy="447.1" r="1.48" fill="#1c1c1c"/><circle cx="366.3" cy="450" r="1.48" fill="#1c1c1c"/><circle cx="369.9" cy="450" r="1.48" fill="#1c1c1c"/><circle cx="368" cy="465.9" r="1.48" fill="#1c1c1c"/>
<g stroke="#a5181e" stroke-width="1.8" fill="none"><line x1="384.4" y1="418.9" x2="384.4" y2="422.0"/><line x1="381.09999999999997" y1="418.9" x2="387.7" y2="418.9"/><line x1="384.4" y1="443.5" x2="384.4" y2="447.1"/><line x1="381.09999999999997" y1="447.1" x2="387.7" y2="447.1"/><rect x="379.95" y="422.0" width="8.9" height="21.5" fill="#f4dcdc"/><line x1="379.95" y1="438.3" x2="388.84999999999997" y2="438.3"/></g><circle cx="384.3" cy="418.9" r="1.48" fill="#1c1c1c"/><circle cx="384.3" cy="422.4" r="1.48" fill="#1c1c1c"/><circle cx="384.3" cy="438.1" r="1.48" fill="#1c1c1c"/><circle cx="384.3" cy="442.2" r="1.48" fill="#1c1c1c"/><circle cx="384.3" cy="447.1" r="1.48" fill="#1c1c1c"/>
<text x="423.3" y="394.8" font-family="Liberation Sans, sans-serif" font-weight="bold" font-size="15" fill="#111">m</text>
<text x="496.2" y="406.0" text-anchor="middle" font-family="Liberation Sans, sans-serif" font-weight="bold" font-size="11.2" fill="#111">Occipital cortex</text>
<path d="M454.7,409.5 L454.7,518.3 L539.0,518.3" fill="none" stroke="#111" stroke-width="1.9"/>
<line x1="451.09999999999997" y1="518.3" x2="454.7" y2="518.3" stroke="#111" stroke-width="1.6"/>
<text x="449.9" y="521.2" text-anchor="end" font-family="Liberation Sans, sans-serif" font-weight="bold" font-size="9.3" fill="#141414">0</text>
<line x1="451.09999999999997" y1="500.2" x2="454.7" y2="500.2" stroke="#111" stroke-width="1.6"/>
<text x="449.9" y="503.1" text-anchor="end" font-family="Liberation Sans, sans-serif" font-weight="bold" font-size="9.3" fill="#141414">1</text>
<line x1="451.09999999999997" y1="482.2" x2="454.7" y2="482.2" stroke="#111" stroke-width="1.6"/>
<text x="449.9" y="485.1" text-anchor="end" font-family="Liberation Sans, sans-serif" font-weight="bold" font-size="9.3" fill="#141414">2</text>
<line x1="451.09999999999997" y1="464.1" x2="454.7" y2="464.1" stroke="#111" stroke-width="1.6"/>
<text x="449.9" y="467.0" text-anchor="end" font-family="Liberation Sans, sans-serif" font-weight="bold" font-size="9.3" fill="#141414">3</text>
<line x1="451.09999999999997" y1="446.1" x2="454.7" y2="446.1" stroke="#111" stroke-width="1.6"/>
<text x="449.9" y="449.0" text-anchor="end" font-family="Liberation Sans, sans-serif" font-weight="bold" font-size="9.3" fill="#141414">4</text>
<line x1="451.09999999999997" y1="428.0" x2="454.7" y2="428.0" stroke="#111" stroke-width="1.6"/>
<text x="449.9" y="430.9" text-anchor="end" font-family="Liberation Sans, sans-serif" font-weight="bold" font-size="9.3" fill="#141414">5</text>
<line x1="451.09999999999997" y1="410.0" x2="454.7" y2="410.0" stroke="#111" stroke-width="1.6"/>
<text x="449.9" y="412.9" text-anchor="end" font-family="Liberation Sans, sans-serif" font-weight="bold" font-size="9.3" fill="#141414">6</text>
<line x1="473.9" y1="518.3" x2="473.9" y2="521.9" stroke="#111" stroke-width="1.6"/>
<line x1="517.8" y1="518.3" x2="517.8" y2="521.9" stroke="#111" stroke-width="1.6"/>
<text x="473.9" y="532.6999999999999" text-anchor="middle" font-family="Liberation Sans, sans-serif" font-weight="bold" font-size="9.7" fill="#141414">Male</text>
<text x="517.8" y="532.6999999999999" text-anchor="middle" font-family="Liberation Sans, sans-serif" font-weight="bold" font-size="9.7" fill="#141414">Female</text>
<text transform="translate(438.0,464.35) rotate(-90)" text-anchor="middle" textLength="92.7" lengthAdjust="spacingAndGlyphs" font-family="Liberation Sans, sans-serif" font-weight="bold" font-size="9.2" fill="#141414">Number (<tspan font-weight="normal">×</tspan>10<tspan baseline-shift="super" font-size="6.5">4</tspan>/mm<tspan baseline-shift="super" font-size="6.5">3</tspan>)</text>
<text x="459.9" y="512.5" font-family="Liberation Sans, sans-serif" font-style="italic" font-size="10" fill="#141414">* Diet main effect</text>
<g stroke="#1a9b64" stroke-width="1.8" fill="none"><line x1="465.6" y1="459" x2="465.6" y2="464.2"/><line x1="462.3" y1="459" x2="468.90000000000003" y2="459"/><line x1="465.6" y1="482.6" x2="465.6" y2="492.7"/><line x1="462.3" y1="492.7" x2="468.90000000000003" y2="492.7"/><rect x="461.15000000000003" y="464.2" width="8.9" height="18.400000000000034" fill="none"/><line x1="461.15000000000003" y1="472.1" x2="470.05" y2="472.1"/></g><circle cx="465.6" cy="459" r="1.48" fill="#1c1c1c"/><circle cx="465.6" cy="463.9" r="1.48" fill="#1c1c1c"/><circle cx="465.6" cy="467.6" r="1.48" fill="#1c1c1c"/><circle cx="465.6" cy="476.8" r="1.48" fill="#1c1c1c"/><circle cx="465.6" cy="480.5" r="1.48" fill="#1c1c1c"/><circle cx="465.6" cy="492.7" r="1.48" fill="#1c1c1c"/>
<g stroke="#a5181e" stroke-width="1.8" fill="none"><line x1="482.4" y1="462.6" x2="482.4" y2="468"/><line x1="479.09999999999997" y1="468" x2="485.7" y2="468"/><rect x="477.95" y="448.5" width="8.9" height="14.100000000000023" fill="#f4dcdc"/><line x1="477.95" y1="458.1" x2="486.84999999999997" y2="458.1"/></g><circle cx="480.5" cy="447.3" r="1.48" fill="#1c1c1c"/><circle cx="484.4" cy="447.6" r="1.48" fill="#1c1c1c"/><circle cx="482.4" cy="456.6" r="1.48" fill="#1c1c1c"/><circle cx="482.4" cy="460.2" r="1.48" fill="#1c1c1c"/><circle cx="482.4" cy="468" r="1.48" fill="#1c1c1c"/>
<g stroke="#1a9b64" stroke-width="1.8" fill="none"><line x1="509.7" y1="459.6" x2="509.7" y2="462.0"/><line x1="506.4" y1="459.6" x2="513.0" y2="459.6"/><line x1="509.7" y1="473.40000000000003" x2="509.7" y2="479"/><line x1="506.4" y1="479" x2="513.0" y2="479"/><rect x="505.25" y="462.0" width="8.9" height="11.400000000000034" fill="none"/><line x1="505.25" y1="462.7" x2="514.15" y2="462.7"/></g><circle cx="509.7" cy="459.6" r="1.48" fill="#1c1c1c"/><circle cx="509.7" cy="461.5" r="1.48" fill="#1c1c1c"/><circle cx="509.7" cy="463.9" r="1.48" fill="#1c1c1c"/><circle cx="509.7" cy="470.7" r="1.48" fill="#1c1c1c"/><circle cx="509.7" cy="479" r="1.48" fill="#1c1c1c"/>
<g stroke="#a5181e" stroke-width="1.8" fill="none"><line x1="526.5" y1="446.1" x2="526.5" y2="454.4"/><line x1="523.2" y1="446.1" x2="529.8" y2="446.1"/><rect x="522.05" y="454.4" width="8.9" height="11.700000000000045" fill="#f4dcdc"/><line x1="522.05" y1="463.9" x2="530.95" y2="463.9"/></g><circle cx="526.5" cy="446.1" r="1.48" fill="#1c1c1c"/><circle cx="526.5" cy="459.6" r="1.48" fill="#1c1c1c"/><circle cx="526.5" cy="463.9" r="1.48" fill="#1c1c1c"/><circle cx="524.4" cy="467.5" r="1.48" fill="#1c1c1c"/><circle cx="528.3" cy="467.2" r="1.48" fill="#1c1c1c"/>
<text x="566.5" y="394.8" font-family="Liberation Sans, sans-serif" font-weight="bold" font-size="15" fill="#111">n</text>
<text x="641.8" y="406.0" text-anchor="middle" font-family="Liberation Sans, sans-serif" font-weight="bold" font-size="11.2" fill="#111">Hippocampus</text>
<path d="M600.3,409.5 L600.3,518.3 L684.5999999999999,518.3" fill="none" stroke="#111" stroke-width="1.9"/>
<line x1="596.6999999999999" y1="518.3" x2="600.3" y2="518.3" stroke="#111" stroke-width="1.6"/>
<text x="595.5" y="521.2" text-anchor="end" font-family="Liberation Sans, sans-serif" font-weight="normal" font-size="9.3" fill="#141414">0</text>
<line x1="596.6999999999999" y1="502.8" x2="600.3" y2="502.8" stroke="#111" stroke-width="1.6"/>
<text x="595.5" y="505.7" text-anchor="end" font-family="Liberation Sans, sans-serif" font-weight="normal" font-size="9.3" fill="#141414">1</text>
<line x1="596.6999999999999" y1="487.4" x2="600.3" y2="487.4" stroke="#111" stroke-width="1.6"/>
<text x="595.5" y="490.3" text-anchor="end" font-family="Liberation Sans, sans-serif" font-weight="normal" font-size="9.3" fill="#141414">2</text>
<line x1="596.6999999999999" y1="471.9" x2="600.3" y2="471.9" stroke="#111" stroke-width="1.6"/>
<text x="595.5" y="474.8" text-anchor="end" font-family="Liberation Sans, sans-serif" font-weight="normal" font-size="9.3" fill="#141414">3</text>
<line x1="596.6999999999999" y1="456.4" x2="600.3" y2="456.4" stroke="#111" stroke-width="1.6"/>
<text x="595.5" y="459.3" text-anchor="end" font-family="Liberation Sans, sans-serif" font-weight="normal" font-size="9.3" fill="#141414">4</text>
<line x1="596.6999999999999" y1="440.9" x2="600.3" y2="440.9" stroke="#111" stroke-width="1.6"/>
<text x="595.5" y="443.8" text-anchor="end" font-family="Liberation Sans, sans-serif" font-weight="normal" font-size="9.3" fill="#141414">5</text>
<line x1="596.6999999999999" y1="425.5" x2="600.3" y2="425.5" stroke="#111" stroke-width="1.6"/>
<text x="595.5" y="428.4" text-anchor="end" font-family="Liberation Sans, sans-serif" font-weight="normal" font-size="9.3" fill="#141414">6</text>
<line x1="596.6999999999999" y1="410.0" x2="600.3" y2="410.0" stroke="#111" stroke-width="1.6"/>
<text x="595.5" y="412.9" text-anchor="end" font-family="Liberation Sans, sans-serif" font-weight="normal" font-size="9.3" fill="#141414">7</text>
<line x1="619.5" y1="518.3" x2="619.5" y2="521.9" stroke="#111" stroke-width="1.6"/>
<line x1="663.4" y1="518.3" x2="663.4" y2="521.9" stroke="#111" stroke-width="1.6"/>
<text x="619.5" y="532.6999999999999" text-anchor="middle" font-family="Liberation Sans, sans-serif" font-weight="bold" font-size="9.7" fill="#141414">Male</text>
<text x="663.4" y="532.6999999999999" text-anchor="middle" font-family="Liberation Sans, sans-serif" font-weight="bold" font-size="9.7" fill="#141414">Female</text>
<text transform="translate(585.0999999999999,466.35) rotate(-90)" text-anchor="middle" textLength="88.7" lengthAdjust="spacingAndGlyphs" font-family="Liberation Sans, sans-serif" font-weight="bold" font-size="9.2" fill="#141414">Number <tspan font-weight="normal">×</tspan> 10<tspan baseline-shift="super" font-size="6.5">4</tspan>/mm<tspan baseline-shift="super" font-size="6.5">3</tspan></text>
<g stroke="#1a9b64" stroke-width="1.8" fill="none"><line x1="611.4" y1="468" x2="611.4" y2="477.9"/><line x1="608.1" y1="468" x2="614.6999999999999" y2="468"/><line x1="611.4" y1="489.6" x2="611.4" y2="492.7"/><line x1="608.1" y1="492.7" x2="614.6999999999999" y2="492.7"/><rect x="606.9499999999999" y="477.9" width="8.9" height="11.700000000000045" fill="none"/><line x1="605.65" y1="486.4" x2="617.15" y2="486.4"/></g><circle cx="611.4" cy="468" r="1.3" fill="#1c1c1c"/><circle cx="611.4" cy="479.2" r="1.3" fill="#1c1c1c"/><circle cx="611.4" cy="482.9" r="1.3" fill="#1c1c1c"/><circle cx="609.3" cy="489" r="1.3" fill="#1c1c1c"/><circle cx="612.6" cy="490.5" r="1.3" fill="#1c1c1c"/><circle cx="611.4" cy="492.7" r="1.3" fill="#1c1c1c"/>
<g stroke="#a5181e" stroke-width="1.8" fill="none"><line x1="628" y1="477.40000000000003" x2="628" y2="481.7"/><line x1="624.7" y1="481.7" x2="631.3" y2="481.7"/><rect x="623.55" y="461.5" width="8.9" height="15.900000000000034" fill="#f4dcdc"/><line x1="622.25" y1="468.4" x2="633.75" y2="468.4"/></g><circle cx="626.1" cy="459.6" r="1.3" fill="#1c1c1c"/><circle cx="629.8" cy="460.8" r="1.3" fill="#1c1c1c"/><circle cx="627.7" cy="468.4" r="1.3" fill="#1c1c1c"/><circle cx="627.7" cy="474.9" r="1.3" fill="#1c1c1c"/><circle cx="627.7" cy="481.7" r="1.3" fill="#1c1c1c"/>
<g stroke="#1a9b64" stroke-width="1.8" fill="none"><line x1="655.3" y1="448" x2="655.3" y2="457.5"/><line x1="652.0" y1="448" x2="658.5999999999999" y2="448"/><rect x="650.8499999999999" y="457.5" width="8.9" height="30.400000000000034" fill="none"/><line x1="649.55" y1="479.2" x2="661.05" y2="479.2"/></g><circle cx="655" cy="448" r="1.3" fill="#1c1c1c"/><circle cx="655" cy="463.9" r="1.3" fill="#1c1c1c"/><circle cx="655" cy="479.2" r="1.3" fill="#1c1c1c"/><circle cx="653.1" cy="489" r="1.3" fill="#1c1c1c"/><circle cx="657.2" cy="489" r="1.3" fill="#1c1c1c"/>
<g stroke="#a5181e" stroke-width="1.8" fill="none"><line x1="671.5" y1="475.3" x2="671.5" y2="479.9"/><line x1="668.2" y1="475.3" x2="674.8" y2="475.3"/><rect x="667.05" y="479.9" width="8.9" height="9.200000000000045" fill="#f4dcdc"/><line x1="665.75" y1="483.9" x2="677.25" y2="483.9"/></g><circle cx="671.9" cy="475.3" r="1.3" fill="#1c1c1c"/><circle cx="671.9" cy="482" r="1.3" fill="#1c1c1c"/><circle cx="671.9" cy="484" r="1.3" fill="#1c1c1c"/><circle cx="669.7" cy="490" r="1.3" fill="#1c1c1c"/><circle cx="673.6" cy="488.8" r="1.3" fill="#1c1c1c"/>
</svg></body></html>
